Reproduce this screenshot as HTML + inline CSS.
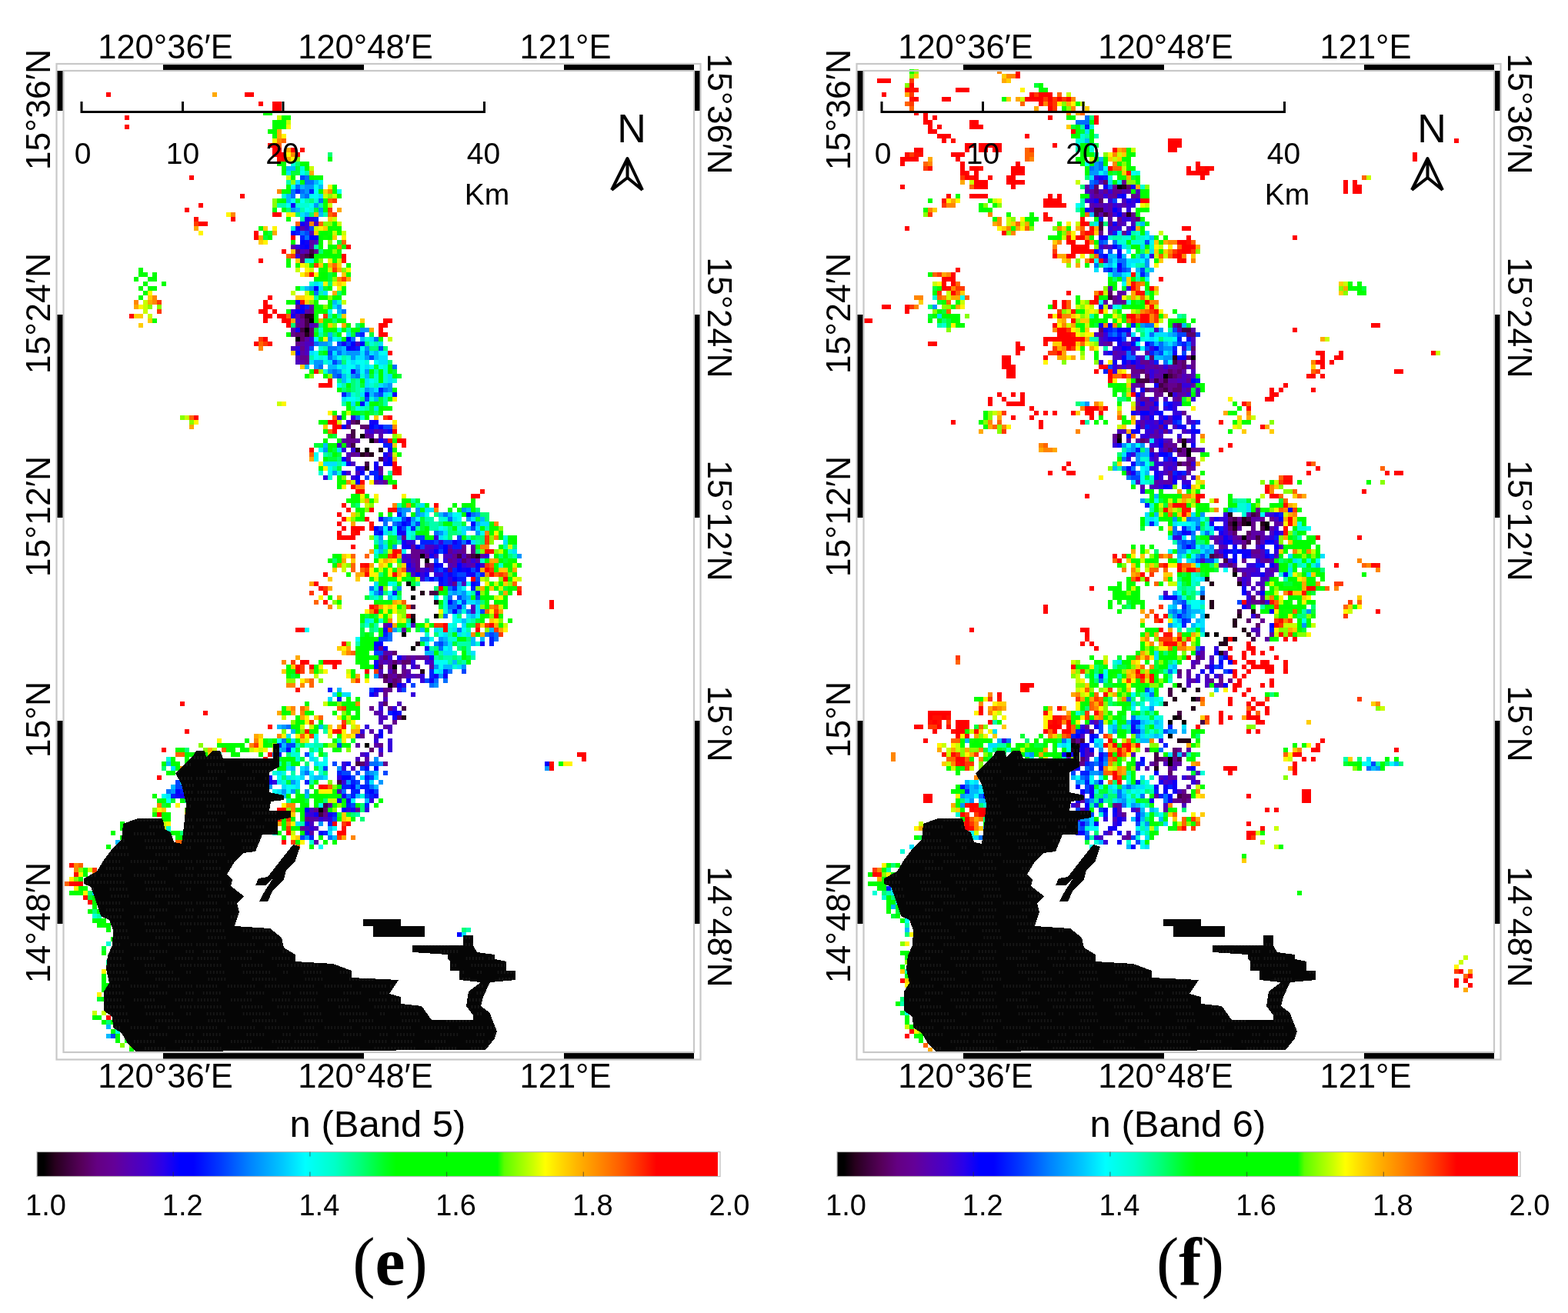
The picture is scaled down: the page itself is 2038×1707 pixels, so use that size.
<!DOCTYPE html>
<html><head><meta charset="utf-8"><title>n (Band 5) / n (Band 6)</title>
<style>html,body{margin:0;padding:0;background:#fff;} svg{display:block;} text{font-family:'Liberation Sans', Arial, sans-serif;fill:#000;} text.serif{font-family:'Liberation Serif',serif;font-weight:bold;}</style>
</head><body>
<svg width="2038" height="1707" viewBox="0 0 2038 1707">
<defs><linearGradient id="cb" x1="0" x2="1" y1="0" y2="0"><stop offset="0" stop-color="#000000"/><stop offset="0.01" stop-color="#000000"/><stop offset="0.027" stop-color="#28001e"/><stop offset="0.046" stop-color="#3e003e"/><stop offset="0.064" stop-color="#550058"/><stop offset="0.088" stop-color="#640082"/><stop offset="0.113" stop-color="#640098"/><stop offset="0.137" stop-color="#5500b4"/><stop offset="0.161" stop-color="#4600cb"/><stop offset="0.186" stop-color="#2800eb"/><stop offset="0.209" stop-color="#0000ff"/><stop offset="0.229" stop-color="#0000ff"/><stop offset="0.27" stop-color="#003cff"/><stop offset="0.31" stop-color="#0080ff"/><stop offset="0.36" stop-color="#00c8ff"/><stop offset="0.393" stop-color="#00ffff"/><stop offset="0.436" stop-color="#00ffc8"/><stop offset="0.474" stop-color="#00ff78"/><stop offset="0.51" stop-color="#00ff1e"/><stop offset="0.526" stop-color="#00ff00"/><stop offset="0.674" stop-color="#00ff00"/><stop offset="0.684" stop-color="#5aff00"/><stop offset="0.706" stop-color="#96ff00"/><stop offset="0.725" stop-color="#c8ff00"/><stop offset="0.744" stop-color="#ffff00"/><stop offset="0.768" stop-color="#ffd700"/><stop offset="0.791" stop-color="#ffb400"/><stop offset="0.828" stop-color="#ff8200"/><stop offset="0.856" stop-color="#ff5a00"/><stop offset="0.885" stop-color="#ff2800"/><stop offset="0.907" stop-color="#ff0000"/><stop offset="0.996" stop-color="#ff0000"/><stop offset="0.997" stop-color="#ffffff"/><stop offset="1" stop-color="#ffffff"/></linearGradient></defs>
<defs><pattern id="tex" width="126" height="54" patternUnits="userSpaceOnUse"><rect x="4.8" y="2" width="1.6" height="4" fill="#1c1c1c"/><rect x="9.0" y="2" width="1.6" height="4" fill="#1c1c1c"/><rect x="13.2" y="2" width="1.6" height="4" fill="#1c1c1c"/><rect x="17.4" y="2" width="1.6" height="4" fill="#1c1c1c"/><rect x="21.6" y="2" width="1.6" height="4" fill="#1c1c1c"/><rect x="25.8" y="2" width="1.6" height="4" fill="#1c1c1c"/><rect x="30.0" y="2" width="1.6" height="4" fill="#1c1c1c"/><rect x="48.1" y="2" width="1.6" height="4" fill="#1c1c1c"/><rect x="52.3" y="2" width="1.6" height="4" fill="#1c1c1c"/><rect x="56.5" y="2" width="1.6" height="4" fill="#1c1c1c"/><rect x="60.7" y="2" width="1.6" height="4" fill="#1c1c1c"/><rect x="64.9" y="2" width="1.6" height="4" fill="#1c1c1c"/><rect x="69.1" y="2" width="1.6" height="4" fill="#1c1c1c"/><rect x="73.3" y="2" width="1.6" height="4" fill="#1c1c1c"/><rect x="101.7" y="2" width="1.6" height="4" fill="#1c1c1c"/><rect x="105.9" y="2" width="1.6" height="4" fill="#1c1c1c"/><rect x="110.1" y="2" width="1.6" height="4" fill="#1c1c1c"/><rect x="114.3" y="2" width="1.6" height="4" fill="#1c1c1c"/><rect x="118.5" y="2" width="1.6" height="4" fill="#1c1c1c"/><rect x="122.7" y="2" width="1.6" height="4" fill="#1c1c1c"/><rect x="0.3" y="11" width="1.6" height="4" fill="#1c1c1c"/><rect x="4.5" y="11" width="1.6" height="4" fill="#1c1c1c"/><rect x="8.7" y="11" width="1.6" height="4" fill="#1c1c1c"/><rect x="12.9" y="11" width="1.6" height="4" fill="#1c1c1c"/><rect x="17.1" y="11" width="1.6" height="4" fill="#1c1c1c"/><rect x="21.3" y="11" width="1.6" height="4" fill="#1c1c1c"/><rect x="25.5" y="11" width="1.6" height="4" fill="#1c1c1c"/><rect x="29.7" y="11" width="1.6" height="4" fill="#1c1c1c"/><rect x="33.9" y="11" width="1.6" height="4" fill="#1c1c1c"/><rect x="62.1" y="11" width="1.6" height="4" fill="#1c1c1c"/><rect x="66.3" y="11" width="1.6" height="4" fill="#1c1c1c"/><rect x="70.5" y="11" width="1.6" height="4" fill="#1c1c1c"/><rect x="74.7" y="11" width="1.6" height="4" fill="#1c1c1c"/><rect x="78.9" y="11" width="1.6" height="4" fill="#1c1c1c"/><rect x="83.1" y="11" width="1.6" height="4" fill="#1c1c1c"/><rect x="87.3" y="11" width="1.6" height="4" fill="#1c1c1c"/><rect x="108.6" y="11" width="1.6" height="4" fill="#1c1c1c"/><rect x="112.8" y="11" width="1.6" height="4" fill="#1c1c1c"/><rect x="117.0" y="11" width="1.6" height="4" fill="#1c1c1c"/><rect x="121.2" y="11" width="1.6" height="4" fill="#1c1c1c"/><rect x="16.7" y="20" width="1.6" height="4" fill="#1c1c1c"/><rect x="20.9" y="20" width="1.6" height="4" fill="#1c1c1c"/><rect x="25.1" y="20" width="1.6" height="4" fill="#1c1c1c"/><rect x="29.3" y="20" width="1.6" height="4" fill="#1c1c1c"/><rect x="33.5" y="20" width="1.6" height="4" fill="#1c1c1c"/><rect x="37.7" y="20" width="1.6" height="4" fill="#1c1c1c"/><rect x="63.8" y="20" width="1.6" height="4" fill="#1c1c1c"/><rect x="68.0" y="20" width="1.6" height="4" fill="#1c1c1c"/><rect x="72.2" y="20" width="1.6" height="4" fill="#1c1c1c"/><rect x="76.4" y="20" width="1.6" height="4" fill="#1c1c1c"/><rect x="80.6" y="20" width="1.6" height="4" fill="#1c1c1c"/><rect x="84.8" y="20" width="1.6" height="4" fill="#1c1c1c"/><rect x="89.0" y="20" width="1.6" height="4" fill="#1c1c1c"/><rect x="93.2" y="20" width="1.6" height="4" fill="#1c1c1c"/><rect x="97.4" y="20" width="1.6" height="4" fill="#1c1c1c"/><rect x="116.2" y="20" width="1.6" height="4" fill="#1c1c1c"/><rect x="120.4" y="20" width="1.6" height="4" fill="#1c1c1c"/><rect x="18.5" y="29" width="1.6" height="4" fill="#1c1c1c"/><rect x="22.7" y="29" width="1.6" height="4" fill="#1c1c1c"/><rect x="26.9" y="29" width="1.6" height="4" fill="#1c1c1c"/><rect x="31.1" y="29" width="1.6" height="4" fill="#1c1c1c"/><rect x="35.3" y="29" width="1.6" height="4" fill="#1c1c1c"/><rect x="39.5" y="29" width="1.6" height="4" fill="#1c1c1c"/><rect x="76.0" y="29" width="1.6" height="4" fill="#1c1c1c"/><rect x="80.2" y="29" width="1.6" height="4" fill="#1c1c1c"/><rect x="84.4" y="29" width="1.6" height="4" fill="#1c1c1c"/><rect x="88.6" y="29" width="1.6" height="4" fill="#1c1c1c"/><rect x="92.8" y="29" width="1.6" height="4" fill="#1c1c1c"/><rect x="97.0" y="29" width="1.6" height="4" fill="#1c1c1c"/><rect x="101.2" y="29" width="1.6" height="4" fill="#1c1c1c"/><rect x="105.4" y="29" width="1.6" height="4" fill="#1c1c1c"/><rect x="3.2" y="38" width="1.6" height="4" fill="#1c1c1c"/><rect x="7.4" y="38" width="1.6" height="4" fill="#1c1c1c"/><rect x="11.6" y="38" width="1.6" height="4" fill="#1c1c1c"/><rect x="15.8" y="38" width="1.6" height="4" fill="#1c1c1c"/><rect x="20.0" y="38" width="1.6" height="4" fill="#1c1c1c"/><rect x="24.2" y="38" width="1.6" height="4" fill="#1c1c1c"/><rect x="28.4" y="38" width="1.6" height="4" fill="#1c1c1c"/><rect x="43.9" y="38" width="1.6" height="4" fill="#1c1c1c"/><rect x="48.1" y="38" width="1.6" height="4" fill="#1c1c1c"/><rect x="52.3" y="38" width="1.6" height="4" fill="#1c1c1c"/><rect x="56.5" y="38" width="1.6" height="4" fill="#1c1c1c"/><rect x="60.7" y="38" width="1.6" height="4" fill="#1c1c1c"/><rect x="64.9" y="38" width="1.6" height="4" fill="#1c1c1c"/><rect x="69.1" y="38" width="1.6" height="4" fill="#1c1c1c"/><rect x="73.3" y="38" width="1.6" height="4" fill="#1c1c1c"/><rect x="77.5" y="38" width="1.6" height="4" fill="#1c1c1c"/><rect x="92.6" y="38" width="1.6" height="4" fill="#1c1c1c"/><rect x="96.8" y="38" width="1.6" height="4" fill="#1c1c1c"/><rect x="101.0" y="38" width="1.6" height="4" fill="#1c1c1c"/><rect x="105.2" y="38" width="1.6" height="4" fill="#1c1c1c"/><rect x="109.4" y="38" width="1.6" height="4" fill="#1c1c1c"/><rect x="113.6" y="38" width="1.6" height="4" fill="#1c1c1c"/><rect x="117.8" y="38" width="1.6" height="4" fill="#1c1c1c"/><rect x="122.0" y="38" width="1.6" height="4" fill="#1c1c1c"/><rect x="11.9" y="47" width="1.6" height="4" fill="#1c1c1c"/><rect x="16.1" y="47" width="1.6" height="4" fill="#1c1c1c"/><rect x="20.3" y="47" width="1.6" height="4" fill="#1c1c1c"/><rect x="24.5" y="47" width="1.6" height="4" fill="#1c1c1c"/><rect x="28.7" y="47" width="1.6" height="4" fill="#1c1c1c"/><rect x="32.9" y="47" width="1.6" height="4" fill="#1c1c1c"/><rect x="68.5" y="47" width="1.6" height="4" fill="#1c1c1c"/><rect x="72.7" y="47" width="1.6" height="4" fill="#1c1c1c"/><rect x="76.9" y="47" width="1.6" height="4" fill="#1c1c1c"/><rect x="81.1" y="47" width="1.6" height="4" fill="#1c1c1c"/><rect x="85.3" y="47" width="1.6" height="4" fill="#1c1c1c"/><rect x="89.5" y="47" width="1.6" height="4" fill="#1c1c1c"/><rect x="115.6" y="47" width="1.6" height="4" fill="#1c1c1c"/><rect x="119.8" y="47" width="1.6" height="4" fill="#1c1c1c"/><rect x="124.0" y="47" width="1.6" height="4" fill="#1c1c1c"/></pattern></defs><g shape-rendering="crispEdges">
<path fill="#000000" d="M552 726h6v6h-6zM474 966h6v6h-6z"/>
<path fill="#000000" d="M402 414h6v6h-6zM396 426h6v6h-6zM384 438h6v6h-6zM468 564h6v6h-6zM480 570h6v6h-6zM474 582h6v6h-6zM546 720h6v6h-6zM528 756h6v6h-6zM534 762h6v6h-6zM534 774h6v6h-6zM564 798h6v6h-6zM534 804h6v6h-6zM522 822h6v6h-6zM534 840h6v6h-6zM510 864h6v6h-6zM504 888h6v6h-6zM414 1050h6v6h-6z"/>
<path fill="#23001a" d="M402 330h6v6h-6zM396 408h12v6h-12zM396 432h6v6h-6zM462 582h6v6h-6zM492 582h6v6h-6zM468 588h6v6h-6zM480 588h6v6h-6zM474 606h6v6h-6zM618 720h6v6h-6zM546 768h6v6h-6zM564 780h6v6h-6zM534 798h6v6h-6zM540 834h6v6h-6zM546 870h6v6h-6zM522 930h6v6h-6z"/>
<path fill="#430044" d="M402 324h6v6h-6zM396 330h6v6h-6zM396 414h6v6h-6zM396 420h6v6h-6zM390 426h6v6h-6zM462 546h6v6h-6zM456 558h6v6h-6zM456 564h6v6h-6zM456 576h6v6h-6zM474 588h6v6h-6zM492 594h6v6h-6zM474 600h6v6h-6zM594 720h6v6h-6zM612 720h6v6h-6zM558 768h12v6h-12zM534 786h6v6h-6zM498 876h6v6h-6zM522 918h6v6h-6zM462 990h6v6h-6zM438 1014h6v6h-6zM420 1044h6v6h-6zM414 1056h6v6h-6z"/>
<path fill="#5c006b" d="M384 324h6v6h-6zM390 330h6v6h-6zM390 336h6v6h-6zM390 408h6v6h-6zM402 426h6v6h-6zM384 432h12v6h-12zM402 432h6v6h-6zM390 438h6v6h-6zM456 546h6v6h-6zM468 552h12v6h-12zM486 570h6v6h-6zM606 720h6v6h-6zM600 726h6v6h-6zM552 732h6v6h-6zM510 846h6v6h-6zM498 852h6v6h-6zM510 858h6v6h-6zM522 858h12v6h-12zM492 864h6v6h-6zM510 870h6v6h-6zM516 876h6v6h-6zM498 882h6v6h-6zM510 882h6v6h-6zM510 888h6v6h-6zM498 912h6v6h-6zM516 930h6v6h-6zM480 972h6v6h-6zM468 990h6v6h-6zM420 1050h6v6h-6z"/>
<path fill="#64008d" d="M408 324h6v6h-6zM384 396h6v6h-6zM402 402h6v6h-6zM390 414h6v6h-6zM384 420h12v6h-12zM378 432h6v6h-6zM384 444h6v6h-6zM390 450h6v6h-6zM390 462h12v6h-12zM396 468h6v6h-6zM450 552h6v6h-6zM450 564h6v6h-6zM474 564h6v6h-6zM450 570h12v6h-12zM456 588h6v6h-6zM492 606h6v6h-6zM498 624h6v6h-6zM522 696h6v6h-6zM600 708h6v6h-6zM534 714h12v6h-12zM582 714h6v6h-6zM600 714h6v6h-6zM612 714h6v6h-6zM534 720h12v6h-12zM552 720h6v6h-6zM588 720h6v6h-6zM540 726h6v6h-6zM582 726h6v6h-6zM540 732h6v6h-6zM558 732h6v6h-6zM540 738h6v6h-6zM582 738h6v6h-6zM588 756h6v6h-6zM492 840h6v6h-6zM528 852h6v6h-6zM540 852h12v6h-12zM504 864h6v6h-6zM522 870h6v6h-6zM504 876h6v6h-6zM522 876h6v6h-6zM516 882h6v6h-6zM498 894h12v6h-12zM498 900h6v6h-6zM480 918h6v6h-6zM504 918h6v6h-6zM510 936h6v6h-6zM468 954h6v6h-6zM492 966h6v6h-6zM498 990h6v6h-6zM408 1050h6v6h-6zM462 1050h6v6h-6zM420 1056h6v6h-6zM396 1062h6v6h-6zM390 1074h6v6h-6z"/>
<path fill="#5c00a6" d="M390 294h6v6h-6zM402 312h6v6h-6zM378 318h6v6h-6zM402 318h6v6h-6zM396 324h6v6h-6zM402 396h6v6h-6zM396 402h6v6h-6zM384 408h6v6h-6zM408 420h6v6h-6zM378 426h6v6h-6zM396 438h6v6h-6zM390 444h6v6h-6zM390 456h6v6h-6zM384 462h6v6h-6zM390 468h6v6h-6zM486 558h6v6h-6zM480 564h6v6h-6zM492 564h6v6h-6zM444 570h6v6h-6zM462 570h6v6h-6zM450 576h6v6h-6zM462 588h6v6h-6zM450 594h6v6h-6zM492 612h6v6h-6zM486 624h6v6h-6zM534 708h6v6h-6zM612 708h6v6h-6zM546 714h6v6h-6zM594 714h6v6h-6zM624 720h6v6h-6zM534 726h6v6h-6zM588 726h6v6h-6zM606 726h6v6h-6zM618 726h6v6h-6zM588 732h6v6h-6zM612 732h6v6h-6zM558 738h6v6h-6zM498 810h6v6h-6zM522 816h6v6h-6zM498 846h12v6h-12zM534 852h6v6h-6zM552 852h6v6h-6zM492 858h6v6h-6zM504 858h6v6h-6zM516 858h6v6h-6zM522 864h6v6h-6zM540 864h6v6h-6zM558 864h6v6h-6zM528 870h6v6h-6zM492 876h6v6h-6zM510 876h6v6h-6zM540 876h6v6h-6zM504 882h6v6h-6zM486 924h6v6h-6zM498 942h6v6h-6zM480 948h6v6h-6zM462 966h6v6h-6zM486 966h6v6h-6zM492 978h6v6h-6zM474 984h6v6h-6zM426 1044h6v6h-6zM402 1062h12v6h-12zM402 1080h6v6h-6zM408 1092h6v6h-6z"/>
<path fill="#4d00c0" d="M408 288h6v6h-6zM402 300h6v6h-6zM408 312h6v6h-6zM390 324h6v6h-6zM384 414h6v6h-6zM402 420h6v6h-6zM396 444h12v6h-12zM462 444h6v6h-6zM378 450h6v6h-6zM396 450h6v6h-6zM396 456h6v6h-6zM384 468h6v6h-6zM474 558h6v6h-6zM492 558h6v6h-6zM498 570h6v6h-6zM438 576h6v6h-6zM450 588h6v6h-6zM504 588h6v6h-6zM456 600h6v6h-6zM450 612h6v6h-6zM462 612h6v6h-6zM492 624h6v6h-6zM552 708h12v6h-12zM582 708h6v6h-6zM552 714h6v6h-6zM588 714h6v6h-6zM528 720h6v6h-6zM564 720h6v6h-6zM576 720h12v6h-12zM600 720h6v6h-6zM522 726h6v6h-6zM534 732h6v6h-6zM582 732h6v6h-6zM606 732h6v6h-6zM624 732h6v6h-6zM546 738h6v6h-6zM534 744h6v6h-6zM600 756h6v6h-6zM612 786h6v6h-6zM612 792h6v6h-6zM534 810h6v6h-6zM492 852h6v6h-6zM522 852h6v6h-6zM498 858h6v6h-6zM558 858h6v6h-6zM492 870h6v6h-6zM504 870h6v6h-6zM528 876h12v6h-12zM498 906h6v6h-6zM492 912h6v6h-6zM516 912h6v6h-6zM492 924h6v6h-6zM492 930h12v6h-12zM492 936h6v6h-6zM504 942h6v6h-6zM504 948h6v6h-6zM486 954h6v6h-6zM468 978h6v6h-6zM462 984h6v6h-6zM474 990h6v6h-6zM456 996h6v6h-6zM438 1026h6v6h-6zM402 1050h6v6h-6zM420 1062h6v6h-6zM402 1068h6v6h-6zM396 1074h6v6h-6zM408 1074h6v6h-6z"/>
<path fill="#3500dd" d="M402 282h6v6h-6zM396 288h6v6h-6zM396 294h6v6h-6zM384 318h6v6h-6zM384 330h6v6h-6zM378 402h6v6h-6zM402 438h6v6h-6zM384 450h6v6h-6zM438 540h6v6h-6zM456 540h6v6h-6zM450 546h6v6h-6zM480 558h6v6h-6zM498 558h6v6h-6zM444 582h6v6h-6zM456 582h6v6h-6zM498 594h6v6h-6zM468 606h6v6h-6zM420 618h6v6h-6zM456 618h6v6h-6zM564 696h6v6h-6zM528 702h12v6h-12zM570 702h6v6h-6zM564 708h6v6h-6zM558 714h6v6h-6zM522 720h6v6h-6zM630 720h6v6h-6zM528 726h6v6h-6zM576 726h6v6h-6zM594 726h6v6h-6zM612 726h6v6h-6zM600 732h6v6h-6zM528 738h12v6h-12zM552 738h6v6h-6zM546 744h6v6h-6zM564 744h12v6h-12zM546 750h6v6h-6zM582 750h6v6h-6zM582 756h6v6h-6zM492 762h6v6h-6zM504 810h6v6h-6zM504 852h6v6h-6zM534 858h6v6h-6zM552 858h6v6h-6zM534 864h6v6h-6zM546 876h6v6h-6zM546 882h6v6h-6zM522 888h6v6h-6zM492 894h6v6h-6zM516 894h6v6h-6zM486 900h6v6h-6zM534 900h6v6h-6zM492 918h6v6h-6zM510 918h6v6h-6zM474 942h6v6h-6zM468 948h6v6h-6zM462 954h6v6h-6zM486 960h6v6h-6zM504 960h6v6h-6zM504 966h6v6h-6zM492 972h6v6h-6zM504 972h6v6h-6zM474 978h6v6h-6zM444 990h6v6h-6zM444 996h6v6h-6zM438 1008h6v6h-6zM354 1014h6v6h-6zM444 1014h6v6h-6zM480 1038h6v6h-6zM450 1050h6v6h-6zM474 1050h6v6h-6zM396 1056h12v6h-12zM414 1062h6v6h-6zM426 1062h6v6h-6zM402 1074h6v6h-6z"/>
<path fill="#1000f7" d="M378 264h6v6h-6zM396 282h6v6h-6zM390 288h6v6h-6zM384 294h6v6h-6zM396 312h6v6h-6zM390 318h6v6h-6zM384 390h6v6h-6zM390 396h6v6h-6zM378 408h6v6h-6zM384 426h6v6h-6zM444 444h6v6h-6zM456 450h6v6h-6zM456 480h6v6h-6zM510 510h6v6h-6zM480 546h12v6h-12zM504 558h6v6h-6zM492 570h6v6h-6zM504 582h6v6h-6zM498 588h6v6h-6zM450 600h6v6h-6zM486 600h6v6h-6zM498 600h6v6h-6zM462 606h6v6h-6zM486 606h6v6h-6zM462 618h6v6h-6zM492 672h6v6h-6zM528 672h6v6h-6zM516 690h12v6h-12zM522 702h6v6h-6zM588 702h6v6h-6zM522 708h12v6h-12zM558 720h6v6h-6zM528 732h6v6h-6zM570 732h6v6h-6zM576 738h6v6h-6zM600 738h6v6h-6zM618 738h6v6h-6zM552 744h6v6h-6zM582 744h6v6h-6zM606 744h12v6h-12zM570 756h6v6h-6zM594 786h6v6h-6zM498 816h6v6h-6zM624 834h6v6h-6zM486 840h6v6h-6zM552 840h6v6h-6zM516 852h6v6h-6zM558 852h6v6h-6zM486 858h6v6h-6zM564 876h6v6h-6zM576 876h6v6h-6zM528 882h6v6h-6zM558 882h6v6h-6zM486 894h6v6h-6zM516 924h6v6h-6zM510 930h6v6h-6zM492 948h6v6h-6zM450 990h6v6h-6zM474 996h6v6h-6zM348 1008h6v6h-6zM348 1014h6v6h-6zM240 1026h6v6h-6zM228 1032h12v6h-12zM444 1032h6v6h-6zM486 1032h6v6h-6zM438 1038h6v6h-6zM450 1038h6v6h-6zM456 1050h6v6h-6zM408 1056h6v6h-6zM426 1056h6v6h-6zM396 1068h6v6h-6zM396 1080h6v6h-6z"/>
<path fill="#0000ff" d="M378 300h6v6h-6zM402 306h12v6h-12zM390 312h6v6h-6zM396 318h6v6h-6zM408 372h6v6h-6zM384 402h12v6h-12zM450 438h6v6h-6zM456 444h6v6h-6zM468 444h6v6h-6zM450 450h6v6h-6zM384 456h6v6h-6zM474 510h6v6h-6zM468 522h6v6h-6zM444 552h6v6h-6zM480 552h6v6h-6zM492 552h6v6h-6zM444 594h6v6h-6zM504 594h6v6h-6zM504 600h6v6h-6zM444 612h6v6h-6zM468 612h6v6h-6zM492 618h6v6h-6zM462 624h6v6h-6zM606 666h6v6h-6zM522 678h6v6h-6zM612 678h6v6h-6zM486 684h6v6h-6zM516 684h6v6h-6zM492 690h6v6h-6zM606 702h6v6h-6zM540 708h6v6h-6zM576 708h6v6h-6zM564 714h6v6h-6zM576 714h6v6h-6zM564 732h6v6h-6zM594 732h6v6h-6zM618 732h6v6h-6zM594 738h6v6h-6zM606 738h6v6h-6zM540 744h6v6h-6zM558 750h6v6h-6zM570 750h6v6h-6zM588 750h6v6h-6zM612 756h6v6h-6zM618 768h6v6h-6zM582 780h6v6h-6zM588 792h6v6h-6zM486 834h12v6h-12zM498 840h6v6h-6zM486 864h6v6h-6zM516 888h6v6h-6zM480 900h6v6h-6zM510 924h6v6h-6zM492 954h6v6h-6zM372 972h6v6h-6zM708 990h6v6h-6zM486 996h6v6h-6zM444 1008h12v6h-12zM456 1020h6v6h-6zM228 1026h6v6h-6zM480 1026h6v6h-6zM240 1032h6v6h-6zM396 1050h6v6h-6zM444 1050h6v6h-6zM414 1080h6v6h-6zM198 1098h6v6h-6zM594 1212h6v6h-6z"/>
<path fill="#001fff" d="M384 246h6v6h-6zM402 246h6v6h-6zM408 282h6v6h-6zM384 300h6v6h-6zM390 306h6v6h-6zM396 396h6v6h-6zM468 432h6v6h-6zM462 450h6v6h-6zM492 504h6v6h-6zM444 510h6v6h-6zM486 552h6v6h-6zM498 576h12v6h-12zM480 612h12v6h-12zM486 618h6v6h-6zM516 666h6v6h-6zM528 678h6v6h-6zM504 684h6v6h-6zM534 684h6v6h-6zM486 690h6v6h-6zM546 702h18v6h-18zM594 702h6v6h-6zM570 708h6v6h-6zM588 708h12v6h-12zM564 738h6v6h-6zM588 738h6v6h-6zM576 744h6v6h-6zM588 744h6v6h-6zM624 744h6v6h-6zM576 750h6v6h-6zM594 750h12v6h-12zM576 756h6v6h-6zM618 756h6v6h-6zM588 762h6v6h-6zM612 762h6v6h-6zM510 768h6v6h-6zM498 822h6v6h-6zM636 828h6v6h-6zM636 834h6v6h-6zM558 870h6v6h-6zM576 870h6v6h-6zM558 876h6v6h-6zM426 894h6v6h-6zM438 906h6v6h-6zM504 924h6v6h-6zM360 966h6v6h-6zM360 978h6v6h-6zM438 1002h6v6h-6zM474 1008h6v6h-6zM396 1014h6v6h-6zM456 1014h6v6h-6zM444 1020h12v6h-12zM468 1020h12v6h-12zM234 1026h6v6h-6zM258 1026h6v6h-6zM456 1026h12v6h-12zM474 1026h6v6h-6zM222 1032h6v6h-6zM246 1032h6v6h-6zM456 1032h6v6h-6zM480 1032h6v6h-6zM450 1044h6v6h-6zM474 1044h6v6h-6zM432 1056h6v6h-6zM426 1068h6v6h-6zM420 1080h6v6h-6zM402 1086h6v6h-6z"/>
<path fill="#0045ff" d="M390 228h6v6h-6zM402 294h6v6h-6zM396 300h6v6h-6zM462 432h6v6h-6zM438 444h6v6h-6zM450 444h6v6h-6zM402 450h6v6h-6zM492 450h6v6h-6zM426 456h6v6h-6zM480 462h6v6h-6zM432 468h6v6h-6zM438 486h6v6h-6zM492 510h6v6h-6zM474 516h6v6h-6zM498 552h12v6h-12zM474 618h6v6h-6zM522 672h6v6h-6zM516 678h6v6h-6zM540 678h6v6h-6zM492 684h6v6h-6zM522 684h6v6h-6zM612 684h6v6h-6zM540 696h12v6h-12zM594 696h6v6h-6zM564 702h6v6h-6zM576 702h12v6h-12zM546 708h6v6h-6zM570 714h6v6h-6zM564 726h6v6h-6zM570 738h6v6h-6zM612 738h6v6h-6zM594 744h12v6h-12zM552 750h6v6h-6zM564 750h6v6h-6zM618 750h6v6h-6zM492 768h6v6h-6zM594 774h6v6h-6zM618 774h6v6h-6zM600 780h6v6h-6zM624 792h6v6h-6zM636 822h6v6h-6zM492 828h12v6h-12zM570 834h6v6h-6zM486 846h12v6h-12zM600 870h6v6h-6zM552 882h6v6h-6zM534 888h6v6h-6zM480 894h6v6h-6zM522 894h6v6h-6zM372 966h12v6h-12zM438 966h6v6h-6zM396 978h6v6h-6zM432 990h6v6h-6zM420 996h6v6h-6zM468 996h6v6h-6zM444 1002h12v6h-12zM462 1002h6v6h-6zM498 1002h6v6h-6zM456 1008h6v6h-6zM480 1008h6v6h-6zM228 1014h6v6h-6zM462 1014h6v6h-6zM474 1014h6v6h-6zM228 1020h12v6h-12zM486 1026h6v6h-6zM474 1032h6v6h-6zM456 1044h6v6h-6zM432 1062h6v6h-6zM240 1074h6v6h-6zM390 1086h6v6h-6zM192 1098h6v6h-6zM204 1098h6v6h-6zM144 1344h6v6h-6z"/>
<path fill="#006fff" d="M396 228h6v6h-6zM396 234h12v6h-12zM384 240h6v6h-6zM378 246h6v6h-6zM390 246h6v6h-6zM378 252h6v6h-6zM396 252h6v6h-6zM414 258h6v6h-6zM390 300h6v6h-6zM396 306h6v6h-6zM408 378h6v6h-6zM444 402h6v6h-6zM456 438h6v6h-6zM486 438h6v6h-6zM408 444h6v6h-6zM426 450h12v6h-12zM438 456h6v6h-6zM474 456h6v6h-6zM426 462h6v6h-6zM414 474h6v6h-6zM510 474h6v6h-6zM432 480h6v6h-6zM432 486h6v6h-6zM462 486h6v6h-6zM498 504h6v6h-6zM486 510h6v6h-6zM462 540h6v6h-6zM516 660h6v6h-6zM576 666h6v6h-6zM612 666h6v6h-6zM498 672h6v6h-6zM582 672h6v6h-6zM498 678h6v6h-6zM510 678h6v6h-6zM564 690h6v6h-6zM600 702h6v6h-6zM618 744h6v6h-6zM480 762h6v6h-6zM582 762h6v6h-6zM582 774h6v6h-6zM588 780h6v6h-6zM582 786h12v6h-12zM606 792h6v6h-6zM576 798h6v6h-6zM594 816h6v6h-6zM504 822h6v6h-6zM630 822h6v6h-6zM642 822h6v6h-6zM504 828h6v6h-6zM642 828h6v6h-6zM564 834h6v6h-6zM570 840h6v6h-6zM582 870h6v6h-6zM564 882h6v6h-6zM576 882h6v6h-6zM558 888h6v6h-6zM372 942h6v6h-6zM366 960h6v6h-6zM480 990h12v6h-12zM396 1002h6v6h-6zM474 1002h6v6h-6zM480 1020h6v6h-6zM216 1026h6v6h-6zM444 1026h6v6h-6zM252 1032h6v6h-6zM450 1032h6v6h-6zM426 1086h6v6h-6zM204 1104h6v6h-6z"/>
<path fill="#0096ff" d="M396 240h12v6h-12zM396 246h6v6h-6zM390 252h6v6h-6zM408 264h6v6h-6zM378 270h6v6h-6zM414 270h6v6h-6zM402 372h6v6h-6zM438 396h6v6h-6zM468 426h12v6h-12zM426 438h6v6h-6zM414 444h12v6h-12zM438 450h6v6h-6zM474 450h6v6h-6zM450 456h18v6h-18zM456 462h6v6h-6zM474 462h6v6h-6zM408 468h12v6h-12zM438 468h6v6h-6zM408 474h6v6h-6zM426 480h6v6h-6zM438 480h6v6h-6zM462 480h6v6h-6zM474 480h6v6h-6zM456 486h6v6h-6zM504 498h6v6h-6zM474 504h6v6h-6zM504 504h6v6h-6zM450 510h6v6h-6zM420 582h6v6h-6zM432 612h6v6h-6zM522 660h12v6h-12zM540 660h6v6h-6zM600 660h6v6h-6zM522 666h6v6h-6zM540 666h6v6h-6zM618 666h6v6h-6zM504 672h6v6h-6zM534 672h6v6h-6zM606 672h6v6h-6zM570 690h6v6h-6zM618 690h6v6h-6zM492 696h6v6h-6zM516 696h6v6h-6zM492 708h6v6h-6zM510 708h6v6h-6zM672 720h6v6h-6zM594 756h6v6h-6zM516 762h6v6h-6zM486 768h6v6h-6zM588 768h6v6h-6zM600 768h6v6h-6zM600 774h6v6h-6zM582 792h6v6h-6zM594 792h6v6h-6zM510 816h6v6h-6zM546 828h12v6h-12zM570 828h6v6h-6zM576 834h6v6h-6zM564 864h6v6h-6zM600 864h6v6h-6zM486 876h6v6h-6zM570 876h6v6h-6zM564 888h6v6h-6zM366 942h6v6h-6zM366 972h6v6h-6zM354 978h6v6h-6zM486 984h6v6h-6zM492 990h6v6h-6zM438 996h6v6h-6zM708 996h6v6h-6zM342 1002h6v6h-6zM480 1002h6v6h-6zM378 1014h6v6h-6zM450 1014h6v6h-6zM492 1014h6v6h-6zM252 1020h6v6h-6zM348 1020h6v6h-6zM462 1020h6v6h-6zM222 1026h6v6h-6zM366 1026h6v6h-6zM378 1026h6v6h-6zM396 1026h6v6h-6zM414 1068h6v6h-6zM252 1080h6v6h-6zM396 1086h6v6h-6zM120 1152h6v6h-6zM126 1158h6v6h-6z"/>
<path fill="#00baff" d="M372 216h12v6h-12zM408 234h6v6h-6zM390 240h6v6h-6zM414 240h6v6h-6zM372 252h6v6h-6zM372 258h6v6h-6zM384 270h6v6h-6zM396 276h6v6h-6zM414 276h6v6h-6zM396 372h6v6h-6zM432 390h6v6h-6zM438 402h6v6h-6zM426 432h6v6h-6zM468 438h6v6h-6zM426 444h6v6h-6zM444 450h6v6h-6zM444 456h6v6h-6zM486 456h6v6h-6zM432 462h6v6h-6zM486 462h6v6h-6zM396 474h6v6h-6zM426 474h12v6h-12zM462 474h6v6h-6zM444 486h6v6h-6zM474 486h6v6h-6zM444 492h6v6h-6zM498 498h6v6h-6zM480 504h6v6h-6zM480 510h6v6h-6zM486 516h6v6h-6zM420 576h6v6h-6zM606 660h6v6h-6zM546 666h6v6h-6zM570 666h6v6h-6zM582 666h6v6h-6zM624 672h6v6h-6zM534 678h6v6h-6zM618 678h6v6h-6zM606 684h6v6h-6zM492 702h6v6h-6zM492 714h6v6h-6zM594 762h6v6h-6zM582 768h6v6h-6zM594 768h6v6h-6zM504 774h6v6h-6zM606 774h6v6h-6zM618 780h6v6h-6zM600 786h6v6h-6zM612 798h6v6h-6zM600 804h6v6h-6zM546 816h6v6h-6zM636 816h6v6h-6zM576 828h6v6h-6zM612 828h6v6h-6zM624 828h6v6h-6zM612 834h6v6h-6zM552 846h12v6h-12zM588 858h6v6h-6zM576 864h12v6h-12zM438 894h6v6h-6zM360 942h6v6h-6zM414 942h6v6h-6zM378 948h6v6h-6zM366 966h6v6h-6zM360 972h6v6h-6zM216 990h6v6h-6zM378 996h6v6h-6zM396 996h6v6h-6zM390 1002h6v6h-6zM486 1002h6v6h-6zM408 1008h12v6h-12zM234 1014h6v6h-6zM222 1020h6v6h-6zM240 1020h6v6h-6zM486 1020h6v6h-6zM366 1032h6v6h-6zM396 1032h6v6h-6zM462 1032h6v6h-6zM474 1038h6v6h-6zM426 1074h6v6h-6zM432 1086h6v6h-6zM150 1092h6v6h-6zM198 1104h6v6h-6zM126 1152h6v6h-6zM120 1158h6v6h-6zM138 1332h6v6h-6zM138 1344h6v6h-6z"/>
<path fill="#00e1ff" d="M372 222h6v6h-6zM384 234h6v6h-6zM414 252h6v6h-6zM390 276h6v6h-6zM408 366h6v6h-6zM414 372h6v6h-6zM420 378h6v6h-6zM432 396h6v6h-6zM450 432h6v6h-6zM480 438h6v6h-6zM492 444h6v6h-6zM402 456h6v6h-6zM432 456h6v6h-6zM468 456h6v6h-6zM480 456h6v6h-6zM462 462h12v6h-12zM492 462h12v6h-12zM402 468h6v6h-6zM426 468h6v6h-6zM456 468h6v6h-6zM492 468h12v6h-12zM444 474h6v6h-6zM474 474h6v6h-6zM504 486h6v6h-6zM474 492h6v6h-6zM504 492h6v6h-6zM474 498h6v6h-6zM492 498h6v6h-6zM486 504h6v6h-6zM468 510h6v6h-6zM498 510h6v6h-6zM444 516h6v6h-6zM456 522h6v6h-6zM474 522h6v6h-6zM486 528h6v6h-6zM438 582h6v6h-6zM420 600h18v6h-18zM546 654h6v6h-6zM552 660h12v6h-12zM510 672h12v6h-12zM588 672h6v6h-6zM612 672h6v6h-6zM624 678h12v6h-12zM528 684h6v6h-6zM600 684h6v6h-6zM618 684h6v6h-6zM498 690h6v6h-6zM576 690h6v6h-6zM600 690h6v6h-6zM570 696h6v6h-6zM612 702h6v6h-6zM654 702h6v6h-6zM498 708h6v6h-6zM666 714h6v6h-6zM486 756h6v6h-6zM594 780h6v6h-6zM606 780h12v6h-12zM618 786h6v6h-6zM618 792h6v6h-6zM606 798h6v6h-6zM474 804h6v6h-6zM600 810h6v6h-6zM564 816h6v6h-6zM588 816h6v6h-6zM576 822h6v6h-6zM594 822h6v6h-6zM606 822h6v6h-6zM582 834h6v6h-6zM582 840h6v6h-6zM576 846h12v6h-12zM612 846h6v6h-6zM594 864h6v6h-6zM570 870h6v6h-6zM432 900h6v6h-6zM444 900h12v6h-12zM426 906h6v6h-6zM372 954h6v6h-6zM378 960h6v6h-6zM402 984h6v6h-6zM408 990h6v6h-6zM222 996h6v6h-6zM372 996h6v6h-6zM390 996h6v6h-6zM360 1002h6v6h-6zM342 1008h6v6h-6zM372 1008h6v6h-6zM390 1008h6v6h-6zM402 1008h6v6h-6zM420 1008h6v6h-6zM468 1008h6v6h-6zM486 1008h6v6h-6zM360 1014h6v6h-6zM384 1014h6v6h-6zM480 1014h6v6h-6zM366 1020h6v6h-6zM384 1020h6v6h-6zM246 1026h6v6h-6zM360 1026h6v6h-6zM216 1032h6v6h-6zM348 1032h6v6h-6zM384 1068h6v6h-6zM426 1080h6v6h-6zM246 1086h6v6h-6zM132 1146h6v6h-6zM600 1212h6v6h-6z"/>
<path fill="#00fff6" d="M390 222h6v6h-6zM414 234h6v6h-6zM378 240h6v6h-6zM408 240h6v6h-6zM408 246h6v6h-6zM438 246h6v6h-6zM402 252h12v6h-12zM378 258h6v6h-6zM390 258h6v6h-6zM372 264h6v6h-6zM402 264h6v6h-6zM396 270h6v6h-6zM414 366h6v6h-6zM426 402h6v6h-6zM408 438h6v6h-6zM432 438h6v6h-6zM468 450h6v6h-6zM408 456h6v6h-6zM492 456h12v6h-12zM408 462h6v6h-6zM420 462h6v6h-6zM438 462h6v6h-6zM450 468h6v6h-6zM462 468h12v6h-12zM486 468h6v6h-6zM438 474h6v6h-6zM450 474h12v6h-12zM468 474h6v6h-6zM480 474h6v6h-6zM492 474h6v6h-6zM450 480h6v6h-6zM468 480h6v6h-6zM450 492h6v6h-6zM480 492h6v6h-6zM438 498h6v6h-6zM450 516h12v6h-12zM462 528h6v6h-6zM414 582h6v6h-6zM408 588h6v6h-6zM408 594h6v6h-6zM444 600h6v6h-6zM426 606h6v6h-6zM426 612h6v6h-6zM552 666h6v6h-6zM588 666h12v6h-12zM540 672h6v6h-6zM594 672h6v6h-6zM498 684h6v6h-6zM510 684h6v6h-6zM570 684h6v6h-6zM510 690h6v6h-6zM528 690h6v6h-6zM624 690h6v6h-6zM528 696h6v6h-6zM486 714h6v6h-6zM522 714h6v6h-6zM504 756h6v6h-6zM606 756h6v6h-6zM600 762h6v6h-6zM480 768h6v6h-6zM504 768h6v6h-6zM606 768h6v6h-6zM510 774h6v6h-6zM564 774h6v6h-6zM588 798h6v6h-6zM618 798h6v6h-6zM588 804h12v6h-12zM582 810h6v6h-6zM396 816h6v6h-6zM600 816h6v6h-6zM570 822h6v6h-6zM462 828h6v6h-6zM558 828h6v6h-6zM552 834h6v6h-6zM576 840h6v6h-6zM564 858h18v6h-18zM570 864h6v6h-6zM564 870h6v6h-6zM408 954h6v6h-6zM360 960h6v6h-6zM378 972h6v6h-6zM402 978h6v6h-6zM420 984h6v6h-6zM354 990h6v6h-6zM414 990h12v6h-12zM402 1002h6v6h-6zM360 1008h6v6h-6zM384 1008h6v6h-6zM372 1020h12v6h-12zM354 1026h6v6h-6zM372 1026h6v6h-6zM210 1032h6v6h-6zM216 1038h6v6h-6zM456 1038h6v6h-6zM414 1044h6v6h-6zM432 1074h6v6h-6zM414 1098h6v6h-6z"/>
<path fill="#00ffd6" d="M378 210h6v6h-6zM390 216h6v6h-6zM366 252h6v6h-6zM408 258h6v6h-6zM384 264h18v6h-18zM402 270h6v6h-6zM378 294h6v6h-6zM396 336h12v6h-12zM402 366h6v6h-6zM390 372h6v6h-6zM438 390h6v6h-6zM414 426h6v6h-6zM438 426h6v6h-6zM438 438h6v6h-6zM474 438h6v6h-6zM480 444h6v6h-6zM414 450h6v6h-6zM414 462h6v6h-6zM450 462h6v6h-6zM420 468h6v6h-6zM474 468h6v6h-6zM498 474h6v6h-6zM420 480h6v6h-6zM444 480h6v6h-6zM498 480h6v6h-6zM450 486h6v6h-6zM468 486h6v6h-6zM486 486h6v6h-6zM498 486h6v6h-6zM486 492h6v6h-6zM498 492h6v6h-6zM510 492h6v6h-6zM480 498h6v6h-6zM468 504h6v6h-6zM456 510h6v6h-6zM504 510h6v6h-6zM462 516h6v6h-6zM480 516h6v6h-6zM468 528h6v6h-6zM468 540h6v6h-6zM414 612h6v6h-6zM438 612h6v6h-6zM426 618h6v6h-6zM570 672h12v6h-12zM576 684h6v6h-6zM594 684h6v6h-6zM534 690h6v6h-6zM486 696h6v6h-6zM576 696h6v6h-6zM654 696h6v6h-6zM660 714h6v6h-6zM624 726h6v6h-6zM648 732h6v6h-6zM510 756h6v6h-6zM486 762h6v6h-6zM486 774h6v6h-6zM576 780h6v6h-6zM576 786h6v6h-6zM576 792h6v6h-6zM600 792h6v6h-6zM480 804h6v6h-6zM492 804h6v6h-6zM606 804h6v6h-6zM474 810h6v6h-6zM528 810h6v6h-6zM588 810h6v6h-6zM570 816h6v6h-6zM582 816h6v6h-6zM552 822h6v6h-6zM600 822h6v6h-6zM582 828h12v6h-12zM618 834h6v6h-6zM588 846h6v6h-6zM588 864h6v6h-6zM408 960h6v6h-6zM396 966h12v6h-12zM408 972h6v6h-6zM378 978h12v6h-12zM216 984h6v6h-6zM384 984h6v6h-6zM408 984h6v6h-6zM414 996h6v6h-6zM354 1002h6v6h-6zM366 1002h6v6h-6zM414 1002h6v6h-6zM378 1008h6v6h-6zM366 1014h6v6h-6zM360 1032h6v6h-6zM468 1032h6v6h-6zM240 1068h6v6h-6zM216 1074h6v6h-6zM354 1080h6v6h-6zM402 1092h6v6h-6zM126 1146h6v6h-6zM132 1152h6v6h-6zM120 1188h6v6h-6zM138 1224h6v6h-6zM150 1338h6v6h-6z"/>
<path fill="#00ffab" d="M396 222h6v6h-6zM372 234h6v6h-6zM396 258h6v6h-6zM360 264h12v6h-12zM414 264h6v6h-6zM390 270h6v6h-6zM420 276h6v6h-6zM390 282h6v6h-6zM408 318h6v6h-6zM414 378h6v6h-6zM408 384h6v6h-6zM426 408h6v6h-6zM438 408h6v6h-6zM450 426h6v6h-6zM414 432h6v6h-6zM486 444h6v6h-6zM420 450h6v6h-6zM402 462h6v6h-6zM444 462h6v6h-6zM486 480h6v6h-6zM462 492h6v6h-6zM444 498h6v6h-6zM462 498h6v6h-6zM486 498h6v6h-6zM462 504h6v6h-6zM462 510h6v6h-6zM498 516h6v6h-6zM444 522h6v6h-6zM498 522h6v6h-6zM474 528h6v6h-6zM420 588h6v6h-6zM438 600h6v6h-6zM432 606h6v6h-6zM504 612h6v6h-6zM534 648h6v6h-6zM516 654h6v6h-6zM540 654h6v6h-6zM552 672h12v6h-12zM558 678h12v6h-12zM588 678h12v6h-12zM540 684h6v6h-6zM558 684h12v6h-12zM630 684h6v6h-6zM504 690h6v6h-6zM594 690h6v6h-6zM534 696h6v6h-6zM606 696h6v6h-6zM486 702h6v6h-6zM498 702h6v6h-6zM516 702h6v6h-6zM618 702h6v6h-6zM654 708h6v6h-6zM486 720h6v6h-6zM666 720h6v6h-6zM540 756h6v6h-6zM612 768h6v6h-6zM480 774h6v6h-6zM576 774h6v6h-6zM612 804h6v6h-6zM486 810h6v6h-6zM486 816h6v6h-6zM516 816h6v6h-6zM606 816h6v6h-6zM582 822h6v6h-6zM462 834h6v6h-6zM594 834h18v6h-18zM558 840h6v6h-6zM606 840h6v6h-6zM570 846h6v6h-6zM606 846h6v6h-6zM564 852h6v6h-6zM576 852h12v6h-12zM594 852h6v6h-6zM612 852h6v6h-6zM582 858h6v6h-6zM600 858h6v6h-6zM420 948h6v6h-6zM438 960h6v6h-6zM384 966h6v6h-6zM408 966h12v6h-12zM282 978h6v6h-6zM360 990h6v6h-6zM372 990h6v6h-6zM378 1002h6v6h-6zM402 1014h6v6h-6zM372 1038h6v6h-6zM462 1056h6v6h-6zM390 1068h6v6h-6zM216 1080h6v6h-6zM126 1188h6v6h-6zM606 1206h6v6h-6zM138 1248h6v6h-6z"/>
<path fill="#00ff76" d="M426 198h6v6h-6zM384 210h6v6h-6zM402 258h6v6h-6zM372 270h6v6h-6zM384 276h6v6h-6zM402 276h6v6h-6zM414 324h6v6h-6zM426 366h6v6h-6zM438 378h6v6h-6zM432 414h6v6h-6zM378 420h6v6h-6zM414 420h6v6h-6zM462 420h6v6h-6zM432 432h6v6h-6zM474 444h6v6h-6zM480 450h12v6h-12zM498 450h6v6h-6zM444 468h6v6h-6zM504 468h6v6h-6zM438 492h6v6h-6zM456 492h6v6h-6zM456 498h6v6h-6zM444 504h6v6h-6zM456 504h6v6h-6zM468 516h6v6h-6zM456 528h6v6h-6zM486 534h6v6h-6zM426 588h6v6h-6zM438 594h6v6h-6zM462 654h6v6h-6zM618 660h6v6h-6zM564 666h6v6h-6zM624 666h12v6h-12zM630 672h6v6h-6zM552 678h6v6h-6zM570 678h6v6h-6zM582 684h6v6h-6zM582 690h12v6h-12zM582 696h6v6h-6zM618 696h12v6h-12zM624 702h6v6h-6zM666 708h6v6h-6zM498 714h6v6h-6zM618 714h6v6h-6zM648 720h6v6h-6zM660 720h6v6h-6zM432 726h6v6h-6zM492 744h6v6h-6zM510 762h6v6h-6zM564 762h6v6h-6zM498 768h6v6h-6zM492 774h6v6h-6zM516 774h6v6h-6zM624 780h6v6h-6zM594 798h6v6h-6zM528 804h6v6h-6zM552 804h6v6h-6zM468 810h6v6h-6zM480 816h6v6h-6zM564 822h6v6h-6zM606 828h6v6h-6zM564 840h6v6h-6zM594 840h6v6h-6zM570 852h6v6h-6zM588 852h6v6h-6zM594 858h6v6h-6zM420 942h6v6h-6zM240 972h6v6h-6zM402 972h6v6h-6zM258 978h6v6h-6zM372 978h6v6h-6zM420 978h6v6h-6zM396 990h6v6h-6zM210 996h6v6h-6zM348 996h6v6h-6zM420 1002h6v6h-6zM366 1008h6v6h-6zM240 1038h6v6h-6zM420 1038h6v6h-6zM468 1044h6v6h-6zM468 1050h6v6h-6zM456 1056h6v6h-6zM468 1062h6v6h-6zM348 1068h6v6h-6zM234 1080h6v6h-6zM258 1080h6v6h-6zM114 1158h6v6h-6zM120 1182h6v6h-6zM600 1206h6v6h-6zM138 1326h6v6h-6z"/>
<path fill="#00ff37" d="M384 216h6v6h-6zM378 222h12v6h-12zM384 258h6v6h-6zM408 270h6v6h-6zM348 300h6v6h-6zM342 306h6v6h-6zM438 312h6v6h-6zM426 354h6v6h-6zM426 360h6v6h-6zM420 372h6v6h-6zM408 426h6v6h-6zM420 432h6v6h-6zM456 432h6v6h-6zM480 432h6v6h-6zM414 456h6v6h-6zM486 474h6v6h-6zM510 480h6v6h-6zM480 486h6v6h-6zM516 486h6v6h-6zM468 498h6v6h-6zM450 504h6v6h-6zM492 516h6v6h-6zM492 522h6v6h-6zM480 528h6v6h-6zM468 534h6v6h-6zM480 534h6v6h-6zM432 564h6v6h-6zM408 576h12v6h-12zM432 582h6v6h-6zM438 588h6v6h-6zM426 594h12v6h-12zM438 606h6v6h-6zM540 648h6v6h-6zM456 654h6v6h-6zM546 672h6v6h-6zM618 672h6v6h-6zM546 678h6v6h-6zM600 678h6v6h-6zM546 684h6v6h-6zM504 696h12v6h-12zM612 696h6v6h-6zM510 702h6v6h-6zM516 726h6v6h-6zM654 726h6v6h-6zM528 750h6v6h-6zM534 756h6v6h-6zM654 762h6v6h-6zM516 768h6v6h-6zM648 768h6v6h-6zM474 774h6v6h-6zM570 786h6v6h-6zM474 798h6v6h-6zM486 798h6v6h-6zM618 804h6v6h-6zM480 810h6v6h-6zM606 810h12v6h-12zM468 816h6v6h-6zM540 816h6v6h-6zM468 822h6v6h-6zM480 822h6v6h-6zM546 834h6v6h-6zM588 834h6v6h-6zM600 840h6v6h-6zM606 852h6v6h-6zM378 876h6v6h-6zM348 960h6v6h-6zM456 960h6v6h-6zM390 966h6v6h-6zM384 972h6v6h-6zM414 972h6v6h-6zM360 984h6v6h-6zM390 984h6v6h-6zM408 996h6v6h-6zM372 1014h6v6h-6zM384 1026h6v6h-6zM222 1038h6v6h-6zM396 1038h6v6h-6zM210 1044h6v6h-6zM438 1056h6v6h-6zM450 1056h6v6h-6zM246 1062h6v6h-6zM258 1074h6v6h-6zM240 1080h12v6h-12zM114 1164h6v6h-6zM132 1230h6v6h-6zM126 1296h6v6h-6z"/>
<path fill="#00ff02" d="M366 156h6v6h-6zM366 162h6v6h-6zM366 216h6v6h-6zM354 270h6v6h-6zM372 282h6v6h-6zM342 300h6v6h-6zM414 306h6v6h-6zM414 312h6v6h-6zM420 324h6v6h-6zM408 330h30v6h-30zM414 354h6v6h-6zM450 354h6v6h-6zM432 408h6v6h-6zM426 414h6v6h-6zM444 426h6v6h-6zM480 480h6v6h-6zM504 480h6v6h-6zM510 486h6v6h-6zM468 492h6v6h-6zM438 504h6v6h-6zM480 522h6v6h-6zM444 534h6v6h-6zM426 582h6v6h-6zM438 618h6v6h-6zM438 630h6v6h-6zM456 642h6v6h-6zM600 654h12v6h-12zM582 660h6v6h-6zM594 660h6v6h-6zM582 678h6v6h-6zM552 684h6v6h-6zM588 684h6v6h-6zM642 684h6v6h-6zM636 690h6v6h-6zM660 696h6v6h-6zM504 702h6v6h-6zM504 708h6v6h-6zM648 708h6v6h-6zM654 720h6v6h-6zM672 732h6v6h-6zM492 750h18v6h-18zM516 756h6v6h-6zM648 756h6v6h-6zM576 768h6v6h-6zM498 780h6v6h-6zM654 786h6v6h-6zM468 798h6v6h-6zM480 798h6v6h-6zM498 798h6v6h-6zM624 804h6v6h-6zM588 822h6v6h-6zM468 828h6v6h-6zM594 828h12v6h-12zM468 834h6v6h-6zM600 852h6v6h-6zM606 858h6v6h-6zM468 864h6v6h-6zM438 900h6v6h-6zM450 912h12v6h-12zM384 942h6v6h-6zM342 960h6v6h-6zM234 972h6v6h-6zM312 972h6v6h-6zM240 978h6v6h-6zM366 984h12v6h-12zM348 990h6v6h-6zM384 990h6v6h-6zM360 996h12v6h-12zM402 1020h6v6h-6zM372 1032h6v6h-6zM210 1038h6v6h-6zM234 1038h6v6h-6zM414 1038h6v6h-6zM384 1050h6v6h-6zM390 1056h6v6h-6zM210 1062h6v6h-6zM390 1062h6v6h-6zM342 1068h6v6h-6zM354 1074h6v6h-6zM222 1080h6v6h-6zM420 1092h6v6h-6zM90 1158h6v6h-6zM126 1182h6v6h-6zM126 1194h12v6h-12zM132 1278h6v6h-6zM144 1326h6v6h-6zM150 1350h6v6h-6z"/>
<path fill="#00ff00" d="M366 150h6v6h-6zM360 156h6v6h-6zM390 210h6v6h-6zM366 222h6v6h-6zM390 234h6v6h-6zM438 252h6v6h-6zM414 300h6v6h-6zM378 312h6v6h-6zM414 318h6v6h-6zM432 354h6v6h-6zM192 360h6v6h-6zM408 360h6v6h-6zM210 366h6v6h-6zM198 372h6v6h-6zM186 378h6v6h-6zM414 402h6v6h-6zM468 420h6v6h-6zM462 426h6v6h-6zM408 432h6v6h-6zM420 456h6v6h-6zM492 480h6v6h-6zM450 498h6v6h-6zM510 504h6v6h-6zM450 522h6v6h-6zM492 528h6v6h-6zM432 534h6v6h-6zM456 534h12v6h-12zM420 570h6v6h-6zM438 570h6v6h-6zM504 624h6v6h-6zM456 648h6v6h-6zM522 648h6v6h-6zM522 654h6v6h-6zM462 660h6v6h-6zM546 660h6v6h-6zM534 666h6v6h-6zM576 678h6v6h-6zM540 690h12v6h-12zM648 690h6v6h-6zM600 696h6v6h-6zM666 696h6v6h-6zM630 726h6v6h-6zM648 726h6v6h-6zM498 756h6v6h-6zM654 774h6v6h-6zM492 792h6v6h-6zM504 792h6v6h-6zM546 810h6v6h-6zM648 810h6v6h-6zM474 822h6v6h-6zM474 828h18v6h-18zM462 840h6v6h-6zM474 840h6v6h-6zM468 846h6v6h-6zM564 846h6v6h-6zM600 846h6v6h-6zM468 852h6v6h-6zM372 870h6v6h-6zM450 906h6v6h-6zM384 936h6v6h-6zM408 942h6v6h-6zM354 960h6v6h-6zM444 966h6v6h-6zM246 978h6v6h-6zM414 978h6v6h-6zM264 984h6v6h-6zM378 984h6v6h-6zM366 990h6v6h-6zM378 990h6v6h-6zM726 990h6v6h-6zM240 996h6v6h-6zM390 1032h6v6h-6zM390 1038h6v6h-6zM444 1038h6v6h-6zM216 1044h6v6h-6zM396 1044h6v6h-6zM210 1056h6v6h-6zM258 1062h6v6h-6zM366 1074h6v6h-6zM384 1074h6v6h-6zM360 1080h6v6h-6zM234 1086h6v6h-6zM102 1140h6v6h-6zM120 1176h6v6h-6zM132 1284h6v6h-6zM150 1344h6v6h-6zM168 1362h6v6h-6z"/>
<path fill="#00ff00" d="M342 144h6v6h-6zM354 156h6v6h-6zM360 162h6v6h-6zM426 204h6v6h-6zM378 228h6v6h-6zM432 246h6v6h-6zM366 258h6v6h-6zM366 270h6v6h-6zM438 294h6v6h-6zM426 306h6v6h-6zM426 318h6v6h-6zM426 324h6v6h-6zM402 342h6v6h-6zM180 348h6v6h-6zM198 354h6v6h-6zM174 360h6v6h-6zM402 378h6v6h-6zM444 378h6v6h-6zM420 384h6v6h-6zM438 384h6v6h-6zM372 390h6v6h-6zM432 426h6v6h-6zM456 426h6v6h-6zM438 432h6v6h-6zM504 474h6v6h-6zM402 480h6v6h-6zM492 486h6v6h-6zM492 492h6v6h-6zM414 546h6v6h-6zM426 564h6v6h-6zM444 576h6v6h-6zM432 588h6v6h-6zM462 648h6v6h-6zM612 648h6v6h-6zM492 666h6v6h-6zM600 666h6v6h-6zM558 696h6v6h-6zM648 696h6v6h-6zM486 708h6v6h-6zM654 714h6v6h-6zM432 720h6v6h-6zM426 726h6v6h-6zM666 726h6v6h-6zM432 732h6v6h-6zM498 738h6v6h-6zM510 738h6v6h-6zM666 744h6v6h-6zM510 750h6v6h-6zM576 762h6v6h-6zM660 768h6v6h-6zM636 774h6v6h-6zM438 780h6v6h-6zM504 780h6v6h-6zM648 780h6v6h-6zM468 804h6v6h-6zM468 840h6v6h-6zM462 852h6v6h-6zM480 852h12v6h-12zM474 864h6v6h-6zM384 876h6v6h-6zM366 918h6v6h-6zM396 924h6v6h-6zM384 948h6v6h-6zM408 948h6v6h-6zM318 960h6v6h-6zM300 966h6v6h-6zM342 966h6v6h-6zM300 978h6v6h-6zM336 978h6v6h-6zM258 984h6v6h-6zM240 1008h6v6h-6zM438 1020h6v6h-6zM408 1026h6v6h-6zM438 1032h6v6h-6zM408 1044h6v6h-6zM486 1044h6v6h-6zM156 1068h6v6h-6zM258 1068h6v6h-6zM156 1074h6v6h-6zM228 1080h6v6h-6zM228 1086h6v6h-6zM246 1092h12v6h-12zM138 1206h6v6h-6zM144 1218h6v6h-6zM138 1254h6v6h-6zM138 1278h6v6h-6zM144 1338h6v6h-6z"/>
<path fill="#00ff00" d="M354 162h6v6h-6zM396 216h6v6h-6zM432 240h6v6h-6zM420 270h6v6h-6zM432 288h6v6h-6zM420 300h6v6h-6zM408 336h6v6h-6zM180 354h6v6h-6zM420 354h6v6h-6zM198 360h6v6h-6zM414 360h12v6h-12zM186 366h6v6h-6zM180 372h6v6h-6zM192 372h6v6h-6zM408 396h6v6h-6zM420 402h6v6h-6zM420 414h6v6h-6zM444 414h6v6h-6zM420 426h6v6h-6zM372 432h6v6h-6zM462 522h6v6h-6zM486 522h6v6h-6zM420 546h6v6h-6zM420 558h6v6h-6zM510 570h6v6h-6zM426 576h12v6h-12zM420 594h6v6h-6zM504 618h6v6h-6zM528 648h6v6h-6zM552 654h6v6h-6zM612 660h6v6h-6zM468 666h6v6h-6zM468 672h6v6h-6zM624 684h6v6h-6zM552 696h6v6h-6zM666 702h6v6h-6zM486 726h6v6h-6zM486 738h6v6h-6zM480 750h6v6h-6zM642 762h6v6h-6zM570 768h6v6h-6zM570 780h6v6h-6zM630 786h6v6h-6zM492 816h6v6h-6zM528 816h6v6h-6zM492 822h6v6h-6zM474 834h6v6h-6zM462 846h6v6h-6zM474 846h6v6h-6zM468 858h12v6h-12zM408 864h6v6h-6zM378 870h6v6h-6zM444 912h6v6h-6zM456 918h6v6h-6zM366 924h6v6h-6zM432 924h6v6h-6zM450 924h6v6h-6zM384 930h6v6h-6zM456 930h6v6h-6zM378 942h6v6h-6zM372 960h6v6h-6zM312 966h6v6h-6zM420 966h6v6h-6zM294 972h12v6h-12zM432 972h6v6h-6zM264 978h6v6h-6zM276 978h6v6h-6zM210 990h6v6h-6zM246 990h6v6h-6zM420 1032h6v6h-6zM216 1056h6v6h-6zM378 1062h6v6h-6zM438 1062h6v6h-6zM366 1068h6v6h-6zM252 1074h6v6h-6zM144 1080h6v6h-6zM390 1080h6v6h-6zM156 1086h6v6h-6zM240 1086h6v6h-6zM402 1098h6v6h-6zM102 1152h6v6h-6zM120 1164h6v6h-6zM114 1182h6v6h-6zM120 1194h6v6h-6z"/>
<path fill="#00ff00" d="M354 168h6v6h-6zM360 210h6v6h-6zM396 210h6v6h-6zM366 246h6v6h-6zM414 246h6v6h-6zM420 258h6v6h-6zM426 294h6v6h-6zM348 306h6v6h-6zM432 318h6v6h-6zM372 342h6v6h-6zM186 354h6v6h-6zM444 372h6v6h-6zM414 384h6v6h-6zM426 396h6v6h-6zM408 408h6v6h-6zM408 414h6v6h-6zM420 420h6v6h-6zM444 438h6v6h-6zM396 486h6v6h-6zM420 486h6v6h-6zM414 606h6v6h-6zM504 666h6v6h-6zM636 678h6v6h-6zM552 690h6v6h-6zM642 738h6v6h-6zM492 756h6v6h-6zM660 762h6v6h-6zM426 774h6v6h-6zM612 774h6v6h-6zM624 774h12v6h-12zM642 780h6v6h-6zM654 780h6v6h-6zM516 810h6v6h-6zM558 810h6v6h-6zM618 822h6v6h-6zM480 834h6v6h-6zM474 852h6v6h-6zM414 858h6v6h-6zM462 858h6v6h-6zM480 864h6v6h-6zM456 870h6v6h-6zM396 912h6v6h-6zM432 912h6v6h-6zM462 918h6v6h-6zM402 924h6v6h-6zM414 936h6v6h-6zM402 948h6v6h-6zM294 966h6v6h-6zM306 966h6v6h-6zM450 966h6v6h-6zM318 972h6v6h-6zM252 978h6v6h-6zM240 984h6v6h-6zM222 990h12v6h-12zM228 996h6v6h-6zM216 1002h12v6h-12zM408 1014h6v6h-6zM198 1032h6v6h-6zM402 1032h6v6h-6zM204 1038h6v6h-6zM432 1044h6v6h-6zM462 1044h6v6h-6zM426 1050h6v6h-6zM252 1056h6v6h-6zM216 1062h6v6h-6zM240 1062h6v6h-6zM366 1086h6v6h-6zM414 1086h6v6h-6zM432 1092h6v6h-6zM138 1098h6v6h-6zM108 1128h6v6h-6zM120 1170h6v6h-6zM132 1266h6v6h-6zM126 1320h6v6h-6z"/>
<path fill="#00ff00" d="M348 168h6v6h-6zM402 228h6v6h-6zM372 246h6v6h-6zM444 318h6v6h-6zM384 372h6v6h-6zM426 372h6v6h-6zM180 384h6v6h-6zM432 384h6v6h-6zM426 390h6v6h-6zM414 396h6v6h-6zM372 402h6v6h-6zM438 414h6v6h-6zM450 420h6v6h-6zM426 426h6v6h-6zM450 528h6v6h-6zM444 540h6v6h-6zM474 540h6v6h-6zM444 624h6v6h-6zM462 642h6v6h-6zM474 642h6v6h-6zM588 654h6v6h-6zM462 672h6v6h-6zM636 684h6v6h-6zM438 720h6v6h-6zM492 720h6v6h-6zM642 720h6v6h-6zM438 726h6v6h-6zM654 732h12v6h-12zM498 744h6v6h-6zM522 750h6v6h-6zM660 750h6v6h-6zM630 762h6v6h-6zM630 768h6v6h-6zM516 786h6v6h-6zM486 804h6v6h-6zM540 810h6v6h-6zM480 840h6v6h-6zM372 864h6v6h-6zM456 876h6v6h-6zM450 918h6v6h-6zM462 924h6v6h-6zM462 930h6v6h-6zM288 966h6v6h-6zM306 978h6v6h-6zM222 984h6v6h-6zM240 990h6v6h-6zM384 1032h6v6h-6zM408 1032h12v6h-12zM378 1038h12v6h-12zM408 1038h6v6h-6zM492 1038h6v6h-6zM390 1044h6v6h-6zM390 1050h6v6h-6zM456 1062h6v6h-6zM204 1068h6v6h-6zM378 1074h6v6h-6zM384 1092h6v6h-6zM228 1098h6v6h-6zM240 1098h6v6h-6zM108 1134h6v6h-6zM96 1158h6v6h-6zM126 1200h6v6h-6zM138 1200h6v6h-6zM132 1272h6v6h-6zM120 1320h6v6h-6zM132 1326h6v6h-6zM162 1350h6v6h-6z"/>
<path fill="#09ff00" d="M348 144h6v6h-6zM372 150h6v6h-6zM354 174h6v6h-6zM366 210h6v6h-6zM408 228h12v6h-12zM372 240h6v6h-6zM360 258h6v6h-6zM420 264h6v6h-6zM336 294h6v6h-6zM432 294h6v6h-6zM426 300h6v6h-6zM438 300h6v6h-6zM420 306h6v6h-6zM438 324h6v6h-6zM438 330h6v6h-6zM372 336h6v6h-6zM432 336h6v6h-6zM384 342h6v6h-6zM420 342h6v6h-6zM450 342h6v6h-6zM414 348h12v6h-12zM378 390h6v6h-6zM408 390h6v6h-6zM408 402h6v6h-6zM198 414h6v6h-6zM414 438h6v6h-6zM492 438h6v6h-6zM504 516h6v6h-6zM498 528h12v6h-12zM474 534h6v6h-6zM492 534h6v6h-6zM510 582h6v6h-6zM516 588h6v6h-6zM498 618h6v6h-6zM438 624h6v6h-6zM510 624h6v6h-6zM450 648h6v6h-6zM480 648h6v6h-6zM534 654h6v6h-6zM612 654h6v6h-6zM468 660h6v6h-6zM660 702h6v6h-6zM618 708h6v6h-6zM498 720h6v6h-6zM660 726h6v6h-6zM504 732h6v6h-6zM642 732h6v6h-6zM660 738h6v6h-6zM450 744h6v6h-6zM528 744h6v6h-6zM534 750h6v6h-6zM636 756h6v6h-6zM666 762h6v6h-6zM486 780h12v6h-12zM630 780h6v6h-6zM624 798h12v6h-12zM648 798h6v6h-6zM498 804h6v6h-6zM660 804h6v6h-6zM522 810h6v6h-6zM552 816h6v6h-6zM408 870h6v6h-6zM372 876h6v6h-6zM474 876h6v6h-6zM462 906h6v6h-6zM426 912h6v6h-6zM372 924h6v6h-6zM444 930h6v6h-6zM390 936h6v6h-6zM438 954h6v6h-6zM384 960h6v6h-6zM432 960h6v6h-6zM282 966h6v6h-6zM348 966h6v6h-6zM228 972h6v6h-6zM438 972h6v6h-6zM432 1026h6v6h-6zM426 1032h12v6h-12zM444 1044h6v6h-6zM198 1056h6v6h-6zM246 1056h6v6h-6zM366 1062h6v6h-6zM252 1068h6v6h-6zM108 1152h6v6h-6zM102 1158h6v6h-6zM132 1200h6v6h-6zM132 1236h6v6h-6zM132 1296h6v6h-6z"/>
<path fill="#86ff00" d="M384 204h6v6h-6zM378 234h6v6h-6zM426 252h6v6h-6zM354 258h6v6h-6zM354 264h6v6h-6zM420 288h12v6h-12zM426 312h6v6h-6zM432 324h6v6h-6zM414 336h6v6h-6zM444 348h6v6h-6zM432 360h6v6h-6zM426 384h6v6h-6zM402 390h6v6h-6zM192 396h6v6h-6zM204 396h6v6h-6zM420 396h6v6h-6zM432 420h6v6h-6zM414 480h6v6h-6zM402 486h6v6h-6zM426 486h6v6h-6zM234 540h6v6h-6zM246 546h6v6h-6zM510 564h6v6h-6zM444 618h6v6h-6zM480 654h6v6h-6zM474 660h6v6h-6zM462 666h6v6h-6zM456 672h6v6h-6zM648 684h6v6h-6zM480 696h6v6h-6zM636 696h6v6h-6zM636 702h6v6h-6zM624 714h6v6h-6zM642 714h6v6h-6zM450 732h6v6h-6zM516 732h6v6h-6zM660 744h6v6h-6zM630 750h6v6h-6zM648 750h6v6h-6zM660 756h6v6h-6zM498 762h6v6h-6zM618 762h6v6h-6zM624 768h6v6h-6zM432 780h6v6h-6zM522 786h6v6h-6zM624 786h6v6h-6zM516 792h12v6h-12zM522 798h6v6h-6zM570 798h6v6h-6zM636 798h6v6h-6zM648 804h6v6h-6zM630 816h6v6h-6zM450 834h6v6h-6zM414 870h6v6h-6zM372 882h12v6h-12zM414 882h6v6h-6zM438 912h6v6h-6zM444 924h6v6h-6zM378 936h6v6h-6zM450 936h6v6h-6zM366 948h6v6h-6zM390 948h6v6h-6zM258 966h6v6h-6zM354 966h6v6h-6zM426 966h12v6h-12zM264 972h6v6h-6zM450 972h6v6h-6zM426 1014h6v6h-6zM432 1020h6v6h-6zM258 1044h6v6h-6zM438 1044h6v6h-6zM198 1050h6v6h-6zM240 1050h6v6h-6zM372 1050h6v6h-6zM432 1050h6v6h-6zM246 1068h6v6h-6zM354 1068h6v6h-6zM258 1092h6v6h-6zM102 1128h6v6h-6zM96 1140h6v6h-6zM156 1356h6v6h-6zM168 1356h6v6h-6z"/>
<path fill="#c8ff00" d="M360 150h6v6h-6zM372 156h6v6h-6zM402 216h6v6h-6zM372 228h6v6h-6zM420 252h6v6h-6zM432 252h6v6h-6zM426 264h6v6h-6zM432 282h6v6h-6zM438 288h6v6h-6zM408 294h6v6h-6zM432 300h6v6h-6zM444 300h6v6h-6zM438 336h6v6h-6zM396 342h6v6h-6zM384 348h6v6h-6zM402 348h6v6h-6zM426 348h6v6h-6zM378 378h6v6h-6zM396 378h6v6h-6zM186 390h6v6h-6zM444 390h6v6h-6zM186 396h6v6h-6zM186 402h6v6h-6zM192 408h6v6h-6zM504 438h6v6h-6zM360 522h6v6h-6zM450 534h6v6h-6zM240 540h6v6h-6zM438 546h6v6h-6zM516 564h6v6h-6zM510 588h6v6h-6zM456 624h6v6h-6zM468 648h6v6h-6zM486 648h6v6h-6zM474 654h6v6h-6zM660 708h6v6h-6zM504 714h6v6h-6zM648 714h6v6h-6zM444 732h6v6h-6zM666 732h6v6h-6zM444 738h6v6h-6zM492 738h6v6h-6zM486 750h6v6h-6zM540 750h6v6h-6zM624 750h6v6h-6zM672 750h6v6h-6zM642 756h6v6h-6zM648 762h6v6h-6zM642 774h6v6h-6zM438 786h6v6h-6zM648 786h6v6h-6zM504 798h6v6h-6zM516 798h6v6h-6zM516 804h6v6h-6zM654 810h6v6h-6zM450 870h6v6h-6zM408 876h6v6h-6zM420 912h6v6h-6zM366 930h6v6h-6zM450 930h6v6h-6zM390 942h6v6h-6zM402 942h6v6h-6zM456 942h6v6h-6zM426 954h6v6h-6zM396 960h6v6h-6zM276 972h6v6h-6zM324 972h6v6h-6zM336 972h6v6h-6zM246 1038h6v6h-6zM426 1038h12v6h-12zM210 1068h6v6h-6zM210 1074h6v6h-6zM378 1080h6v6h-6zM114 1128h6v6h-6zM120 1314h6v6h-6zM132 1314h6v6h-6z"/>
<path fill="#fff500" d="M372 162h6v6h-6zM366 174h6v6h-6zM354 180h6v6h-6zM372 198h6v6h-6zM378 204h6v6h-6zM426 240h6v6h-6zM294 276h6v6h-6zM372 276h12v6h-12zM354 294h6v6h-6zM414 294h6v6h-6zM258 300h6v6h-6zM444 306h6v6h-6zM342 312h6v6h-6zM426 336h6v6h-6zM390 342h6v6h-6zM396 348h6v6h-6zM450 348h6v6h-6zM390 354h6v6h-6zM408 354h6v6h-6zM420 366h6v6h-6zM432 366h6v6h-6zM444 366h6v6h-6zM438 372h6v6h-6zM192 378h6v6h-6zM396 384h12v6h-12zM180 396h6v6h-6zM420 438h6v6h-6zM510 516h6v6h-6zM366 522h6v6h-6zM426 534h6v6h-6zM252 546h6v6h-6zM510 546h6v6h-6zM414 600h6v6h-6zM420 606h6v6h-6zM480 624h6v6h-6zM444 630h6v6h-6zM468 642h6v6h-6zM486 642h6v6h-6zM522 642h6v6h-6zM450 672h6v6h-6zM642 690h6v6h-6zM450 720h6v6h-6zM492 726h6v6h-6zM510 726h6v6h-6zM498 732h6v6h-6zM480 738h6v6h-6zM504 738h6v6h-6zM480 744h12v6h-12zM504 744h6v6h-6zM522 744h6v6h-6zM516 750h6v6h-6zM666 750h6v6h-6zM630 756h6v6h-6zM414 774h6v6h-6zM648 774h6v6h-6zM498 786h6v6h-6zM510 786h6v6h-6zM474 792h6v6h-6zM498 792h6v6h-6zM510 792h6v6h-6zM570 792h6v6h-6zM636 792h6v6h-6zM492 798h6v6h-6zM522 804h6v6h-6zM642 804h6v6h-6zM552 810h6v6h-6zM654 816h6v6h-6zM444 840h6v6h-6zM414 864h6v6h-6zM420 870h6v6h-6zM450 876h6v6h-6zM390 882h6v6h-6zM474 882h6v6h-6zM396 930h6v6h-6zM438 930h6v6h-6zM396 936h6v6h-6zM456 936h6v6h-6zM426 948h6v6h-6zM444 948h6v6h-6zM366 954h6v6h-6zM384 954h6v6h-6zM396 954h6v6h-6zM444 954h6v6h-6zM456 954h6v6h-6zM282 960h6v6h-6zM336 960h6v6h-6zM444 960h6v6h-6zM336 966h6v6h-6zM330 972h6v6h-6zM342 972h6v6h-6zM354 972h6v6h-6zM732 990h12v6h-12zM414 1026h18v6h-18zM228 1044h6v6h-6zM366 1044h6v6h-6zM204 1050h6v6h-6zM252 1062h6v6h-6zM450 1062h6v6h-6zM216 1068h6v6h-6zM378 1068h6v6h-6zM210 1080h6v6h-6zM378 1086h6v6h-6zM390 1092h6v6h-6zM252 1098h6v6h-6zM102 1134h6v6h-6zM90 1140h6v6h-6zM120 1140h6v6h-6zM96 1152h6v6h-6zM108 1158h6v6h-6zM132 1260h6v6h-6zM126 1290h6v6h-6z"/>
<path fill="#ffcc00" d="M420 246h6v6h-6zM426 282h6v6h-6zM342 294h6v6h-6zM420 294h6v6h-6zM408 300h6v6h-6zM432 306h6v6h-6zM336 312h6v6h-6zM378 324h6v6h-6zM384 336h6v6h-6zM414 342h6v6h-6zM438 342h6v6h-6zM444 354h6v6h-6zM438 366h6v6h-6zM192 384h6v6h-6zM384 384h12v6h-12zM396 390h6v6h-6zM174 408h12v6h-12zM444 408h6v6h-6zM192 414h6v6h-6zM468 414h6v6h-6zM180 420h6v6h-6zM426 420h6v6h-6zM378 456h6v6h-6zM390 474h6v6h-6zM486 540h6v6h-6zM420 552h6v6h-6zM510 576h6v6h-6zM456 666h6v6h-6zM444 720h6v6h-6zM456 726h6v6h-6zM504 726h6v6h-6zM492 732h6v6h-6zM522 732h6v6h-6zM432 738h6v6h-6zM648 738h12v6h-12zM426 750h6v6h-6zM462 750h6v6h-6zM654 756h6v6h-6zM636 762h6v6h-6zM516 780h6v6h-6zM504 786h6v6h-6zM636 804h6v6h-6zM624 810h6v6h-6zM438 840h6v6h-6zM444 846h6v6h-6zM378 864h6v6h-6zM366 870h6v6h-6zM372 918h6v6h-6zM408 930h6v6h-6zM426 942h6v6h-6zM462 942h6v6h-6zM336 954h6v6h-6zM450 954h6v6h-6zM390 960h6v6h-6zM270 978h6v6h-6zM210 1050h6v6h-6zM378 1056h6v6h-6zM444 1056h6v6h-6zM444 1062h6v6h-6zM384 1086h6v6h-6z"/>
<path fill="#ffa800" d="M276 120h6v6h-6zM360 168h6v6h-6zM360 174h6v6h-6zM372 192h6v6h-6zM372 204h6v6h-6zM402 222h6v6h-6zM438 270h6v6h-6zM408 276h6v6h-6zM252 294h6v6h-6zM354 300h6v6h-6zM336 306h6v6h-6zM426 342h6v6h-6zM438 348h6v6h-6zM396 354h6v6h-6zM450 360h6v6h-6zM432 378h6v6h-6zM192 390h6v6h-6zM174 396h6v6h-6zM378 414h6v6h-6zM414 414h6v6h-6zM444 420h6v6h-6zM480 426h6v6h-6zM246 552h6v6h-6zM402 594h6v6h-6zM510 594h6v6h-6zM474 648h6v6h-6zM456 678h6v6h-6zM480 714h6v6h-6zM516 720h6v6h-6zM444 726h6v6h-6zM498 726h6v6h-6zM636 726h12v6h-12zM480 732h6v6h-6zM516 738h6v6h-6zM624 738h6v6h-6zM666 738h6v6h-6zM462 744h12v6h-12zM516 744h6v6h-6zM402 756h6v6h-6zM426 762h6v6h-6zM624 762h6v6h-6zM654 768h6v6h-6zM438 774h6v6h-6zM510 780h6v6h-6zM492 786h6v6h-6zM648 792h6v6h-6zM510 810h6v6h-6zM642 810h6v6h-6zM648 816h6v6h-6zM624 822h6v6h-6zM450 840h6v6h-6zM384 852h6v6h-6zM462 876h6v6h-6zM396 882h6v6h-6zM456 882h6v6h-6zM396 918h6v6h-6zM360 924h6v6h-6zM378 924h6v6h-6zM390 930h6v6h-6zM438 942h6v6h-6zM456 948h12v6h-12zM330 954h6v6h-6zM270 972h6v6h-6zM246 1044h6v6h-6zM240 1056h6v6h-6zM360 1056h6v6h-6zM360 1068h6v6h-6zM444 1086h6v6h-6z"/>
<path fill="#ff8600" d="M360 180h6v6h-6zM378 198h6v6h-6zM360 246h6v6h-6zM426 246h6v6h-6zM300 276h6v6h-6zM402 288h6v6h-6zM438 318h6v6h-6zM438 360h6v6h-6zM198 384h6v6h-6zM174 390h6v6h-6zM198 390h6v6h-6zM336 450h6v6h-6zM510 552h6v6h-6zM450 624h6v6h-6zM462 630h12v6h-12zM510 654h6v6h-6zM528 654h6v6h-6zM564 660h6v6h-6zM642 678h6v6h-6zM630 690h6v6h-6zM642 696h6v6h-6zM624 708h12v6h-12zM438 732h6v6h-6zM630 744h6v6h-6zM426 786h6v6h-6zM636 786h6v6h-6zM480 792h6v6h-6zM504 804h6v6h-6zM612 822h6v6h-6zM450 846h6v6h-6zM366 858h6v6h-6zM402 870h6v6h-6zM372 888h12v6h-12zM390 888h6v6h-6zM462 912h6v6h-6zM378 918h6v6h-6zM390 924h6v6h-6zM360 954h6v6h-6zM330 960h6v6h-6zM324 966h6v6h-6zM234 996h6v6h-6zM204 1044h6v6h-6zM372 1044h12v6h-12zM378 1050h6v6h-6zM372 1056h6v6h-6zM372 1068h6v6h-6zM456 1086h6v6h-6zM96 1122h6v6h-6zM96 1128h6v6h-6zM120 1134h6v6h-6z"/>
<path fill="#ff6300" d="M366 180h6v6h-6zM360 186h6v6h-6zM426 258h6v6h-6zM426 276h6v6h-6zM384 288h6v6h-6zM414 288h6v6h-6zM444 312h6v6h-6zM372 330h6v6h-6zM432 342h6v6h-6zM372 408h6v6h-6zM336 444h6v6h-6zM246 540h6v6h-6zM432 540h6v6h-6zM426 558h6v6h-6zM402 588h6v6h-6zM456 720h6v6h-6zM474 720h6v6h-6zM456 732h6v6h-6zM636 732h6v6h-6zM456 738h6v6h-6zM468 738h6v6h-6zM522 738h6v6h-6zM642 744h6v6h-6zM654 744h6v6h-6zM666 756h6v6h-6zM408 780h6v6h-6zM522 780h6v6h-6zM642 786h6v6h-6zM630 792h6v6h-6zM456 846h6v6h-6zM402 882h6v6h-6zM402 888h6v6h-6zM390 918h6v6h-6zM438 918h6v6h-6zM414 930h6v6h-6zM390 954h6v6h-6zM288 972h6v6h-6zM228 978h12v6h-12zM426 1020h6v6h-6zM228 1092h12v6h-12zM384 1098h6v6h-6zM102 1122h6v6h-6zM84 1146h6v6h-6z"/>
<path fill="#ff3900" d="M432 258h6v6h-6zM426 270h6v6h-6zM432 276h6v6h-6zM252 288h6v6h-6zM378 330h6v6h-6zM408 342h6v6h-6zM432 348h6v6h-6zM444 360h6v6h-6zM204 390h6v6h-6zM204 402h6v6h-6zM420 408h6v6h-6zM336 438h6v6h-6zM342 444h6v6h-6zM498 540h6v6h-6zM630 696h6v6h-6zM630 702h6v6h-6zM504 720h6v6h-6zM630 732h6v6h-6zM474 738h6v6h-6zM636 738h6v6h-6zM648 744h6v6h-6zM420 762h6v6h-6zM672 762h6v6h-6zM402 768h6v6h-6zM486 786h6v6h-6zM528 786h6v6h-6zM642 792h6v6h-6zM564 810h12v6h-12zM618 810h6v6h-6zM630 810h6v6h-6zM504 816h6v6h-6zM642 816h6v6h-6zM648 822h6v6h-6zM378 858h6v6h-6zM390 864h6v6h-6zM390 870h6v6h-6zM486 870h6v6h-6zM462 882h6v6h-6zM444 918h6v6h-6zM402 936h6v6h-6zM444 936h6v6h-6zM402 954h6v6h-6zM330 966h6v6h-6zM366 1056h6v6h-6zM372 1062h6v6h-6zM444 1068h6v6h-6zM372 1074h6v6h-6zM438 1086h6v6h-6zM378 1092h6v6h-6zM120 1128h6v6h-6z"/>
<path fill="#ff0d00" d="M162 162h6v6h-6zM348 186h6v6h-6zM390 192h6v6h-6zM360 204h6v6h-6zM252 282h6v6h-6zM444 336h6v6h-6zM390 390h6v6h-6zM348 444h6v6h-6zM408 480h6v6h-6zM504 570h6v6h-6zM522 576h6v6h-6zM510 612h6v6h-6zM624 636h6v6h-6zM444 654h6v6h-6zM450 660h6v6h-6zM504 660h12v6h-12zM480 678h6v6h-6zM456 690h6v6h-6zM438 696h6v6h-6zM516 714h6v6h-6zM636 714h6v6h-6zM468 732h6v6h-6zM414 762h6v6h-6zM420 768h6v6h-6zM672 768h6v6h-6zM420 780h6v6h-6zM528 798h6v6h-6zM384 894h6v6h-6zM348 942h6v6h-6zM444 942h6v6h-6zM396 948h6v6h-6zM432 948h6v6h-6zM348 978h6v6h-6zM342 984h6v6h-6zM714 990h6v6h-6zM234 1002h6v6h-6zM420 1020h6v6h-6zM444 1074h6v6h-6zM90 1122h6v6h-6zM96 1134h6v6h-6zM108 1164h6v6h-6zM114 1170h6v6h-6z"/>
<path fill="#ff0000" d="M354 192h6v6h-6zM354 198h6v6h-6zM246 228h6v6h-6zM258 264h6v6h-6zM300 282h6v6h-6zM264 288h6v6h-6zM444 330h6v6h-6zM354 402h6v6h-6zM168 408h6v6h-6zM342 438h6v6h-6zM330 444h6v6h-6zM252 540h6v6h-6zM510 606h12v6h-12zM516 612h6v6h-6zM468 624h6v6h-6zM456 630h6v6h-6zM462 636h12v6h-12zM612 642h6v6h-6zM444 672h6v6h-6zM444 684h6v6h-6zM480 684h6v6h-6zM444 696h12v6h-12zM630 714h6v6h-6zM474 732h6v6h-6zM630 738h6v6h-6zM474 744h6v6h-6zM654 750h6v6h-6zM408 756h6v6h-6zM714 780h6v6h-6zM486 792h6v6h-6zM618 816h6v6h-6zM396 858h6v6h-6zM420 858h12v6h-12zM384 864h6v6h-6zM402 864h6v6h-6zM432 864h6v6h-6zM384 870h6v6h-6zM240 948h6v6h-6zM438 948h6v6h-6zM756 978h6v6h-6zM252 1050h6v6h-6zM360 1050h12v6h-12zM204 1056h6v6h-6zM354 1062h6v6h-6zM432 1068h6v6h-6zM366 1092h6v6h-6zM138 1320h6v6h-6z"/>
<path fill="#ff0000" d="M162 150h6v6h-6zM378 192h6v6h-6zM384 198h6v6h-6zM240 270h6v6h-6zM354 276h6v6h-6zM258 288h6v6h-6zM330 306h6v6h-6zM450 318h6v6h-6zM342 390h6v6h-6zM348 396h6v6h-6zM366 408h6v6h-6zM372 420h6v6h-6zM426 492h6v6h-6zM420 498h6v6h-6zM504 540h6v6h-6zM426 546h6v6h-6zM432 558h6v6h-6zM510 558h6v6h-6zM516 570h6v6h-6zM402 582h6v6h-6zM618 642h6v6h-6zM564 654h6v6h-6zM480 660h6v6h-6zM438 666h6v6h-6zM474 672h6v6h-6zM456 684h12v6h-12zM438 690h6v6h-6zM462 690h6v6h-6zM570 762h6v6h-6zM714 786h6v6h-6zM444 834h6v6h-6zM474 870h6v6h-6zM234 912h6v6h-6zM756 984h6v6h-6zM360 1062h6v6h-6zM372 1080h6v6h-6zM96 1146h12v6h-12z"/>
<path fill="#ff0000" d="M354 132h12v6h-12zM354 138h12v6h-12zM354 186h6v6h-6zM360 276h6v6h-6zM336 336h6v6h-6zM402 354h6v6h-6zM348 384h6v6h-6zM336 402h6v6h-6zM342 408h12v6h-12zM366 414h12v6h-12zM498 420h6v6h-6zM504 456h6v6h-6zM432 552h6v6h-6zM522 570h6v6h-6zM510 630h6v6h-6zM438 678h6v6h-6zM468 684h6v6h-6zM456 696h6v6h-6zM510 714h6v6h-6zM510 720h6v6h-6zM420 744h6v6h-6zM510 744h6v6h-6zM636 744h6v6h-6zM612 750h6v6h-6zM480 786h6v6h-6zM642 798h6v6h-6zM576 810h6v6h-6zM576 816h6v6h-6zM432 858h12v6h-12zM210 972h6v6h-6zM750 978h6v6h-6zM714 996h6v6h-6zM204 1008h6v6h-6zM450 1068h6v6h-6zM438 1080h6v6h-6z"/>
<path fill="#ff0000" d="M138 120h6v6h-6zM318 120h6v6h-6zM360 192h6v6h-6zM360 198h12v6h-12zM366 204h6v6h-6zM312 252h6v6h-6zM378 306h6v6h-6zM366 324h6v6h-6zM342 396h6v6h-6zM342 402h6v6h-6zM360 408h6v6h-6zM342 414h6v6h-6zM492 420h6v6h-6zM492 426h6v6h-6zM492 432h6v6h-6zM414 498h6v6h-6zM426 498h6v6h-6zM432 546h6v6h-6zM510 600h6v6h-6zM456 708h6v6h-6zM636 810h6v6h-6zM384 816h12v6h-12zM390 858h6v6h-6zM414 1020h6v6h-6zM444 1080h6v6h-6z"/>
<path fill="#ff0000" d="M324 120h6v6h-6zM336 132h6v6h-6zM498 414h12v6h-12zM498 432h6v6h-6zM264 924h6v6h-6zM354 1056h6v6h-6zM90 1146h6v6h-6z"/>
<path fill="#ff0000" d="M330 300h6v6h-6z"/>
<path fill="#ff0000" d="M438 552h6v6h-6z"/>
<path fill="#000000" d="M1392 966h6v6h-6z"/>
<path fill="#000000" d="M1452 240h6v6h-6zM1452 570h6v6h-6zM1536 576h6v6h-6zM1536 936h6v6h-6z"/>
<path fill="#000000" d="M1548 462h6v6h-6zM1512 486h6v6h-6zM1542 582h6v6h-6zM1542 588h6v6h-6zM1602 678h6v6h-6zM1620 678h6v6h-6zM1644 678h6v6h-6zM1644 684h6v6h-6zM1614 696h6v6h-6zM1602 744h6v6h-6zM1566 798h6v6h-6zM1566 822h6v6h-6zM1578 822h6v6h-6zM1536 894h6v6h-6zM1548 906h6v6h-6zM1524 930h6v6h-6zM1518 936h6v6h-6zM1518 954h6v6h-6zM1386 978h6v6h-6zM1518 984h6v6h-6zM1518 990h6v6h-6z"/>
<path fill="#23001a" d="M1458 240h6v6h-6zM1464 276h6v6h-6zM1524 462h6v6h-6zM1518 510h6v6h-6zM1452 564h6v6h-6zM1536 570h6v6h-6zM1596 666h6v6h-6zM1614 672h6v6h-6zM1614 678h6v6h-6zM1638 678h6v6h-6zM1602 684h6v6h-6zM1566 750h6v6h-6zM1572 756h6v6h-6zM1608 756h6v6h-6zM1560 774h6v6h-6zM1572 780h6v6h-6zM1572 786h6v6h-6zM1626 792h6v6h-6zM1608 798h6v6h-6zM1602 804h6v6h-6zM1602 810h6v6h-6zM1614 816h6v6h-6zM1620 822h6v6h-6zM1590 828h6v6h-6zM1602 828h6v6h-6zM1584 834h12v6h-12zM1584 846h6v6h-6zM1530 888h6v6h-6zM1554 894h6v6h-6zM1524 906h6v6h-6zM1512 912h6v6h-6zM1548 918h6v6h-6zM1530 930h6v6h-6zM1530 960h18v6h-18zM1392 972h6v6h-6zM1500 996h6v6h-6z"/>
<path fill="#430044" d="M1422 270h12v6h-12zM1422 276h6v6h-6zM1434 276h6v6h-6zM1428 288h6v6h-6zM1428 294h6v6h-6zM1440 384h6v6h-6zM1536 426h12v6h-12zM1524 468h6v6h-6zM1518 486h6v6h-6zM1476 492h18v6h-18zM1500 492h6v6h-6zM1512 492h6v6h-6zM1506 498h6v6h-6zM1512 504h6v6h-6zM1530 582h6v6h-6zM1530 600h6v6h-6zM1626 666h6v6h-6zM1602 672h6v6h-6zM1620 672h6v6h-6zM1596 678h6v6h-6zM1638 684h6v6h-6zM1632 696h6v6h-6zM1620 702h6v6h-6zM1572 720h6v6h-6zM1590 726h6v6h-6zM1602 738h6v6h-6zM1608 792h6v6h-6zM1626 828h6v6h-6zM1518 894h6v6h-6zM1518 900h6v6h-6zM1554 906h6v6h-6zM1530 924h6v6h-6zM1560 936h6v6h-6zM1392 960h6v6h-6zM1404 960h6v6h-6zM1398 966h6v6h-6zM1500 978h6v6h-6zM1500 984h6v6h-6zM1530 984h6v6h-6zM1530 1032h6v6h-6z"/>
<path fill="#5c006b" d="M1434 234h6v6h-6zM1422 240h6v6h-6zM1464 240h6v6h-6zM1422 246h6v6h-6zM1428 258h6v6h-6zM1476 282h6v6h-6zM1440 378h6v6h-6zM1530 420h6v6h-6zM1428 426h6v6h-6zM1542 432h12v6h-12zM1548 450h6v6h-6zM1494 462h6v6h-6zM1542 462h6v6h-6zM1536 468h6v6h-6zM1536 474h6v6h-6zM1482 480h6v6h-6zM1518 480h6v6h-6zM1530 480h6v6h-6zM1488 486h6v6h-6zM1524 486h6v6h-6zM1512 498h6v6h-6zM1530 498h6v6h-6zM1488 504h6v6h-6zM1506 504h6v6h-6zM1524 504h12v6h-12zM1482 570h6v6h-6zM1518 582h6v6h-6zM1542 600h6v6h-6zM1632 666h6v6h-6zM1596 672h6v6h-6zM1608 678h6v6h-6zM1596 684h6v6h-6zM1602 690h6v6h-6zM1620 690h6v6h-6zM1632 702h6v6h-6zM1614 708h6v6h-6zM1578 720h6v6h-6zM1596 732h6v6h-6zM1626 774h6v6h-6zM1638 780h6v6h-6zM1632 798h6v6h-6zM1620 804h6v6h-6zM1632 810h6v6h-6zM1554 852h6v6h-6zM1530 870h6v6h-6zM1416 948h6v6h-6zM1524 972h6v6h-6zM1524 978h6v6h-6zM1404 984h6v6h-6zM1506 984h6v6h-6zM1398 990h6v6h-6zM1500 990h6v6h-6zM1518 1002h6v6h-6zM1536 1032h12v6h-12zM1536 1038h6v6h-6z"/>
<path fill="#64008d" d="M1458 234h6v6h-6zM1446 240h6v6h-6zM1434 246h6v6h-6zM1446 246h12v6h-12zM1422 252h6v6h-6zM1446 252h6v6h-6zM1470 252h6v6h-6zM1440 276h6v6h-6zM1470 276h6v6h-6zM1452 282h6v6h-6zM1440 288h6v6h-6zM1428 300h6v6h-6zM1458 300h6v6h-6zM1446 384h6v6h-6zM1446 390h6v6h-6zM1458 390h6v6h-6zM1428 432h6v6h-6zM1440 444h6v6h-6zM1482 468h12v6h-12zM1530 468h6v6h-6zM1548 468h6v6h-6zM1470 474h6v6h-6zM1500 474h6v6h-6zM1530 474h6v6h-6zM1548 474h6v6h-6zM1470 480h12v6h-12zM1524 480h6v6h-6zM1530 486h6v6h-6zM1506 492h6v6h-6zM1542 492h6v6h-6zM1482 498h6v6h-6zM1518 498h12v6h-12zM1500 504h6v6h-6zM1518 504h6v6h-6zM1542 504h6v6h-6zM1500 510h12v6h-12zM1482 516h12v6h-12zM1530 516h6v6h-6zM1476 528h6v6h-6zM1536 534h6v6h-6zM1506 552h6v6h-6zM1512 558h6v6h-6zM1446 564h6v6h-6zM1488 570h6v6h-6zM1530 570h6v6h-6zM1512 576h6v6h-6zM1524 576h6v6h-6zM1494 582h6v6h-6zM1536 582h6v6h-6zM1548 582h12v6h-12zM1530 588h12v6h-12zM1542 594h12v6h-12zM1536 600h6v6h-6zM1542 606h6v6h-6zM1518 612h6v6h-6zM1632 660h6v6h-6zM1608 672h6v6h-6zM1638 672h6v6h-6zM1650 672h6v6h-6zM1626 678h6v6h-6zM1626 684h6v6h-6zM1608 696h6v6h-6zM1620 696h6v6h-6zM1614 702h6v6h-6zM1626 714h12v6h-12zM1584 720h6v6h-6zM1614 726h6v6h-6zM1644 726h6v6h-6zM1614 744h6v6h-6zM1608 750h6v6h-6zM1626 780h12v6h-12zM1638 804h6v6h-6zM1530 876h6v6h-6zM1572 882h6v6h-6zM1584 882h6v6h-6zM1596 882h6v6h-6zM1410 942h6v6h-6zM1398 960h6v6h-6zM1488 972h6v6h-6zM1530 972h6v6h-6zM1512 984h6v6h-6zM1524 984h6v6h-6zM1404 990h6v6h-6zM1518 996h6v6h-6zM1536 1026h6v6h-6zM1524 1038h12v6h-12zM1542 1038h6v6h-6zM1446 1044h6v6h-6zM1458 1056h6v6h-6zM1464 1086h6v6h-6z"/>
<path fill="#5c00a6" d="M1410 240h6v6h-6zM1416 246h6v6h-6zM1464 246h6v6h-6zM1428 252h6v6h-6zM1440 252h6v6h-6zM1476 252h6v6h-6zM1416 264h6v6h-6zM1428 264h6v6h-6zM1440 264h6v6h-6zM1458 264h6v6h-6zM1440 270h6v6h-6zM1428 276h6v6h-6zM1458 276h6v6h-6zM1440 282h6v6h-6zM1470 282h6v6h-6zM1452 288h6v6h-6zM1434 318h6v6h-6zM1440 372h6v6h-6zM1452 378h12v6h-12zM1434 390h6v6h-6zM1452 390h6v6h-6zM1524 420h6v6h-6zM1530 426h6v6h-6zM1548 426h6v6h-6zM1434 444h6v6h-6zM1446 456h6v6h-6zM1488 456h6v6h-6zM1548 456h6v6h-6zM1452 474h6v6h-6zM1464 474h6v6h-6zM1488 474h12v6h-12zM1506 474h6v6h-6zM1518 474h12v6h-12zM1488 480h6v6h-6zM1506 480h12v6h-12zM1536 480h6v6h-6zM1470 486h12v6h-12zM1500 486h12v6h-12zM1542 486h6v6h-6zM1494 492h6v6h-6zM1518 492h12v6h-12zM1470 498h12v6h-12zM1548 498h6v6h-6zM1494 504h6v6h-6zM1482 510h6v6h-6zM1530 510h12v6h-12zM1500 516h6v6h-6zM1524 516h6v6h-6zM1476 522h6v6h-6zM1488 522h12v6h-12zM1482 528h12v6h-12zM1482 546h6v6h-6zM1512 546h12v6h-12zM1482 552h6v6h-6zM1500 558h6v6h-6zM1494 564h12v6h-12zM1446 570h6v6h-6zM1464 570h6v6h-6zM1476 570h6v6h-6zM1518 570h6v6h-6zM1518 576h6v6h-6zM1512 582h6v6h-6zM1548 606h6v6h-6zM1542 612h6v6h-6zM1518 618h6v6h-6zM1536 618h6v6h-6zM1500 624h6v6h-6zM1512 624h12v6h-12zM1482 630h6v6h-6zM1620 666h6v6h-6zM1626 672h12v6h-12zM1656 678h12v6h-12zM1608 684h6v6h-6zM1650 684h6v6h-6zM1596 690h6v6h-6zM1626 690h18v6h-18zM1578 696h6v6h-6zM1602 696h6v6h-6zM1626 696h6v6h-6zM1638 696h6v6h-6zM1578 702h6v6h-6zM1584 708h6v6h-6zM1578 714h6v6h-6zM1626 720h12v6h-12zM1638 726h6v6h-6zM1584 732h6v6h-6zM1602 732h6v6h-6zM1608 738h6v6h-6zM1650 738h6v6h-6zM1620 756h6v6h-6zM1638 762h6v6h-6zM1638 774h6v6h-6zM1632 822h6v6h-6zM1650 822h6v6h-6zM1644 828h6v6h-6zM1560 846h6v6h-6zM1590 846h6v6h-6zM1560 852h6v6h-6zM1554 858h6v6h-6zM1548 864h6v6h-6zM1566 864h6v6h-6zM1542 870h6v6h-6zM1542 876h6v6h-6zM1584 876h6v6h-6zM1548 882h6v6h-6zM1584 888h6v6h-6zM1422 936h6v6h-6zM1542 972h6v6h-6zM1416 978h6v6h-6zM1536 978h6v6h-6zM1386 984h6v6h-6zM1494 990h6v6h-6zM1524 990h12v6h-12zM1392 996h6v6h-6zM1488 996h6v6h-6zM1518 1008h12v6h-12zM1542 1008h6v6h-6zM1554 1014h6v6h-6zM1542 1020h6v6h-6zM1500 1032h6v6h-6zM1404 1038h6v6h-6zM1398 1044h6v6h-6zM1452 1044h6v6h-6zM1404 1050h6v6h-6zM1452 1050h6v6h-6zM1476 1050h6v6h-6zM1512 1050h6v6h-6zM1440 1080h6v6h-6zM1464 1080h6v6h-6zM1458 1086h6v6h-6z"/>
<path fill="#4d00c0" d="M1428 234h6v6h-6zM1410 246h6v6h-6zM1428 246h6v6h-6zM1458 246h6v6h-6zM1476 246h6v6h-6zM1416 252h6v6h-6zM1458 258h6v6h-6zM1422 264h6v6h-6zM1434 264h6v6h-6zM1452 264h6v6h-6zM1416 270h6v6h-6zM1434 270h6v6h-6zM1458 288h6v6h-6zM1470 288h6v6h-6zM1446 294h6v6h-6zM1464 294h6v6h-6zM1440 300h6v6h-6zM1440 318h6v6h-6zM1434 336h6v6h-6zM1452 384h6v6h-6zM1440 396h6v6h-6zM1500 426h6v6h-6zM1422 432h6v6h-6zM1464 432h6v6h-6zM1428 438h6v6h-6zM1470 438h6v6h-6zM1548 438h6v6h-6zM1428 444h6v6h-6zM1464 444h6v6h-6zM1548 444h6v6h-6zM1470 450h6v6h-6zM1452 456h12v6h-12zM1446 462h12v6h-12zM1482 462h6v6h-6zM1494 468h6v6h-6zM1542 474h6v6h-6zM1500 480h6v6h-6zM1548 480h6v6h-6zM1536 486h6v6h-6zM1548 486h6v6h-6zM1530 492h12v6h-12zM1470 504h6v6h-6zM1536 504h6v6h-6zM1554 504h6v6h-6zM1554 510h6v6h-6zM1476 516h6v6h-6zM1512 516h6v6h-6zM1500 528h6v6h-6zM1488 540h6v6h-6zM1518 540h6v6h-6zM1542 540h6v6h-6zM1500 546h6v6h-6zM1542 546h6v6h-6zM1524 552h6v6h-6zM1452 558h12v6h-12zM1536 558h6v6h-6zM1506 564h6v6h-6zM1512 570h6v6h-6zM1542 570h6v6h-6zM1524 582h6v6h-6zM1560 582h6v6h-6zM1500 588h6v6h-6zM1500 594h6v6h-6zM1512 600h12v6h-12zM1512 606h6v6h-6zM1524 606h6v6h-6zM1464 612h6v6h-6zM1512 612h6v6h-6zM1476 624h6v6h-6zM1506 624h6v6h-6zM1494 630h12v6h-12zM1644 666h6v6h-6zM1572 672h6v6h-6zM1656 672h6v6h-6zM1650 690h6v6h-6zM1572 696h6v6h-6zM1584 696h6v6h-6zM1644 696h6v6h-6zM1602 702h12v6h-12zM1638 702h6v6h-6zM1590 708h6v6h-6zM1632 708h6v6h-6zM1662 708h6v6h-6zM1638 714h6v6h-6zM1638 720h6v6h-6zM1656 720h6v6h-6zM1560 726h6v6h-6zM1650 726h6v6h-6zM1590 732h6v6h-6zM1656 732h6v6h-6zM1614 738h18v6h-18zM1644 738h6v6h-6zM1656 738h6v6h-6zM1620 744h6v6h-6zM1644 744h12v6h-12zM1620 750h6v6h-6zM1638 750h12v6h-12zM1632 756h12v6h-12zM1626 762h6v6h-6zM1512 768h6v6h-6zM1620 768h6v6h-6zM1632 768h6v6h-6zM1620 780h6v6h-6zM1620 786h6v6h-6zM1626 816h12v6h-12zM1572 852h6v6h-6zM1548 858h6v6h-6zM1566 876h6v6h-6zM1542 882h6v6h-6zM1566 882h6v6h-6zM1542 888h6v6h-6zM1566 888h6v6h-6zM1578 888h6v6h-6zM1404 954h6v6h-6zM1410 972h6v6h-6zM1410 978h6v6h-6zM1470 978h6v6h-6zM1410 984h6v6h-6zM1512 990h6v6h-6zM1524 996h6v6h-6zM1554 1002h6v6h-6zM1506 1008h6v6h-6zM1548 1008h6v6h-6zM1512 1014h6v6h-6zM1530 1026h6v6h-6zM1512 1044h6v6h-6zM1536 1044h6v6h-6zM1452 1056h6v6h-6zM1446 1062h6v6h-6zM1428 1086h6v6h-6z"/>
<path fill="#3500dd" d="M1422 228h6v6h-6zM1440 246h6v6h-6zM1434 252h6v6h-6zM1410 258h12v6h-12zM1440 258h6v6h-6zM1470 258h6v6h-6zM1446 264h6v6h-6zM1464 264h12v6h-12zM1452 270h6v6h-6zM1464 270h6v6h-6zM1446 276h6v6h-6zM1458 282h12v6h-12zM1440 294h6v6h-6zM1452 294h6v6h-6zM1428 318h6v6h-6zM1494 330h6v6h-6zM1464 372h6v6h-6zM1434 432h6v6h-6zM1434 438h6v6h-6zM1458 444h6v6h-6zM1446 450h12v6h-12zM1476 450h6v6h-6zM1494 450h6v6h-6zM1536 450h6v6h-6zM1434 456h6v6h-6zM1470 456h6v6h-6zM1476 462h6v6h-6zM1428 468h6v6h-6zM1464 468h6v6h-6zM1476 468h6v6h-6zM1446 474h6v6h-6zM1458 474h6v6h-6zM1476 474h12v6h-12zM1512 474h6v6h-6zM1446 480h6v6h-6zM1494 480h6v6h-6zM1494 486h6v6h-6zM1536 498h12v6h-12zM1524 510h6v6h-6zM1542 510h6v6h-6zM1494 516h6v6h-6zM1548 516h6v6h-6zM1524 522h12v6h-12zM1494 528h6v6h-6zM1512 528h6v6h-6zM1524 528h6v6h-6zM1476 534h6v6h-6zM1494 534h6v6h-6zM1524 534h12v6h-12zM1482 540h6v6h-6zM1506 540h6v6h-6zM1476 546h6v6h-6zM1488 546h12v6h-12zM1548 546h6v6h-6zM1494 552h12v6h-12zM1488 558h12v6h-12zM1506 558h6v6h-6zM1518 558h6v6h-6zM1542 558h6v6h-6zM1482 564h12v6h-12zM1530 564h6v6h-6zM1548 564h6v6h-6zM1500 570h6v6h-6zM1548 570h6v6h-6zM1446 576h6v6h-6zM1494 576h12v6h-12zM1506 582h6v6h-6zM1470 588h6v6h-6zM1464 594h6v6h-6zM1494 594h6v6h-6zM1518 594h6v6h-6zM1500 600h12v6h-12zM1524 600h6v6h-6zM1548 600h6v6h-6zM1494 606h12v6h-12zM1518 606h6v6h-6zM1506 612h6v6h-6zM1506 618h6v6h-6zM1530 618h6v6h-6zM1548 618h6v6h-6zM1536 624h12v6h-12zM1506 630h6v6h-6zM1482 636h6v6h-6zM1590 666h6v6h-6zM1650 666h6v6h-6zM1584 672h12v6h-12zM1590 678h6v6h-6zM1590 684h6v6h-6zM1656 684h6v6h-6zM1590 690h6v6h-6zM1662 690h6v6h-6zM1524 696h12v6h-12zM1596 696h6v6h-6zM1650 696h6v6h-6zM1584 702h6v6h-6zM1656 702h6v6h-6zM1584 714h6v6h-6zM1656 714h6v6h-6zM1596 726h6v6h-6zM1632 726h6v6h-6zM1620 732h12v6h-12zM1632 738h6v6h-6zM1626 744h12v6h-12zM1614 750h6v6h-6zM1614 756h6v6h-6zM1620 774h6v6h-6zM1644 780h6v6h-6zM1626 798h6v6h-6zM1560 840h6v6h-6zM1578 840h6v6h-6zM1554 846h6v6h-6zM1572 858h6v6h-6zM1554 876h6v6h-6zM1578 876h6v6h-6zM1554 882h6v6h-6zM1416 936h6v6h-6zM1404 942h6v6h-6zM1410 948h6v6h-6zM1302 960h6v6h-6zM1506 960h6v6h-6zM1398 972h6v6h-6zM1476 990h6v6h-6zM1476 996h6v6h-6zM1542 996h6v6h-6zM1512 1008h6v6h-6zM1536 1008h6v6h-6zM1284 1014h6v6h-6zM1518 1014h6v6h-6zM1548 1014h6v6h-6zM1404 1032h6v6h-6zM1392 1044h6v6h-6zM1470 1050h6v6h-6zM1392 1056h6v6h-6zM1398 1062h6v6h-6zM1434 1062h6v6h-6zM1458 1062h6v6h-6zM1446 1068h6v6h-6zM1434 1080h6v6h-6zM1422 1086h6v6h-6zM1434 1092h6v6h-6z"/>
<path fill="#1000f7" d="M1428 228h6v6h-6zM1434 240h6v6h-6zM1470 240h6v6h-6zM1452 252h6v6h-6zM1422 258h6v6h-6zM1464 258h6v6h-6zM1476 258h6v6h-6zM1446 288h6v6h-6zM1470 294h6v6h-6zM1428 306h12v6h-12zM1422 324h6v6h-6zM1452 324h6v6h-6zM1452 348h6v6h-6zM1428 396h6v6h-6zM1428 420h6v6h-6zM1434 426h6v6h-6zM1458 426h6v6h-6zM1440 438h12v6h-12zM1542 438h6v6h-6zM1452 444h6v6h-6zM1464 450h6v6h-6zM1440 456h6v6h-6zM1524 456h6v6h-6zM1446 468h6v6h-6zM1500 498h6v6h-6zM1482 504h6v6h-6zM1482 522h6v6h-6zM1518 522h6v6h-6zM1518 528h6v6h-6zM1470 534h6v6h-6zM1500 534h6v6h-6zM1494 540h6v6h-6zM1524 540h12v6h-12zM1506 546h6v6h-6zM1512 552h6v6h-6zM1530 552h12v6h-12zM1470 558h12v6h-12zM1548 558h6v6h-6zM1506 570h6v6h-6zM1452 576h6v6h-6zM1548 576h6v6h-6zM1494 588h6v6h-6zM1470 600h6v6h-6zM1470 612h6v6h-6zM1500 612h6v6h-6zM1530 612h6v6h-6zM1500 618h6v6h-6zM1524 618h6v6h-6zM1518 630h6v6h-6zM1542 630h6v6h-6zM1656 666h6v6h-6zM1578 672h6v6h-6zM1572 678h6v6h-6zM1542 690h6v6h-6zM1584 690h6v6h-6zM1656 690h6v6h-6zM1590 696h6v6h-6zM1590 702h6v6h-6zM1638 708h6v6h-6zM1596 714h6v6h-6zM1614 714h12v6h-12zM1590 720h6v6h-6zM1620 720h6v6h-6zM1644 720h6v6h-6zM1638 732h6v6h-6zM1638 744h6v6h-6zM1614 762h6v6h-6zM1512 774h18v6h-18zM1578 846h6v6h-6zM1590 852h6v6h-6zM1572 864h6v6h-6zM1560 870h6v6h-6zM1428 876h6v6h-6zM1422 942h6v6h-6zM1470 942h6v6h-6zM1404 948h6v6h-6zM1404 966h12v6h-12zM1404 972h6v6h-6zM1392 978h6v6h-6zM1404 978h6v6h-6zM1428 978h6v6h-6zM1506 1014h6v6h-6zM1524 1014h6v6h-6zM1416 1020h6v6h-6zM1500 1020h6v6h-6zM1512 1020h6v6h-6zM1524 1020h6v6h-6zM1404 1026h6v6h-6zM1416 1026h6v6h-6zM1524 1026h6v6h-6zM1398 1038h6v6h-6zM1494 1038h6v6h-6zM1518 1038h6v6h-6zM1410 1050h6v6h-6zM1446 1056h6v6h-6zM1452 1062h6v6h-6zM1476 1062h6v6h-6zM1404 1068h6v6h-6zM1452 1068h6v6h-6zM1440 1074h12v6h-12zM1398 1080h6v6h-6zM1452 1092h6v6h-6z"/>
<path fill="#0000ff" d="M1458 252h6v6h-6zM1410 270h6v6h-6zM1446 270h6v6h-6zM1452 276h6v6h-6zM1446 318h6v6h-6zM1434 330h6v6h-6zM1452 330h6v6h-6zM1452 342h6v6h-6zM1440 420h6v6h-6zM1452 426h6v6h-6zM1464 426h6v6h-6zM1452 438h6v6h-6zM1476 438h6v6h-6zM1470 444h6v6h-6zM1488 444h6v6h-6zM1458 450h6v6h-6zM1500 450h6v6h-6zM1458 462h6v6h-6zM1530 462h12v6h-12zM1458 468h6v6h-6zM1470 468h6v6h-6zM1548 492h6v6h-6zM1476 510h6v6h-6zM1500 522h6v6h-6zM1482 534h12v6h-12zM1506 534h6v6h-6zM1512 540h6v6h-6zM1476 552h6v6h-6zM1554 558h6v6h-6zM1464 564h6v6h-6zM1506 576h6v6h-6zM1506 588h12v6h-12zM1524 594h6v6h-6zM1464 606h6v6h-6zM1524 624h6v6h-6zM1512 630h6v6h-6zM1674 660h6v6h-6zM1662 672h6v6h-6zM1578 684h6v6h-6zM1536 690h6v6h-6zM1596 702h6v6h-6zM1644 702h12v6h-12zM1542 708h6v6h-6zM1602 708h6v6h-6zM1656 708h6v6h-6zM1590 714h6v6h-6zM1608 714h6v6h-6zM1602 720h6v6h-6zM1614 720h6v6h-6zM1602 726h6v6h-6zM1650 732h6v6h-6zM1668 744h6v6h-6zM1614 768h6v6h-6zM1638 768h6v6h-6zM1614 786h6v6h-6zM1650 792h6v6h-6zM1650 810h6v6h-6zM1584 858h6v6h-6zM1596 858h6v6h-6zM1572 870h6v6h-6zM1596 870h6v6h-6zM1590 888h6v6h-6zM1470 948h6v6h-6zM1398 954h6v6h-6zM1416 954h6v6h-6zM1416 960h6v6h-6zM1416 972h6v6h-6zM1380 978h6v6h-6zM1428 984h6v6h-6zM1482 984h6v6h-6zM1398 996h6v6h-6zM1428 996h6v6h-6zM1548 996h6v6h-6zM1500 1002h6v6h-6zM1248 1020h6v6h-6zM1398 1020h6v6h-6zM1512 1026h6v6h-6zM1278 1032h6v6h-6zM1416 1032h6v6h-6zM1518 1032h6v6h-6zM1410 1044h6v6h-6zM1434 1050h6v6h-6zM1446 1050h6v6h-6zM1398 1056h18v6h-18zM1422 1068h6v6h-6zM1404 1080h6v6h-6zM1452 1080h6v6h-6zM1470 1098h6v6h-6zM1164 1152h6v6h-6z"/>
<path fill="#001fff" d="M1410 162h6v6h-6zM1434 228h6v6h-6zM1428 282h6v6h-6zM1446 300h6v6h-6zM1464 300h6v6h-6zM1428 330h6v6h-6zM1440 348h6v6h-6zM1482 354h6v6h-6zM1470 420h6v6h-6zM1440 426h6v6h-6zM1452 432h6v6h-6zM1530 438h6v6h-6zM1536 444h6v6h-6zM1524 450h6v6h-6zM1494 456h6v6h-6zM1500 468h6v6h-6zM1434 480h6v6h-6zM1554 492h6v6h-6zM1512 522h6v6h-6zM1524 546h6v6h-6zM1554 546h6v6h-6zM1488 552h6v6h-6zM1548 552h6v6h-6zM1476 582h6v6h-6zM1464 588h6v6h-6zM1518 588h6v6h-6zM1512 594h6v6h-6zM1524 612h6v6h-6zM1536 612h6v6h-6zM1536 630h6v6h-6zM1488 654h6v6h-6zM1662 666h6v6h-6zM1494 678h6v6h-6zM1536 684h6v6h-6zM1584 684h6v6h-6zM1656 696h6v6h-6zM1602 714h6v6h-6zM1644 714h6v6h-6zM1650 720h6v6h-6zM1632 732h6v6h-6zM1536 786h6v6h-6zM1530 798h6v6h-6zM1536 804h6v6h-6zM1536 810h6v6h-6zM1650 816h6v6h-6zM1584 864h6v6h-6zM1470 936h12v6h-12zM1518 942h6v6h-6zM1398 948h6v6h-6zM1476 948h6v6h-6zM1392 954h6v6h-6zM1422 954h6v6h-6zM1512 966h6v6h-6zM1410 990h6v6h-6zM1428 990h6v6h-6zM1482 990h6v6h-6zM1404 1002h12v6h-12zM1410 1014h6v6h-6zM1428 1014h6v6h-6zM1476 1014h6v6h-6zM1518 1020h6v6h-6zM1254 1026h6v6h-6zM1500 1026h6v6h-6zM1506 1032h6v6h-6zM1434 1056h6v6h-6zM1476 1056h6v6h-6zM1164 1146h6v6h-6zM1152 1152h6v6h-6z"/>
<path fill="#0045ff" d="M1422 234h6v6h-6zM1416 240h6v6h-6zM1446 258h6v6h-6zM1428 312h6v6h-6zM1488 312h6v6h-6zM1452 318h6v6h-6zM1428 324h6v6h-6zM1440 324h6v6h-6zM1434 348h6v6h-6zM1458 348h6v6h-6zM1482 348h6v6h-6zM1446 426h6v6h-6zM1524 426h6v6h-6zM1440 432h6v6h-6zM1530 432h12v6h-12zM1554 432h6v6h-6zM1458 438h6v6h-6zM1494 444h6v6h-6zM1530 444h6v6h-6zM1488 450h6v6h-6zM1506 456h6v6h-6zM1536 456h6v6h-6zM1440 474h6v6h-6zM1530 546h6v6h-6zM1470 618h12v6h-12zM1554 684h6v6h-6zM1530 690h6v6h-6zM1536 702h6v6h-6zM1548 702h6v6h-6zM1536 708h6v6h-6zM1548 708h6v6h-6zM1560 720h6v6h-6zM1554 726h6v6h-6zM1566 726h12v6h-12zM1536 780h6v6h-6zM1608 780h6v6h-6zM1536 792h6v6h-6zM1542 804h6v6h-6zM1584 852h6v6h-6zM1578 864h6v6h-6zM1590 870h6v6h-6zM1488 894h6v6h-6zM1428 936h6v6h-6zM1428 942h6v6h-6zM1428 948h6v6h-6zM1512 948h6v6h-6zM1434 978h6v6h-6zM1392 990h6v6h-6zM1416 990h6v6h-6zM1782 990h6v6h-6zM1416 996h6v6h-6zM1392 1002h6v6h-6zM1410 1008h6v6h-6zM1278 1020h6v6h-6zM1410 1020h6v6h-6zM1410 1026h6v6h-6zM1410 1038h6v6h-6zM1428 1038h6v6h-6zM1422 1044h6v6h-6zM1398 1050h6v6h-6zM1428 1050h6v6h-6zM1416 1056h6v6h-6zM1476 1068h6v6h-6zM1284 1074h6v6h-6zM1404 1074h6v6h-6zM1410 1086h6v6h-6zM1470 1086h6v6h-6zM1476 1092h6v6h-6z"/>
<path fill="#006fff" d="M1410 150h6v6h-6zM1398 156h18v6h-18zM1428 210h6v6h-6zM1416 216h6v6h-6zM1428 216h6v6h-6zM1416 234h6v6h-6zM1440 240h6v6h-6zM1434 312h6v6h-6zM1446 312h6v6h-6zM1452 336h12v6h-12zM1422 342h6v6h-6zM1458 342h6v6h-6zM1464 348h6v6h-6zM1488 420h12v6h-12zM1446 432h6v6h-6zM1458 432h6v6h-6zM1494 432h6v6h-6zM1506 444h6v6h-6zM1542 444h6v6h-6zM1506 450h6v6h-6zM1464 456h6v6h-6zM1500 456h6v6h-6zM1464 462h12v6h-12zM1512 468h6v6h-6zM1458 594h6v6h-6zM1482 600h6v6h-6zM1458 606h6v6h-6zM1470 606h6v6h-6zM1476 612h6v6h-6zM1464 618h6v6h-6zM1542 672h6v6h-6zM1524 684h6v6h-6zM1524 690h6v6h-6zM1548 690h6v6h-6zM1566 690h6v6h-6zM1530 702h6v6h-6zM1542 702h6v6h-6zM1560 768h6v6h-6zM1530 780h6v6h-6zM1524 792h6v6h-6zM1536 798h6v6h-6zM1554 840h6v6h-6zM1518 870h6v6h-6zM1428 882h6v6h-6zM1494 900h6v6h-6zM1464 906h6v6h-6zM1470 930h6v6h-6zM1308 960h6v6h-6zM1380 960h6v6h-6zM1506 972h6v6h-6zM1434 984h6v6h-6zM1422 990h6v6h-6zM1410 996h6v6h-6zM1776 996h6v6h-6zM1428 1002h6v6h-6zM1404 1008h6v6h-6zM1254 1020h6v6h-6zM1464 1020h6v6h-6zM1452 1026h6v6h-6zM1272 1032h6v6h-6zM1452 1032h6v6h-6zM1482 1032h6v6h-6zM1512 1032h6v6h-6zM1512 1038h6v6h-6zM1458 1044h6v6h-6zM1398 1068h6v6h-6zM1410 1068h6v6h-6zM1278 1074h6v6h-6zM1398 1074h6v6h-6zM1410 1080h6v6h-6zM1476 1080h6v6h-6zM1272 1086h6v6h-6zM1242 1098h6v6h-6zM1170 1152h6v6h-6z"/>
<path fill="#0096ff" d="M1422 210h6v6h-6zM1422 216h6v6h-6zM1416 222h12v6h-12zM1482 330h6v6h-6zM1440 336h6v6h-6zM1488 336h6v6h-6zM1488 342h6v6h-6zM1446 348h6v6h-6zM1446 354h12v6h-12zM1488 354h6v6h-6zM1212 396h6v6h-6zM1482 420h6v6h-6zM1506 426h6v6h-6zM1524 432h6v6h-6zM1524 444h6v6h-6zM1512 450h12v6h-12zM1542 450h6v6h-6zM1512 462h12v6h-12zM1410 522h6v6h-6zM1458 576h6v6h-6zM1470 576h6v6h-6zM1482 576h6v6h-6zM1470 582h6v6h-6zM1476 588h6v6h-6zM1476 594h6v6h-6zM1476 600h6v6h-6zM1482 648h6v6h-6zM1560 666h6v6h-6zM1524 672h6v6h-6zM1548 672h12v6h-12zM1554 678h6v6h-6zM1542 684h6v6h-6zM1548 696h6v6h-6zM1530 708h6v6h-6zM1572 708h6v6h-6zM1530 714h12v6h-12zM1566 714h6v6h-6zM1554 720h6v6h-6zM1530 774h6v6h-6zM1524 780h6v6h-6zM1542 786h6v6h-6zM1518 792h6v6h-6zM1542 792h6v6h-6zM1698 792h6v6h-6zM1524 798h6v6h-6zM1542 798h6v6h-6zM1518 810h6v6h-6zM1692 810h6v6h-6zM1494 918h6v6h-6zM1476 942h6v6h-6zM1446 948h6v6h-6zM1518 948h12v6h-12zM1476 954h6v6h-6zM1428 972h6v6h-6zM1338 978h6v6h-6zM1434 990h6v6h-6zM1788 996h6v6h-6zM1416 1002h12v6h-12zM1398 1014h6v6h-6zM1422 1014h6v6h-6zM1266 1020h6v6h-6zM1248 1032h6v6h-6zM1260 1038h6v6h-6zM1284 1038h6v6h-6zM1416 1038h6v6h-6zM1458 1038h6v6h-6zM1248 1044h6v6h-6zM1470 1044h6v6h-6zM1482 1056h6v6h-6zM1404 1062h12v6h-12zM1488 1068h6v6h-6zM1290 1074h6v6h-6z"/>
<path fill="#00baff" d="M1410 180h6v6h-6zM1428 204h6v6h-6zM1434 222h6v6h-6zM1416 276h6v6h-6zM1482 288h6v6h-6zM1494 306h6v6h-6zM1440 330h12v6h-12zM1458 330h6v6h-6zM1440 342h6v6h-6zM1476 348h6v6h-6zM1494 348h6v6h-6zM1458 360h6v6h-6zM1536 420h6v6h-6zM1518 432h6v6h-6zM1500 444h6v6h-6zM1512 444h6v6h-6zM1518 456h6v6h-6zM1500 462h12v6h-12zM1464 582h6v6h-6zM1488 582h6v6h-6zM1482 588h12v6h-12zM1446 606h6v6h-6zM1488 612h6v6h-6zM1500 642h6v6h-6zM1596 660h6v6h-6zM1500 666h6v6h-6zM1560 708h6v6h-6zM1572 714h6v6h-6zM1530 720h6v6h-6zM1566 720h6v6h-6zM1548 726h6v6h-6zM1710 732h6v6h-6zM1560 762h6v6h-6zM1524 768h6v6h-6zM1506 774h6v6h-6zM1524 786h6v6h-6zM1530 792h6v6h-6zM1548 792h12v6h-12zM1560 798h6v6h-6zM1530 804h6v6h-6zM1554 804h6v6h-6zM1548 810h6v6h-6zM1560 816h6v6h-6zM1524 864h6v6h-6zM1578 894h6v6h-6zM1464 936h6v6h-6zM1482 936h6v6h-6zM1500 936h6v6h-6zM1446 942h6v6h-6zM1482 948h6v6h-6zM1536 948h6v6h-6zM1500 954h6v6h-6zM1254 960h6v6h-6zM1296 960h6v6h-6zM1482 960h12v6h-12zM1422 966h6v6h-6zM1332 978h6v6h-6zM1530 978h6v6h-6zM1422 984h6v6h-6zM1812 990h6v6h-6zM1782 996h6v6h-6zM1392 1008h6v6h-6zM1254 1014h6v6h-6zM1404 1014h6v6h-6zM1260 1020h6v6h-6zM1458 1020h6v6h-6zM1470 1020h6v6h-6zM1260 1026h12v6h-12zM1278 1026h6v6h-6zM1254 1032h12v6h-12zM1434 1032h6v6h-6zM1458 1032h6v6h-6zM1272 1038h12v6h-12zM1452 1038h6v6h-6zM1476 1044h6v6h-6zM1290 1050h6v6h-6zM1482 1050h6v6h-6zM1494 1050h6v6h-6zM1470 1062h6v6h-6zM1482 1062h6v6h-6zM1506 1062h6v6h-6zM1284 1068h6v6h-6zM1428 1092h6v6h-6zM1464 1098h6v6h-6zM1158 1176h6v6h-6zM1176 1206h6v6h-6z"/>
<path fill="#00e1ff" d="M1410 168h6v6h-6zM1416 228h6v6h-6zM1440 234h6v6h-6zM1422 288h6v6h-6zM1452 300h6v6h-6zM1488 300h6v6h-6zM1458 318h6v6h-6zM1482 318h6v6h-6zM1494 324h6v6h-6zM1446 336h6v6h-6zM1464 336h18v6h-18zM1434 342h6v6h-6zM1464 342h6v6h-6zM1422 348h6v6h-6zM1458 354h6v6h-6zM1218 408h6v6h-6zM1470 432h6v6h-6zM1500 432h18v6h-18zM1494 438h6v6h-6zM1518 444h6v6h-6zM1512 456h6v6h-6zM1488 462h6v6h-6zM1404 522h6v6h-6zM1494 570h6v6h-6zM1458 588h6v6h-6zM1488 606h6v6h-6zM1470 624h6v6h-6zM1620 654h6v6h-6zM1602 660h6v6h-6zM1620 660h6v6h-6zM1488 666h6v6h-6zM1548 666h6v6h-6zM1494 672h6v6h-6zM1500 678h6v6h-6zM1524 678h6v6h-6zM1548 678h6v6h-6zM1548 684h6v6h-6zM1572 684h6v6h-6zM1560 690h6v6h-6zM1536 696h6v6h-6zM1566 708h6v6h-6zM1560 714h6v6h-6zM1674 720h6v6h-6zM1716 720h6v6h-6zM1530 726h6v6h-6zM1542 726h6v6h-6zM1578 726h6v6h-6zM1680 726h6v6h-6zM1674 738h6v6h-6zM1698 744h6v6h-6zM1560 750h6v6h-6zM1560 780h6v6h-6zM1518 786h6v6h-6zM1560 792h6v6h-6zM1548 798h6v6h-6zM1560 804h6v6h-6zM1524 810h6v6h-6zM1560 810h6v6h-6zM1500 846h6v6h-6zM1500 852h6v6h-6zM1452 858h6v6h-6zM1518 864h6v6h-6zM1494 894h6v6h-6zM1488 900h6v6h-6zM1494 906h6v6h-6zM1470 912h6v6h-6zM1494 912h6v6h-6zM1476 930h6v6h-6zM1488 936h6v6h-6zM1506 936h6v6h-6zM1440 942h6v6h-6zM1458 942h6v6h-6zM1482 942h6v6h-6zM1500 942h12v6h-12zM1536 942h6v6h-6zM1290 948h6v6h-6zM1482 954h6v6h-6zM1494 954h6v6h-6zM1506 954h6v6h-6zM1386 960h6v6h-6zM1428 960h6v6h-6zM1284 966h12v6h-12zM1380 966h6v6h-6zM1428 966h6v6h-6zM1518 978h6v6h-6zM1776 984h6v6h-6zM1482 1008h6v6h-6zM1266 1014h6v6h-6zM1272 1020h6v6h-6zM1440 1020h6v6h-6zM1476 1020h12v6h-12zM1284 1026h6v6h-6zM1446 1026h6v6h-6zM1458 1026h6v6h-6zM1254 1038h6v6h-6zM1446 1038h6v6h-6zM1470 1038h6v6h-6zM1500 1050h6v6h-6zM1416 1062h6v6h-6zM1416 1068h6v6h-6zM1512 1068h6v6h-6zM1488 1074h6v6h-6zM1266 1086h6v6h-6zM1488 1086h6v6h-6zM1182 1098h6v6h-6zM1236 1098h6v6h-6zM1488 1098h6v6h-6zM1158 1158h6v6h-6z"/>
<path fill="#00fff6" d="M1398 186h6v6h-6zM1416 186h6v6h-6zM1410 210h6v6h-6zM1434 216h6v6h-6zM1428 222h6v6h-6zM1470 222h6v6h-6zM1398 264h6v6h-6zM1488 306h6v6h-6zM1494 312h6v6h-6zM1464 324h6v6h-6zM1488 330h6v6h-6zM1422 336h6v6h-6zM1482 336h6v6h-6zM1446 342h6v6h-6zM1470 342h6v6h-6zM1464 354h6v6h-6zM1488 360h6v6h-6zM1458 366h6v6h-6zM1248 384h6v6h-6zM1428 390h6v6h-6zM1464 390h6v6h-6zM1446 396h6v6h-6zM1488 426h6v6h-6zM1488 432h6v6h-6zM1488 438h6v6h-6zM1500 438h6v6h-6zM1524 438h6v6h-6zM1476 444h6v6h-6zM1482 450h6v6h-6zM1518 468h6v6h-6zM1464 576h6v6h-6zM1476 576h6v6h-6zM1488 600h6v6h-6zM1482 606h6v6h-6zM1482 612h6v6h-6zM1482 618h6v6h-6zM1482 624h6v6h-6zM1500 648h6v6h-6zM1638 666h6v6h-6zM1500 672h6v6h-6zM1560 672h6v6h-6zM1530 678h18v6h-18zM1686 678h6v6h-6zM1698 684h6v6h-6zM1518 696h6v6h-6zM1554 708h6v6h-6zM1518 714h6v6h-6zM1542 714h6v6h-6zM1548 720h6v6h-6zM1710 726h6v6h-6zM1554 732h6v6h-6zM1590 738h6v6h-6zM1554 750h6v6h-6zM1530 768h6v6h-6zM1548 780h12v6h-12zM1548 786h12v6h-12zM1524 804h6v6h-6zM1692 804h6v6h-6zM1530 810h6v6h-6zM1554 810h6v6h-6zM1434 870h6v6h-6zM1524 870h6v6h-6zM1434 876h6v6h-6zM1470 900h6v6h-6zM1506 906h6v6h-6zM1500 912h6v6h-6zM1470 918h6v6h-6zM1482 918h12v6h-12zM1500 930h6v6h-6zM1446 936h6v6h-6zM1422 960h6v6h-6zM1374 966h6v6h-6zM1386 966h6v6h-6zM1284 972h6v6h-6zM1386 972h6v6h-6zM1770 990h12v6h-12zM1806 990h6v6h-6zM1398 1008h6v6h-6zM1416 1008h6v6h-6zM1428 1008h6v6h-6zM1260 1014h6v6h-6zM1416 1014h6v6h-6zM1488 1014h6v6h-6zM1446 1020h6v6h-6zM1272 1026h6v6h-6zM1470 1026h6v6h-6zM1482 1026h6v6h-6zM1266 1032h6v6h-6zM1464 1032h6v6h-6zM1476 1032h6v6h-6zM1290 1044h6v6h-6zM1464 1044h6v6h-6zM1482 1044h6v6h-6zM1284 1050h6v6h-6zM1506 1056h6v6h-6zM1284 1062h12v6h-12zM1416 1074h12v6h-12zM1476 1074h6v6h-6zM1260 1080h6v6h-6zM1482 1080h6v6h-6zM1242 1092h6v6h-6zM1482 1092h6v6h-6zM1416 1098h6v6h-6zM1482 1098h6v6h-6zM1158 1152h6v6h-6zM1164 1170h6v6h-6zM1176 1194h6v6h-6z"/>
<path fill="#00ffd6" d="M1416 162h6v6h-6zM1404 174h6v6h-6zM1398 180h12v6h-12zM1416 192h6v6h-6zM1476 222h6v6h-6zM1440 228h6v6h-6zM1452 234h6v6h-6zM1482 240h6v6h-6zM1476 300h6v6h-6zM1440 306h6v6h-6zM1458 306h12v6h-12zM1482 306h6v6h-6zM1452 312h12v6h-12zM1470 312h18v6h-18zM1494 318h6v6h-6zM1440 354h6v6h-6zM1476 354h6v6h-6zM1212 384h6v6h-6zM1452 396h6v6h-6zM1224 420h6v6h-6zM1494 426h6v6h-6zM1482 438h6v6h-6zM1512 438h12v6h-12zM1482 594h12v6h-12zM1494 618h6v6h-6zM1488 624h6v6h-6zM1494 654h6v6h-6zM1608 654h12v6h-12zM1608 660h12v6h-12zM1614 666h6v6h-6zM1488 672h6v6h-6zM1488 678h6v6h-6zM1566 678h6v6h-6zM1566 684h6v6h-6zM1686 684h12v6h-12zM1572 690h6v6h-6zM1536 720h6v6h-6zM1686 726h6v6h-6zM1698 726h6v6h-6zM1692 732h6v6h-6zM1704 732h6v6h-6zM1548 744h6v6h-6zM1662 744h6v6h-6zM1674 744h6v6h-6zM1548 750h6v6h-6zM1530 756h6v6h-6zM1548 756h6v6h-6zM1554 768h6v6h-6zM1536 774h6v6h-6zM1542 780h6v6h-6zM1560 822h6v6h-6zM1446 858h6v6h-6zM1524 858h6v6h-6zM1422 876h6v6h-6zM1518 882h6v6h-6zM1488 906h6v6h-6zM1500 906h6v6h-6zM1482 912h6v6h-6zM1398 924h6v6h-6zM1482 930h12v6h-12zM1506 930h6v6h-6zM1494 936h6v6h-6zM1440 948h6v6h-6zM1494 948h6v6h-6zM1506 948h6v6h-6zM1488 954h6v6h-6zM1308 972h6v6h-6zM1338 984h6v6h-6zM1560 1002h6v6h-6zM1272 1008h6v6h-6zM1464 1008h6v6h-6zM1464 1014h6v6h-6zM1428 1020h6v6h-6zM1488 1020h12v6h-12zM1422 1026h6v6h-6zM1476 1026h6v6h-6zM1284 1032h6v6h-6zM1464 1038h6v6h-6zM1278 1044h12v6h-12zM1242 1056h6v6h-6zM1290 1056h6v6h-6zM1428 1056h6v6h-6zM1488 1056h6v6h-6zM1296 1062h6v6h-6zM1482 1068h6v6h-6zM1410 1074h6v6h-6zM1260 1086h6v6h-6zM1278 1086h6v6h-6zM1476 1086h6v6h-6zM1422 1092h6v6h-6zM1464 1092h6v6h-6zM1170 1104h6v6h-6zM1134 1158h6v6h-6zM1146 1164h6v6h-6zM1176 1314h6v6h-6z"/>
<path fill="#00ffab" d="M1404 162h6v6h-6zM1410 174h6v6h-6zM1422 174h6v6h-6zM1398 192h6v6h-6zM1422 198h6v6h-6zM1404 258h6v6h-6zM1404 264h6v6h-6zM1398 270h6v6h-6zM1416 288h6v6h-6zM1476 288h6v6h-6zM1470 300h6v6h-6zM1446 306h12v6h-12zM1476 306h6v6h-6zM1464 318h6v6h-6zM1476 330h6v6h-6zM1476 342h12v6h-12zM1488 348h6v6h-6zM1476 360h6v6h-6zM1416 408h6v6h-6zM1530 408h6v6h-6zM1218 420h6v6h-6zM1482 426h6v6h-6zM1518 426h6v6h-6zM1416 438h12v6h-12zM1434 450h6v6h-6zM1410 546h6v6h-6zM1458 582h6v6h-6zM1452 606h6v6h-6zM1494 624h6v6h-6zM1608 648h12v6h-12zM1494 660h6v6h-6zM1686 696h6v6h-6zM1524 702h6v6h-6zM1674 732h6v6h-6zM1686 732h6v6h-6zM1554 744h6v6h-6zM1668 750h6v6h-6zM1554 756h6v6h-6zM1530 762h6v6h-6zM1542 762h12v6h-12zM1542 768h6v6h-6zM1560 786h6v6h-6zM1638 786h6v6h-6zM1692 792h6v6h-6zM1518 798h6v6h-6zM1530 816h6v6h-6zM1542 816h12v6h-12zM1446 864h6v6h-6zM1512 870h6v6h-6zM1452 876h6v6h-6zM1518 876h6v6h-6zM1434 882h6v6h-6zM1482 900h6v6h-6zM1506 912h6v6h-6zM1482 924h6v6h-6zM1494 924h6v6h-6zM1290 936h6v6h-6zM1464 942h6v6h-6zM1476 960h6v6h-6zM1296 966h12v6h-12zM1542 978h6v6h-6zM1380 984h6v6h-6zM1746 984h6v6h-6zM1788 990h6v6h-6zM1464 1002h6v6h-6zM1494 1008h6v6h-6zM1482 1014h6v6h-6zM1440 1026h6v6h-6zM1464 1026h6v6h-6zM1494 1026h6v6h-6zM1422 1038h6v6h-6zM1434 1038h6v6h-6zM1416 1044h6v6h-6zM1488 1044h6v6h-6zM1500 1056h6v6h-6zM1482 1074h6v6h-6zM1500 1074h6v6h-6zM1488 1080h6v6h-6zM1416 1086h6v6h-6zM1152 1128h6v6h-6zM1152 1158h6v6h-6zM1176 1200h6v6h-6zM1176 1260h6v6h-6zM1170 1302h6v6h-6z"/>
<path fill="#00ff76" d="M1416 150h6v6h-6zM1410 228h6v6h-6zM1404 240h6v6h-6zM1434 288h6v6h-6zM1482 324h6v6h-6zM1428 342h6v6h-6zM1446 360h6v6h-6zM1488 378h6v6h-6zM1206 396h6v6h-6zM1536 408h6v6h-6zM1224 414h6v6h-6zM1476 426h6v6h-6zM1482 432h6v6h-6zM1506 438h6v6h-6zM1452 516h12v6h-12zM1398 522h6v6h-6zM1482 582h6v6h-6zM1452 588h6v6h-6zM1446 600h6v6h-6zM1494 600h6v6h-6zM1488 648h6v6h-6zM1602 648h6v6h-6zM1566 672h6v6h-6zM1560 684h6v6h-6zM1680 690h6v6h-6zM1554 702h12v6h-12zM1500 714h6v6h-6zM1548 714h12v6h-12zM1662 726h6v6h-6zM1572 732h6v6h-6zM1716 738h6v6h-6zM1530 750h6v6h-6zM1536 762h6v6h-6zM1548 768h6v6h-6zM1548 774h6v6h-6zM1464 786h6v6h-6zM1704 786h6v6h-6zM1686 798h12v6h-12zM1512 846h6v6h-6zM1518 858h6v6h-6zM1422 864h6v6h-6zM1422 870h6v6h-6zM1410 876h6v6h-6zM1422 882h6v6h-6zM1650 900h6v6h-6zM1440 906h6v6h-6zM1470 906h6v6h-6zM1482 906h6v6h-6zM1440 912h6v6h-6zM1476 912h6v6h-6zM1410 918h6v6h-6zM1404 924h6v6h-6zM1488 942h6v6h-6zM1464 948h6v6h-6zM1488 948h6v6h-6zM1500 948h6v6h-6zM1554 954h6v6h-6zM1332 960h6v6h-6zM1290 972h6v6h-6zM1296 978h12v6h-12zM1764 984h6v6h-6zM1800 990h6v6h-6zM1818 990h6v6h-6zM1284 996h6v6h-6zM1446 1014h6v6h-6zM1488 1026h6v6h-6zM1422 1032h12v6h-12zM1440 1032h12v6h-12zM1470 1032h6v6h-6zM1248 1038h6v6h-6zM1440 1038h6v6h-6zM1272 1044h6v6h-6zM1536 1050h6v6h-6zM1284 1056h6v6h-6zM1278 1062h6v6h-6zM1392 1062h6v6h-6zM1488 1062h6v6h-6zM1386 1068h6v6h-6zM1422 1080h6v6h-6zM1230 1098h6v6h-6zM1158 1122h6v6h-6zM1146 1158h6v6h-6zM1158 1164h6v6h-6zM1176 1212h6v6h-6zM1170 1296h6v6h-6z"/>
<path fill="#00ff37" d="M1344 108h6v6h-6zM1392 162h6v6h-6zM1404 168h6v6h-6zM1422 186h6v6h-6zM1446 222h6v6h-6zM1470 228h6v6h-6zM1470 306h6v6h-6zM1212 372h6v6h-6zM1458 372h6v6h-6zM1770 372h6v6h-6zM1218 390h6v6h-6zM1476 390h6v6h-6zM1224 402h6v6h-6zM1206 408h6v6h-6zM1230 414h6v6h-6zM1230 420h6v6h-6zM1422 420h6v6h-6zM1542 420h6v6h-6zM1548 504h6v6h-6zM1458 510h6v6h-6zM1536 516h6v6h-6zM1488 618h6v6h-6zM1506 648h6v6h-6zM1620 648h6v6h-6zM1662 648h6v6h-6zM1512 654h6v6h-6zM1560 678h6v6h-6zM1482 684h6v6h-6zM1554 696h6v6h-6zM1680 696h6v6h-6zM1668 726h6v6h-6zM1578 738h6v6h-6zM1692 738h12v6h-12zM1536 744h6v6h-6zM1560 744h6v6h-6zM1536 756h6v6h-6zM1668 756h12v6h-12zM1536 768h6v6h-6zM1704 768h6v6h-6zM1542 774h6v6h-6zM1464 780h6v6h-6zM1458 786h6v6h-6zM1704 792h6v6h-6zM1692 816h6v6h-6zM1452 852h6v6h-6zM1500 858h6v6h-6zM1428 864h6v6h-6zM1452 864h12v6h-12zM1500 864h6v6h-6zM1506 870h6v6h-6zM1452 882h6v6h-6zM1434 888h12v6h-12zM1476 900h6v6h-6zM1446 912h6v6h-6zM1464 918h6v6h-6zM1470 924h6v6h-6zM1488 924h6v6h-6zM1458 930h6v6h-6zM1494 930h6v6h-6zM1266 942h6v6h-6zM1452 942h6v6h-6zM1326 954h6v6h-6zM1374 960h6v6h-6zM1344 966h12v6h-12zM1278 972h6v6h-6zM1302 972h6v6h-6zM1554 978h6v6h-6zM1284 984h6v6h-6zM1746 990h6v6h-6zM1548 1002h6v6h-6zM1422 1020h6v6h-6zM1452 1020h6v6h-6zM1428 1026h12v6h-12zM1290 1032h6v6h-6zM1482 1038h12v6h-12zM1440 1044h6v6h-6zM1512 1056h6v6h-6zM1506 1068h6v6h-6zM1194 1086h6v6h-6zM1410 1092h6v6h-6zM1164 1182h6v6h-6zM1158 1188h6v6h-6zM1170 1314h6v6h-6z"/>
<path fill="#00ff02" d="M1386 150h6v6h-6zM1416 156h6v6h-6zM1416 180h6v6h-6zM1404 186h6v6h-6zM1404 192h6v6h-6zM1422 204h6v6h-6zM1458 204h6v6h-6zM1482 246h6v6h-6zM1284 258h6v6h-6zM1404 270h6v6h-6zM1488 288h6v6h-6zM1464 312h6v6h-6zM1476 324h6v6h-6zM1470 360h6v6h-6zM1764 372h6v6h-6zM1770 378h6v6h-6zM1428 384h6v6h-6zM1494 384h6v6h-6zM1464 396h6v6h-6zM1404 402h6v6h-6zM1218 414h6v6h-6zM1536 414h6v6h-6zM1548 414h6v6h-6zM1248 420h6v6h-6zM1404 420h6v6h-6zM1560 498h6v6h-6zM1464 546h6v6h-6zM1632 648h6v6h-6zM1482 672h6v6h-6zM1692 678h6v6h-6zM1560 696h6v6h-6zM1542 720h6v6h-6zM1698 732h6v6h-6zM1680 738h6v6h-6zM1716 744h6v6h-6zM1770 744h6v6h-6zM1674 750h12v6h-12zM1644 768h6v6h-6zM1476 780h6v6h-6zM1452 792h6v6h-6zM1668 798h6v6h-6zM1500 816h6v6h-6zM1650 828h12v6h-12zM1530 858h6v6h-6zM1410 864h6v6h-6zM1512 864h6v6h-6zM1512 876h6v6h-6zM1446 888h12v6h-12zM1488 888h6v6h-6zM1524 888h6v6h-6zM1410 906h6v6h-6zM1404 912h6v6h-6zM1464 912h6v6h-6zM1458 918h6v6h-6zM1440 924h6v6h-6zM1476 924h6v6h-6zM1446 930h6v6h-6zM1494 942h6v6h-6zM1548 948h6v6h-6zM1338 972h6v6h-6zM1368 972h6v6h-6zM1500 972h6v6h-6zM1374 978h6v6h-6zM1470 1008h6v6h-6zM1434 1020h6v6h-6zM1290 1026h6v6h-6zM1476 1038h6v6h-6zM1416 1050h6v6h-6zM1422 1062h6v6h-6zM1140 1152h6v6h-6zM1158 1170h6v6h-6zM1164 1176h6v6h-6zM1164 1188h6v6h-6zM1170 1236h12v6h-12zM1176 1242h6v6h-6z"/>
<path fill="#00ff00" d="M1434 204h6v6h-6zM1446 234h6v6h-6zM1488 246h6v6h-6zM1410 252h6v6h-6zM1206 258h6v6h-6zM1272 264h6v6h-6zM1338 282h6v6h-6zM1422 282h6v6h-6zM1470 318h12v6h-12zM1452 360h6v6h-6zM1446 366h6v6h-6zM1494 378h6v6h-6zM1242 390h6v6h-6zM1422 408h6v6h-6zM1242 420h6v6h-6zM1398 420h6v6h-6zM1452 420h6v6h-6zM1422 456h6v6h-6zM1422 462h6v6h-6zM1452 522h6v6h-6zM1272 546h6v6h-6zM1458 612h6v6h-6zM1470 630h6v6h-6zM1488 636h6v6h-6zM1506 636h6v6h-6zM1524 642h12v6h-12zM1494 648h6v6h-6zM1566 654h6v6h-6zM1500 660h6v6h-6zM1644 660h6v6h-6zM1518 672h6v6h-6zM1482 678h6v6h-6zM1506 684h6v6h-6zM1566 696h6v6h-6zM1566 702h6v6h-6zM1668 714h6v6h-6zM1710 720h6v6h-6zM1566 732h6v6h-6zM1710 744h6v6h-6zM1650 750h6v6h-6zM1698 750h6v6h-6zM1656 756h6v6h-6zM1680 756h6v6h-6zM1698 756h12v6h-12zM1680 774h6v6h-6zM1470 780h6v6h-6zM1482 780h6v6h-6zM1470 786h6v6h-6zM1482 786h6v6h-6zM1668 786h12v6h-12zM1638 792h6v6h-6zM1686 792h6v6h-6zM1686 810h6v6h-6zM1686 816h6v6h-6zM1554 834h6v6h-6zM1494 846h6v6h-6zM1524 846h6v6h-6zM1518 852h6v6h-6zM1422 858h6v6h-6zM1434 864h6v6h-6zM1428 870h6v6h-6zM1440 876h6v6h-6zM1452 900h6v6h-6zM1272 906h6v6h-6zM1404 918h6v6h-6zM1452 936h12v6h-12zM1554 948h12v6h-12zM1368 960h6v6h-6zM1260 966h12v6h-12zM1326 966h6v6h-6zM1548 966h6v6h-6zM1380 972h6v6h-6zM1344 978h6v6h-6zM1356 978h6v6h-6zM1260 984h6v6h-6zM1452 984h6v6h-6zM1800 984h6v6h-6zM1764 990h6v6h-6zM1794 990h6v6h-6zM1464 996h6v6h-6zM1794 996h6v6h-6zM1434 1008h6v6h-6zM1470 1014h6v6h-6zM1494 1032h6v6h-6zM1296 1038h6v6h-6zM1248 1050h6v6h-6zM1494 1056h6v6h-6zM1494 1068h6v6h-6zM1500 1080h6v6h-6zM1188 1086h6v6h-6zM1146 1146h6v6h-6zM1152 1176h6v6h-6zM1170 1194h6v6h-6z"/>
<path fill="#00ff00" d="M1410 192h6v6h-6zM1404 198h6v6h-6zM1398 204h6v6h-6zM1410 222h6v6h-6zM1452 222h6v6h-6zM1476 234h6v6h-6zM1290 264h6v6h-6zM1278 270h6v6h-6zM1482 270h12v6h-12zM1482 282h6v6h-6zM1470 330h6v6h-6zM1764 366h6v6h-6zM1752 372h6v6h-6zM1482 390h6v6h-6zM1458 396h6v6h-6zM1440 408h6v6h-6zM1236 414h6v6h-6zM1434 414h6v6h-6zM1524 414h6v6h-6zM1518 420h6v6h-6zM1554 486h6v6h-6zM1554 498h6v6h-6zM1446 510h6v6h-6zM1428 540h6v6h-6zM1560 588h6v6h-6zM1494 636h6v6h-6zM1542 636h6v6h-6zM1512 642h12v6h-12zM1596 654h6v6h-6zM1656 654h6v6h-6zM1560 660h6v6h-6zM1626 660h6v6h-6zM1506 672h6v6h-6zM1530 672h6v6h-6zM1686 672h6v6h-6zM1518 690h6v6h-6zM1692 690h6v6h-6zM1692 708h6v6h-6zM1686 720h6v6h-6zM1656 726h6v6h-6zM1674 726h6v6h-6zM1692 726h6v6h-6zM1560 732h6v6h-6zM1668 732h6v6h-6zM1566 738h6v6h-6zM1668 738h6v6h-6zM1542 750h6v6h-6zM1704 750h6v6h-6zM1452 756h6v6h-6zM1488 756h6v6h-6zM1662 756h6v6h-6zM1650 762h6v6h-6zM1476 774h6v6h-6zM1668 780h6v6h-6zM1686 780h6v6h-6zM1626 786h6v6h-6zM1554 828h6v6h-6zM1506 852h6v6h-6zM1428 858h6v6h-6zM1452 870h6v6h-6zM1494 870h6v6h-6zM1440 882h6v6h-6zM1458 888h6v6h-6zM1506 888h6v6h-6zM1500 894h6v6h-6zM1500 924h6v6h-6zM1434 930h6v6h-6zM1452 948h6v6h-6zM1458 954h6v6h-6zM1320 966h6v6h-6zM1344 972h6v6h-6zM1368 978h6v6h-6zM1758 990h6v6h-6zM1242 1020h6v6h-6zM1242 1044h6v6h-6zM1512 1062h6v6h-6zM1242 1068h6v6h-6zM1500 1068h6v6h-6zM1518 1074h6v6h-6zM1488 1092h6v6h-6zM1128 1146h6v6h-6zM1140 1146h6v6h-6zM1152 1170h6v6h-6zM1170 1254h6v6h-6zM1194 1350h6v6h-6z"/>
<path fill="#00ff00" d="M1398 162h6v6h-6zM1416 168h6v6h-6zM1398 174h6v6h-6zM1410 186h6v6h-6zM1464 192h6v6h-6zM1464 198h6v6h-6zM1470 216h6v6h-6zM1476 228h6v6h-6zM1488 252h6v6h-6zM1272 270h6v6h-6zM1332 282h6v6h-6zM1338 288h6v6h-6zM1482 294h6v6h-6zM1374 306h6v6h-6zM1506 324h6v6h-6zM1488 366h6v6h-6zM1758 372h6v6h-6zM1764 378h6v6h-6zM1470 396h18v6h-18zM1452 402h6v6h-6zM1230 408h6v6h-6zM1242 408h6v6h-6zM1458 408h6v6h-6zM1446 414h6v6h-6zM1518 414h6v6h-6zM1530 414h6v6h-6zM1404 426h6v6h-6zM1464 516h6v6h-6zM1278 534h6v6h-6zM1422 546h6v6h-6zM1434 546h6v6h-6zM1614 546h6v6h-6zM1512 648h6v6h-6zM1500 654h6v6h-6zM1542 654h6v6h-6zM1602 654h6v6h-6zM1650 654h6v6h-6zM1686 660h6v6h-6zM1494 666h6v6h-6zM1518 678h6v6h-6zM1698 696h6v6h-6zM1680 702h6v6h-6zM1692 702h6v6h-6zM1704 702h6v6h-6zM1698 708h6v6h-6zM1704 726h6v6h-6zM1476 732h6v6h-6zM1680 732h6v6h-6zM1710 738h6v6h-6zM1530 744h6v6h-6zM1536 750h6v6h-6zM1716 750h6v6h-6zM1542 756h6v6h-6zM1464 762h6v6h-6zM1716 762h6v6h-6zM1452 768h6v6h-6zM1698 780h6v6h-6zM1680 786h6v6h-6zM1686 804h6v6h-6zM1536 822h6v6h-6zM1494 840h6v6h-6zM1470 852h6v6h-6zM1512 852h6v6h-6zM1512 858h6v6h-6zM1398 864h6v6h-6zM1506 864h6v6h-6zM1446 870h6v6h-6zM1500 882h6v6h-6zM1512 882h6v6h-6zM1458 894h6v6h-6zM1644 900h6v6h-6zM1434 906h6v6h-6zM1416 930h6v6h-6zM1458 948h6v6h-6zM1350 954h6v6h-6zM1278 960h6v6h-6zM1344 960h6v6h-6zM1470 960h6v6h-6zM1356 966h6v6h-6zM1668 972h6v6h-6zM1278 984h6v6h-6zM1812 984h6v6h-6zM1470 990h6v6h-6zM1764 996h6v6h-6zM1560 1020h6v6h-6zM1236 1026h12v6h-12zM1494 1062h6v6h-6zM1638 1080h6v6h-6zM1164 1122h6v6h-6zM1146 1140h6v6h-6zM1152 1164h6v6h-6zM1176 1266h6v6h-6z"/>
<path fill="#00ff00" d="M1182 90h6v6h-6zM1350 108h6v6h-6zM1350 114h6v6h-6zM1398 168h6v6h-6zM1392 174h6v6h-6zM1416 174h6v6h-6zM1410 198h12v6h-12zM1404 204h6v6h-6zM1464 204h6v6h-6zM1404 210h6v6h-6zM1416 210h6v6h-6zM1476 270h6v6h-6zM1404 276h6v6h-6zM1476 276h6v6h-6zM1314 294h6v6h-6zM1374 300h6v6h-6zM1368 306h6v6h-6zM1488 318h6v6h-6zM1206 354h6v6h-6zM1440 366h6v6h-6zM1446 372h6v6h-6zM1488 372h6v6h-6zM1212 378h6v6h-6zM1434 384h6v6h-6zM1470 390h6v6h-6zM1218 402h6v6h-6zM1212 408h6v6h-6zM1236 408h6v6h-6zM1242 414h6v6h-6zM1416 414h6v6h-6zM1452 498h6v6h-6zM1548 510h6v6h-6zM1536 522h12v6h-12zM1596 558h6v6h-6zM1686 624h6v6h-6zM1776 624h6v6h-6zM1560 630h6v6h-6zM1524 648h6v6h-6zM1662 654h6v6h-6zM1566 660h6v6h-6zM1590 660h6v6h-6zM1554 666h6v6h-6zM1680 684h6v6h-6zM1698 702h6v6h-6zM1494 708h6v6h-6zM1674 708h12v6h-12zM1710 708h6v6h-6zM1662 720h6v6h-6zM1698 720h6v6h-6zM1470 726h6v6h-6zM1488 726h12v6h-12zM1662 738h6v6h-6zM1566 744h6v6h-6zM1692 744h6v6h-6zM1464 750h6v6h-6zM1464 756h6v6h-6zM1686 756h6v6h-6zM1440 762h6v6h-6zM1446 768h6v6h-6zM1470 768h6v6h-6zM1650 768h6v6h-6zM1698 768h6v6h-6zM1446 774h6v6h-6zM1464 774h6v6h-6zM1440 780h6v6h-6zM1452 780h6v6h-6zM1644 786h6v6h-6zM1686 786h12v6h-12zM1644 792h6v6h-6zM1698 804h6v6h-6zM1488 816h12v6h-12zM1554 816h6v6h-6zM1482 822h6v6h-6zM1524 852h6v6h-6zM1458 858h12v6h-12zM1488 858h6v6h-6zM1404 864h6v6h-6zM1440 870h6v6h-6zM1500 870h6v6h-6zM1416 876h6v6h-6zM1458 876h6v6h-6zM1416 882h6v6h-6zM1476 882h6v6h-6zM1476 888h6v6h-6zM1572 888h6v6h-6zM1464 900h6v6h-6zM1410 912h6v6h-6zM1452 912h12v6h-12zM1392 924h6v6h-6zM1452 924h12v6h-12zM1398 930h6v6h-6zM1452 930h6v6h-6zM1452 954h6v6h-6zM1548 954h6v6h-6zM1248 960h6v6h-6zM1284 960h6v6h-6zM1308 966h6v6h-6zM1368 966h6v6h-6zM1296 972h6v6h-6zM1332 972h6v6h-6zM1350 972h6v6h-6zM1314 978h6v6h-6zM1290 984h6v6h-6zM1470 984h6v6h-6zM1242 996h6v6h-6zM1248 1026h6v6h-6zM1548 1026h6v6h-6zM1242 1038h6v6h-6zM1428 1044h6v6h-6zM1518 1050h6v6h-6zM1248 1062h6v6h-6zM1524 1068h6v6h-6zM1158 1134h6v6h-6zM1176 1320h6v6h-6zM1188 1344h6v6h-6z"/>
<path fill="#00ff00" d="M1302 126h6v6h-6zM1398 132h6v6h-6zM1470 198h6v6h-6zM1434 210h6v6h-6zM1464 216h6v6h-6zM1470 246h6v6h-6zM1404 252h6v6h-6zM1482 252h6v6h-6zM1284 270h6v6h-6zM1290 282h6v6h-6zM1344 282h6v6h-6zM1482 300h6v6h-6zM1362 306h6v6h-6zM1416 306h6v6h-6zM1422 312h6v6h-6zM1500 336h6v6h-6zM1410 342h6v6h-6zM1398 390h6v6h-6zM1398 402h6v6h-6zM1524 402h6v6h-6zM1224 408h6v6h-6zM1506 408h6v6h-6zM1206 414h6v6h-6zM1416 420h6v6h-6zM1404 450h6v6h-6zM1470 492h6v6h-6zM1440 498h6v6h-6zM1446 504h18v6h-18zM1560 504h6v6h-6zM1608 528h6v6h-6zM1602 534h6v6h-6zM1278 540h6v6h-6zM1458 540h6v6h-6zM1602 546h6v6h-6zM1620 546h6v6h-6zM1278 552h6v6h-6zM1554 636h6v6h-6zM1506 642h6v6h-6zM1596 642h6v6h-6zM1626 654h6v6h-6zM1554 660h6v6h-6zM1512 666h6v6h-6zM1524 666h6v6h-6zM1512 672h6v6h-6zM1692 672h6v6h-6zM1686 690h6v6h-6zM1674 696h6v6h-6zM1704 696h6v6h-6zM1686 702h6v6h-6zM1470 708h6v6h-6zM1482 708h6v6h-6zM1668 708h6v6h-6zM1686 708h6v6h-6zM1524 714h6v6h-6zM1464 720h6v6h-6zM1500 720h6v6h-6zM1680 720h6v6h-6zM1476 726h6v6h-6zM1524 726h6v6h-6zM1662 732h6v6h-6zM1572 738h6v6h-6zM1704 738h6v6h-6zM1542 744h6v6h-6zM1470 756h6v6h-6zM1506 756h6v6h-6zM1446 762h12v6h-12zM1476 762h6v6h-6zM1662 762h6v6h-6zM1686 762h6v6h-6zM1458 768h6v6h-6zM1476 768h6v6h-6zM1452 774h12v6h-12zM1470 774h6v6h-6zM1656 774h6v6h-6zM1674 774h6v6h-6zM1686 774h6v6h-6zM1704 780h6v6h-6zM1440 786h6v6h-6zM1662 786h6v6h-6zM1662 792h6v6h-6zM1662 798h6v6h-6zM1698 810h6v6h-6zM1494 822h6v6h-6zM1542 822h6v6h-6zM1482 834h6v6h-6zM1482 840h6v6h-6zM1548 846h6v6h-6zM1416 852h6v6h-6zM1536 852h6v6h-6zM1416 870h6v6h-6zM1422 888h6v6h-6zM1482 888h6v6h-6zM1476 894h6v6h-6zM1296 936h6v6h-6zM1392 936h6v6h-6zM1410 936h6v6h-6zM1440 936h6v6h-6zM1398 942h6v6h-6zM1266 960h6v6h-6zM1248 966h6v6h-6zM1272 966h6v6h-6zM1338 966h6v6h-6zM1320 972h6v6h-6zM1326 978h6v6h-6zM1362 978h6v6h-6zM1512 978h6v6h-6zM1374 984h6v6h-6zM1548 984h6v6h-6zM1284 990h6v6h-6zM1380 990h6v6h-6zM1230 996h6v6h-6zM1242 1002h6v6h-6zM1470 1002h6v6h-6zM1458 1008h6v6h-6zM1542 1062h6v6h-6zM1278 1068h6v6h-6zM1494 1080h6v6h-6zM1662 1098h6v6h-6zM1146 1128h6v6h-6zM1128 1134h6v6h-6zM1134 1146h6v6h-6zM1146 1152h6v6h-6zM1686 1158h6v6h-6zM1164 1302h6v6h-6zM1176 1326h6v6h-6zM1182 1332h6v6h-6z"/>
<path fill="#09ff00" d="M1356 114h6v6h-6zM1380 138h6v6h-6zM1392 150h6v6h-6zM1452 210h6v6h-6zM1464 210h6v6h-6zM1410 216h6v6h-6zM1440 222h6v6h-6zM1452 228h12v6h-12zM1242 252h6v6h-6zM1200 270h6v6h-6zM1308 276h6v6h-6zM1338 276h6v6h-6zM1374 288h6v6h-6zM1386 294h6v6h-6zM1500 306h6v6h-6zM1512 306h6v6h-6zM1506 312h6v6h-6zM1440 360h6v6h-6zM1482 360h6v6h-6zM1752 366h6v6h-6zM1218 372h6v6h-6zM1398 384h6v6h-6zM1224 390h6v6h-6zM1236 396h6v6h-6zM1362 396h6v6h-6zM1434 408h6v6h-6zM1422 414h12v6h-12zM1458 414h6v6h-6zM1464 420h6v6h-6zM1476 420h6v6h-6zM1446 498h6v6h-6zM1458 498h6v6h-6zM1602 522h6v6h-6zM1596 534h6v6h-6zM1458 546h6v6h-6zM1566 588h6v6h-6zM1452 594h6v6h-6zM1560 612h6v6h-6zM1650 624h6v6h-6zM1494 642h6v6h-6zM1596 648h6v6h-6zM1554 654h12v6h-12zM1638 660h6v6h-6zM1482 714h6v6h-6zM1692 714h6v6h-6zM1710 714h6v6h-6zM1500 726h6v6h-6zM1518 726h6v6h-6zM1452 732h6v6h-6zM1560 738h6v6h-6zM1518 750h6v6h-6zM1656 750h6v6h-6zM1644 756h6v6h-6zM1668 762h18v6h-18zM1710 762h6v6h-6zM1674 780h6v6h-6zM1650 786h6v6h-6zM1758 786h6v6h-6zM1668 792h12v6h-12zM1680 798h6v6h-6zM1704 798h6v6h-6zM1482 810h6v6h-6zM1680 822h6v6h-6zM1524 840h6v6h-6zM1476 846h6v6h-6zM1506 846h6v6h-6zM1518 846h6v6h-6zM1464 852h6v6h-6zM1464 864h6v6h-6zM1446 876h6v6h-6zM1500 876h6v6h-6zM1416 888h6v6h-6zM1470 888h6v6h-6zM1482 894h6v6h-6zM1416 900h6v6h-6zM1500 900h6v6h-6zM1656 900h6v6h-6zM1266 906h6v6h-6zM1356 918h6v6h-6zM1392 930h6v6h-6zM1254 948h6v6h-6zM1260 960h6v6h-6zM1272 960h6v6h-6zM1356 960h12v6h-12zM1446 960h6v6h-6zM1554 960h6v6h-6zM1452 966h6v6h-6zM1680 966h6v6h-6zM1692 966h6v6h-6zM1314 972h6v6h-6zM1494 972h6v6h-6zM1284 978h6v6h-6zM1446 978h6v6h-6zM1548 978h6v6h-6zM1332 984h6v6h-6zM1350 984h6v6h-6zM1368 984h6v6h-6zM1542 984h6v6h-6zM1452 990h6v6h-6zM1464 990h6v6h-6zM1752 990h6v6h-6zM1248 996h6v6h-6zM1548 1032h6v6h-6zM1494 1044h6v6h-6zM1524 1050h6v6h-6zM1548 1068h6v6h-6zM1524 1074h6v6h-6zM1494 1086h6v6h-6zM1614 1110h6v6h-6zM1152 1122h6v6h-6zM1152 1182h6v6h-6zM1194 1344h6v6h-6z"/>
<path fill="#86ff00" d="M1188 90h6v6h-6zM1182 96h6v6h-6zM1176 108h6v6h-6zM1380 132h6v6h-6zM1386 138h6v6h-6zM1434 198h6v6h-6zM1458 210h6v6h-6zM1464 234h12v6h-12zM1488 240h6v6h-6zM1278 264h6v6h-6zM1296 264h6v6h-6zM1200 276h6v6h-6zM1314 282h6v6h-6zM1338 294h6v6h-6zM1368 294h6v6h-6zM1308 300h6v6h-6zM1380 300h6v6h-6zM1422 318h6v6h-6zM1488 324h6v6h-6zM1554 324h6v6h-6zM1416 330h6v6h-6zM1398 336h6v6h-6zM1386 342h6v6h-6zM1434 372h6v6h-6zM1740 372h6v6h-6zM1746 378h6v6h-6zM1464 384h6v6h-6zM1410 390h6v6h-6zM1224 396h12v6h-12zM1404 396h6v6h-6zM1212 402h6v6h-6zM1380 402h6v6h-6zM1446 402h6v6h-6zM1476 402h6v6h-6zM1254 408h6v6h-6zM1404 408h6v6h-6zM1452 408h6v6h-6zM1398 414h6v6h-6zM1230 426h6v6h-6zM1422 444h6v6h-6zM1404 456h6v6h-6zM1380 468h6v6h-6zM1422 468h6v6h-6zM1464 504h6v6h-6zM1542 516h6v6h-6zM1284 534h6v6h-6zM1284 540h6v6h-6zM1278 546h6v6h-6zM1650 546h6v6h-6zM1296 552h6v6h-6zM1296 558h6v6h-6zM1440 606h6v6h-6zM1638 624h6v6h-6zM1794 624h6v6h-6zM1524 630h6v6h-6zM1662 630h6v6h-6zM1668 636h12v6h-12zM1548 648h6v6h-6zM1632 654h6v6h-6zM1506 660h6v6h-6zM1530 660h6v6h-6zM1572 660h6v6h-6zM1650 660h6v6h-6zM1674 690h6v6h-6zM1662 696h6v6h-6zM1662 702h6v6h-6zM1494 720h6v6h-6zM1692 720h6v6h-6zM1704 720h6v6h-6zM1458 732h6v6h-6zM1488 732h6v6h-6zM1500 732h6v6h-6zM1578 732h6v6h-6zM1686 744h6v6h-6zM1482 750h6v6h-6zM1656 762h6v6h-6zM1464 768h6v6h-6zM1644 774h6v6h-6zM1656 798h6v6h-6zM1698 798h6v6h-6zM1662 816h12v6h-12zM1668 822h6v6h-6zM1686 822h12v6h-12zM1500 828h6v6h-6zM1536 828h6v6h-6zM1548 834h6v6h-6zM1488 840h6v6h-6zM1500 840h6v6h-6zM1536 846h6v6h-6zM1530 852h6v6h-6zM1398 858h6v6h-6zM1506 858h6v6h-6zM1470 864h6v6h-6zM1398 870h6v6h-6zM1410 870h6v6h-6zM1458 870h6v6h-6zM1482 870h6v6h-6zM1392 876h6v6h-6zM1506 882h6v6h-6zM1398 888h12v6h-12zM1494 888h12v6h-12zM1416 894h6v6h-6zM1428 894h6v6h-6zM1452 894h6v6h-6zM1458 900h6v6h-6zM1452 906h6v6h-6zM1434 912h6v6h-6zM1434 918h6v6h-6zM1788 918h6v6h-6zM1434 924h6v6h-6zM1440 930h6v6h-6zM1278 942h6v6h-6zM1620 942h12v6h-12zM1272 954h6v6h-6zM1374 954h6v6h-6zM1470 954h6v6h-6zM1332 966h6v6h-6zM1494 966h12v6h-12zM1554 966h6v6h-6zM1248 972h6v6h-6zM1260 972h12v6h-12zM1476 972h6v6h-6zM1248 978h6v6h-6zM1278 978h6v6h-6zM1392 984h6v6h-6zM1458 984h6v6h-6zM1272 990h6v6h-6zM1356 990h6v6h-6zM1446 990h6v6h-6zM1272 996h6v6h-6zM1470 996h6v6h-6zM1758 996h6v6h-6zM1668 1008h6v6h-6zM1392 1068h6v6h-6zM1542 1068h6v6h-6zM1146 1134h6v6h-6zM1170 1224h6v6h-6zM1176 1248h6v6h-6zM1194 1338h6v6h-6z"/>
<path fill="#c8ff00" d="M1386 120h6v6h-6zM1326 126h6v6h-6zM1404 132h6v6h-6zM1470 192h6v6h-6zM1452 198h6v6h-6zM1416 204h6v6h-6zM1446 204h6v6h-6zM1458 216h6v6h-6zM1776 228h6v6h-6zM1260 234h6v6h-6zM1398 234h6v6h-6zM1290 258h6v6h-6zM1488 264h6v6h-6zM1308 282h6v6h-6zM1308 288h6v6h-6zM1326 288h6v6h-6zM1398 288h6v6h-6zM1506 300h6v6h-6zM1380 306h6v6h-6zM1506 318h6v6h-6zM1500 330h6v6h-6zM1512 330h6v6h-6zM1212 366h6v6h-6zM1746 366h6v6h-6zM1230 378h6v6h-6zM1434 378h6v6h-6zM1500 378h6v6h-6zM1230 384h6v6h-6zM1476 384h6v6h-6zM1488 384h6v6h-6zM1248 390h6v6h-6zM1404 390h6v6h-6zM1398 396h6v6h-6zM1416 396h6v6h-6zM1434 396h6v6h-6zM1500 396h6v6h-6zM1386 402h6v6h-6zM1410 402h6v6h-6zM1422 402h6v6h-6zM1470 402h6v6h-6zM1410 408h6v6h-6zM1506 414h6v6h-6zM1386 420h6v6h-6zM1410 420h6v6h-6zM1398 426h6v6h-6zM1404 432h6v6h-6zM1722 438h6v6h-6zM1416 444h6v6h-6zM1866 456h6v6h-6zM1404 462h6v6h-6zM1464 492h6v6h-6zM1470 522h6v6h-6zM1452 528h6v6h-6zM1290 534h6v6h-6zM1626 540h6v6h-6zM1608 546h6v6h-6zM1452 552h6v6h-6zM1608 552h6v6h-6zM1560 570h6v6h-6zM1560 594h6v6h-6zM1554 624h6v6h-6zM1656 624h6v6h-6zM1548 636h6v6h-6zM1638 642h6v6h-6zM1518 648h6v6h-6zM1530 648h6v6h-6zM1542 648h6v6h-6zM1572 648h6v6h-6zM1506 654h6v6h-6zM1548 654h6v6h-6zM1524 660h6v6h-6zM1506 666h6v6h-6zM1668 666h6v6h-6zM1488 714h6v6h-6zM1686 714h6v6h-6zM1704 714h6v6h-6zM1482 726h6v6h-6zM1476 738h6v6h-6zM1488 738h6v6h-6zM1518 756h12v6h-12zM1650 756h6v6h-6zM1470 762h6v6h-6zM1656 768h6v6h-6zM1662 780h6v6h-6zM1752 792h6v6h-6zM1668 810h18v6h-18zM1704 810h6v6h-6zM1554 822h6v6h-6zM1656 822h6v6h-6zM1488 846h6v6h-6zM1434 852h6v6h-6zM1392 858h6v6h-6zM1398 876h6v6h-6zM1398 882h6v6h-6zM1488 882h6v6h-6zM1398 894h6v6h-6zM1434 894h6v6h-6zM1404 900h6v6h-6zM1440 900h6v6h-6zM1572 900h6v6h-6zM1794 918h6v6h-6zM1296 924h6v6h-6zM1290 930h6v6h-6zM1434 936h6v6h-6zM1260 948h6v6h-6zM1458 960h6v6h-6zM1224 966h6v6h-6zM1242 966h6v6h-6zM1230 972h6v6h-6zM1242 972h6v6h-6zM1326 972h6v6h-6zM1230 978h6v6h-6zM1320 978h6v6h-6zM1674 984h6v6h-6zM1230 990h6v6h-6zM1236 996h6v6h-6zM1260 996h6v6h-6zM1446 996h6v6h-6zM1554 1020h6v6h-6zM1236 1050h6v6h-6zM1194 1068h6v6h-6zM1530 1068h6v6h-6zM1494 1074h6v6h-6zM1656 1074h6v6h-6zM1266 1080h6v6h-6zM1632 1080h6v6h-6zM1638 1092h6v6h-6zM1656 1098h6v6h-6zM1902 1242h6v6h-6zM1896 1248h6v6h-6zM1176 1332h6v6h-6z"/>
<path fill="#fff500" d="M1326 114h6v6h-6zM1374 132h6v6h-6zM1392 132h6v6h-6zM1440 198h6v6h-6zM1230 258h6v6h-6zM1242 258h6v6h-6zM1296 258h6v6h-6zM1482 264h6v6h-6zM1326 282h6v6h-6zM1386 288h6v6h-6zM1296 294h6v6h-6zM1326 294h6v6h-6zM1392 300h6v6h-6zM1392 306h6v6h-6zM1500 318h6v6h-6zM1518 318h6v6h-6zM1404 330h6v6h-6zM1500 342h6v6h-6zM1218 366h6v6h-6zM1458 384h6v6h-6zM1248 396h6v6h-6zM1410 396h6v6h-6zM1416 402h6v6h-6zM1434 402h6v6h-6zM1506 402h6v6h-6zM1368 408h6v6h-6zM1398 408h6v6h-6zM1446 408h6v6h-6zM1452 414h6v6h-6zM1236 420h6v6h-6zM1374 420h6v6h-6zM1500 420h6v6h-6zM1392 426h6v6h-6zM1398 432h6v6h-6zM1410 432h12v6h-12zM1410 444h6v6h-6zM1398 450h6v6h-6zM1422 450h6v6h-6zM1386 462h6v6h-6zM1356 468h6v6h-6zM1440 468h6v6h-6zM1458 480h6v6h-6zM1446 492h6v6h-6zM1596 516h6v6h-6zM1548 528h6v6h-6zM1308 552h6v6h-6zM1602 552h6v6h-6zM1428 618h6v6h-6zM1554 630h6v6h-6zM1656 660h6v6h-6zM1536 672h6v6h-6zM1668 678h6v6h-6zM1470 720h6v6h-6zM1518 732h12v6h-12zM1680 744h6v6h-6zM1686 750h6v6h-6zM1662 774h6v6h-6zM1698 774h6v6h-6zM1692 780h6v6h-6zM1764 786h6v6h-6zM1656 792h6v6h-6zM1746 792h6v6h-6zM1674 798h6v6h-6zM1518 804h6v6h-6zM1656 816h6v6h-6zM1698 822h6v6h-6zM1548 828h6v6h-6zM1488 834h6v6h-6zM1506 840h12v6h-12zM1494 852h6v6h-6zM1476 858h6v6h-6zM1416 864h6v6h-6zM1404 882h6v6h-6zM1458 882h6v6h-6zM1470 882h6v6h-6zM1464 888h6v6h-6zM1404 894h6v6h-6zM1590 894h6v6h-6zM1410 900h6v6h-6zM1278 906h6v6h-6zM1290 912h6v6h-6zM1398 912h6v6h-6zM1398 918h6v6h-6zM1428 918h6v6h-6zM1266 924h6v6h-6zM1290 924h6v6h-6zM1362 924h6v6h-6zM1302 930h6v6h-6zM1356 930h12v6h-12zM1404 930h6v6h-6zM1356 936h6v6h-6zM1398 936h6v6h-6zM1356 942h6v6h-6zM1284 948h6v6h-6zM1248 954h6v6h-6zM1278 954h6v6h-6zM1218 966h6v6h-6zM1236 966h6v6h-6zM1698 966h6v6h-6zM1470 972h6v6h-6zM1254 978h6v6h-6zM1464 978h6v6h-6zM1674 978h6v6h-6zM1356 984h6v6h-6zM1668 984h6v6h-6zM1440 996h6v6h-6zM1242 1032h6v6h-6zM1554 1032h6v6h-6zM1548 1056h6v6h-6zM1188 1074h6v6h-6zM1146 1122h6v6h-6zM1152 1134h6v6h-6zM1182 1212h6v6h-6zM1176 1224h6v6h-6zM1890 1254h6v6h-6zM1176 1278h6v6h-6zM1188 1338h6v6h-6z"/>
<path fill="#ffcc00" d="M1188 96h6v6h-6zM1302 96h6v6h-6zM1308 102h6v6h-6zM1308 126h6v6h-6zM1410 138h6v6h-6zM1386 162h6v6h-6zM1458 198h6v6h-6zM1440 204h6v6h-6zM1452 204h6v6h-6zM1458 222h6v6h-6zM1212 270h6v6h-6zM1314 288h6v6h-6zM1302 294h6v6h-6zM1380 294h6v6h-6zM1422 300h6v6h-6zM1368 312h6v6h-6zM1500 312h6v6h-6zM1500 324h6v6h-6zM1512 324h6v6h-6zM1548 330h6v6h-6zM1380 336h6v6h-6zM1506 336h6v6h-6zM1464 360h6v6h-6zM1464 366h6v6h-6zM1740 366h6v6h-6zM1248 378h6v6h-6zM1740 378h6v6h-6zM1194 390h6v6h-6zM1488 396h6v6h-6zM1392 408h6v6h-6zM1512 408h6v6h-6zM1374 414h6v6h-6zM1404 414h12v6h-12zM1410 426h6v6h-6zM1368 444h12v6h-12zM1398 444h6v6h-6zM1704 474h6v6h-6zM1452 480h6v6h-6zM1464 498h6v6h-6zM1464 510h6v6h-6zM1428 522h6v6h-6zM1470 528h6v6h-6zM1296 534h6v6h-6zM1398 534h6v6h-6zM1608 540h6v6h-6zM1470 546h6v6h-6zM1458 552h6v6h-6zM1614 558h6v6h-6zM1650 558h6v6h-6zM1452 600h6v6h-6zM1560 624h6v6h-6zM1548 630h6v6h-6zM1656 630h6v6h-6zM1548 642h6v6h-6zM1680 642h6v6h-6zM1680 654h6v6h-6zM1530 666h6v6h-6zM1680 672h6v6h-6zM1680 678h6v6h-6zM1518 684h6v6h-6zM1674 702h6v6h-6zM1662 714h6v6h-6zM1482 720h6v6h-6zM1464 726h6v6h-6zM1470 732h6v6h-6zM1494 732h6v6h-6zM1548 732h6v6h-6zM1512 744h12v6h-12zM1704 744h6v6h-6zM1692 750h6v6h-6zM1680 768h12v6h-12zM1692 774h6v6h-6zM1764 774h6v6h-6zM1752 786h6v6h-6zM1482 804h6v6h-6zM1680 816h6v6h-6zM1482 828h6v6h-6zM1542 840h12v6h-12zM1482 852h6v6h-6zM1434 858h6v6h-6zM1470 858h6v6h-6zM1476 864h6v6h-6zM1392 870h6v6h-6zM1464 870h6v6h-6zM1488 870h6v6h-6zM1470 876h6v6h-6zM1410 888h6v6h-6zM1464 894h6v6h-6zM1296 912h12v6h-12zM1782 912h6v6h-6zM1560 930h6v6h-6zM1698 936h6v6h-6zM1302 942h6v6h-6zM1272 948h6v6h-6zM1290 954h6v6h-6zM1368 954h6v6h-6zM1680 972h6v6h-6zM1752 984h6v6h-6zM1224 990h6v6h-6zM1272 1002h6v6h-6zM1560 1032h6v6h-6zM1242 1050h6v6h-6zM1518 1056h6v6h-6zM1560 1056h6v6h-6zM1524 1062h6v6h-6zM1272 1074h6v6h-6zM1614 1116h6v6h-6zM1170 1260h6v6h-6zM1176 1272h6v6h-6z"/>
<path fill="#ffa800" d="M1302 102h6v6h-6zM1176 120h6v6h-6zM1320 126h6v6h-6zM1386 132h6v6h-6zM1344 138h6v6h-6zM1398 144h6v6h-6zM1452 192h6v6h-6zM1206 204h6v6h-6zM1464 228h6v6h-6zM1248 234h6v6h-6zM1476 240h6v6h-6zM1236 258h6v6h-6zM1290 288h6v6h-6zM1332 288h6v6h-6zM1320 294h6v6h-6zM1398 294h6v6h-6zM1422 294h6v6h-6zM1476 294h6v6h-6zM1512 312h6v6h-6zM1554 318h6v6h-6zM1374 330h12v6h-12zM1386 336h6v6h-6zM1398 342h6v6h-6zM1224 354h6v6h-6zM1500 372h6v6h-6zM1746 372h6v6h-6zM1470 378h6v6h-6zM1236 384h12v6h-12zM1470 384h6v6h-6zM1242 396h6v6h-6zM1380 414h6v6h-6zM1392 420h6v6h-6zM1410 438h6v6h-6zM1716 438h6v6h-6zM1374 450h6v6h-6zM1416 450h6v6h-6zM1380 456h6v6h-6zM1374 462h12v6h-12zM1392 462h6v6h-6zM1452 534h6v6h-6zM1590 534h6v6h-6zM1296 540h6v6h-6zM1470 540h6v6h-6zM1620 540h6v6h-6zM1284 552h6v6h-6zM1644 552h6v6h-6zM1272 558h6v6h-6zM1464 558h6v6h-6zM1350 582h6v6h-6zM1368 582h6v6h-6zM1554 600h6v6h-6zM1554 618h6v6h-6zM1530 636h6v6h-6zM1692 642h6v6h-6zM1536 648h6v6h-6zM1674 654h6v6h-6zM1518 660h6v6h-6zM1542 666h6v6h-6zM1674 666h6v6h-6zM1668 672h6v6h-6zM1668 696h6v6h-6zM1470 714h6v6h-6zM1512 720h6v6h-6zM1470 744h6v6h-6zM1512 750h6v6h-6zM1692 756h6v6h-6zM1692 762h6v6h-6zM1482 792h6v6h-6zM1518 816h6v6h-6zM1674 816h6v6h-6zM1488 822h6v6h-6zM1500 822h6v6h-6zM1548 822h6v6h-6zM1524 828h6v6h-6zM1506 834h6v6h-6zM1530 834h6v6h-6zM1482 846h6v6h-6zM1470 870h6v6h-6zM1464 876h6v6h-6zM1488 876h6v6h-6zM1392 900h6v6h-6zM1446 900h6v6h-6zM1404 906h6v6h-6zM1416 906h6v6h-6zM1422 912h6v6h-6zM1284 918h6v6h-6zM1302 918h6v6h-6zM1362 918h6v6h-6zM1380 918h6v6h-6zM1386 924h6v6h-6zM1422 930h6v6h-6zM1614 930h6v6h-6zM1266 954h6v6h-6zM1440 966h6v6h-6zM1470 966h6v6h-6zM1542 966h6v6h-6zM1218 972h6v6h-6zM1236 972h6v6h-6zM1254 972h6v6h-6zM1356 972h6v6h-6zM1440 972h12v6h-12zM1260 978h6v6h-6zM1350 978h6v6h-6zM1548 990h6v6h-6zM1458 996h6v6h-6zM1674 996h6v6h-6zM1458 1002h6v6h-6zM1236 1044h6v6h-6zM1266 1062h6v6h-6zM1554 1062h6v6h-6zM1194 1074h6v6h-6zM1140 1140h6v6h-6zM1908 1260h6v6h-6zM1902 1284h6v6h-6zM1206 1362h6v6h-6z"/>
<path fill="#ff8600" d="M1296 90h6v6h-6zM1308 96h12v6h-12zM1392 126h6v6h-6zM1356 132h6v6h-6zM1392 138h6v6h-6zM1386 144h6v6h-6zM1458 192h6v6h-6zM1446 198h6v6h-6zM1338 204h6v6h-6zM1206 210h6v6h-6zM1446 210h6v6h-6zM1230 264h12v6h-12zM1206 270h6v6h-6zM1284 276h6v6h-6zM1296 282h6v6h-6zM1296 288h6v6h-6zM1308 294h6v6h-6zM1374 294h6v6h-6zM1314 300h6v6h-6zM1386 300h6v6h-6zM1410 306h6v6h-6zM1374 312h6v6h-6zM1416 312h6v6h-6zM1518 312h12v6h-12zM1368 318h6v6h-6zM1518 324h6v6h-6zM1536 330h6v6h-6zM1410 336h6v6h-6zM1548 336h6v6h-6zM1230 354h6v6h-6zM1482 366h6v6h-6zM1236 372h6v6h-6zM1422 378h6v6h-6zM1188 384h12v6h-12zM1224 384h6v6h-6zM1494 390h12v6h-12zM1188 396h6v6h-6zM1482 402h6v6h-6zM1380 408h12v6h-12zM1494 408h6v6h-6zM1494 414h6v6h-6zM1380 420h6v6h-6zM1434 420h6v6h-6zM1446 420h6v6h-6zM1368 426h6v6h-6zM1380 450h6v6h-6zM1704 468h6v6h-6zM1422 522h6v6h-6zM1404 528h6v6h-6zM1620 534h6v6h-6zM1284 546h6v6h-6zM1302 552h6v6h-6zM1398 558h6v6h-6zM1560 564h6v6h-6zM1350 576h6v6h-6zM1356 582h12v6h-12zM1650 630h6v6h-6zM1650 636h6v6h-6zM1536 642h12v6h-12zM1518 654h6v6h-6zM1578 660h6v6h-6zM1668 660h6v6h-6zM1680 666h6v6h-6zM1680 714h6v6h-6zM1698 714h6v6h-6zM1764 726h6v6h-6zM1776 732h6v6h-6zM1458 738h6v6h-6zM1470 738h6v6h-6zM1536 738h6v6h-6zM1788 738h6v6h-6zM1476 744h6v6h-6zM1710 756h6v6h-6zM1734 762h6v6h-6zM1668 768h6v6h-6zM1650 774h6v6h-6zM1488 798h6v6h-6zM1668 804h6v6h-6zM1488 828h6v6h-6zM1494 834h6v6h-6zM1530 840h12v6h-12zM1494 864h6v6h-6zM1284 900h6v6h-6zM1398 900h6v6h-6zM1458 906h6v6h-6zM1272 912h6v6h-6zM1560 912h6v6h-6zM1788 912h6v6h-6zM1296 918h6v6h-6zM1422 918h6v6h-6zM1284 924h6v6h-6zM1428 924h6v6h-6zM1428 930h6v6h-6zM1380 936h6v6h-6zM1362 954h6v6h-6zM1440 954h6v6h-6zM1494 960h6v6h-6zM1272 972h6v6h-6zM1458 972h6v6h-6zM1686 972h6v6h-6zM1158 978h6v6h-6zM1158 984h6v6h-6zM1272 984h6v6h-6zM1236 990h6v6h-6zM1368 990h6v6h-6zM1440 990h6v6h-6zM1554 990h6v6h-6zM1434 996h6v6h-6zM1452 996h6v6h-6zM1452 1002h6v6h-6zM1266 1008h6v6h-6zM1554 1026h6v6h-6zM1518 1044h6v6h-6zM1272 1062h6v6h-6zM1266 1068h6v6h-6zM1266 1074h6v6h-6zM1140 1128h6v6h-6z"/>
<path fill="#ff6300" d="M1374 120h6v6h-6zM1176 132h6v6h-6zM1326 132h6v6h-6zM1182 138h6v6h-6zM1404 144h6v6h-6zM1332 192h6v6h-6zM1332 198h12v6h-12zM1332 204h6v6h-6zM1200 210h6v6h-6zM1446 216h12v6h-12zM1770 228h6v6h-6zM1260 240h6v6h-6zM1410 276h6v6h-6zM1320 288h6v6h-6zM1332 294h6v6h-6zM1404 294h6v6h-6zM1548 312h6v6h-6zM1530 318h6v6h-6zM1422 330h6v6h-6zM1506 330h6v6h-6zM1518 330h6v6h-6zM1212 354h6v6h-6zM1242 366h6v6h-6zM1476 366h6v6h-6zM1476 372h6v6h-6zM1242 378h6v6h-6zM1218 384h6v6h-6zM1254 384h6v6h-6zM1482 384h6v6h-6zM1230 390h6v6h-6zM1386 390h6v6h-6zM1386 396h6v6h-6zM1230 402h6v6h-6zM1488 402h6v6h-6zM1476 408h6v6h-6zM1464 414h6v6h-6zM1404 444h6v6h-6zM1704 480h6v6h-6zM1446 486h12v6h-12zM1464 486h6v6h-6zM1620 522h6v6h-6zM1428 528h6v6h-6zM1452 540h6v6h-6zM1296 546h6v6h-6zM1290 552h6v6h-6zM1470 564h6v6h-6zM1356 576h6v6h-6zM1704 600h6v6h-6zM1794 606h6v6h-6zM1662 618h6v6h-6zM1680 636h6v6h-6zM1662 642h6v6h-6zM1686 642h6v6h-6zM1668 648h6v6h-6zM1662 660h6v6h-6zM1518 666h6v6h-6zM1506 720h6v6h-6zM1518 720h6v6h-6zM1446 726h6v6h-6zM1536 732h12v6h-12zM1770 732h6v6h-6zM1494 738h12v6h-12zM1512 738h6v6h-6zM1554 738h6v6h-6zM1470 750h6v6h-6zM1500 756h6v6h-6zM1722 762h6v6h-6zM1656 780h6v6h-6zM1764 780h6v6h-6zM1746 786h6v6h-6zM1494 792h6v6h-6zM1680 792h6v6h-6zM1530 822h6v6h-6zM1518 840h6v6h-6zM1476 852h6v6h-6zM1488 852h6v6h-6zM1242 858h6v6h-6zM1482 864h6v6h-6zM1410 894h6v6h-6zM1422 900h6v6h-6zM1428 906h6v6h-6zM1560 906h6v6h-6zM1416 912h6v6h-6zM1290 918h6v6h-6zM1416 918h6v6h-6zM1620 918h6v6h-6zM1632 924h6v6h-6zM1386 930h6v6h-6zM1566 936h6v6h-6zM1272 942h6v6h-6zM1392 942h6v6h-6zM1362 948h6v6h-6zM1392 948h6v6h-6zM1380 954h6v6h-6zM1236 960h12v6h-12zM1464 960h6v6h-6zM1458 978h6v6h-6zM1668 978h6v6h-6zM1230 984h12v6h-12zM1254 984h6v6h-6zM1440 984h6v6h-6zM1434 1002h12v6h-12zM1440 1014h6v6h-6zM1524 1056h6v6h-6zM1260 1062h6v6h-6zM1536 1062h6v6h-6zM1536 1068h6v6h-6zM1554 1068h6v6h-6zM1530 1074h6v6h-6zM1902 1266h6v6h-6zM1200 1356h6v6h-6z"/>
<path fill="#ff3900" d="M1182 102h6v6h-6zM1182 120h6v6h-6zM1344 120h6v6h-6zM1356 126h6v6h-6zM1368 126h6v6h-6zM1380 126h6v6h-6zM1182 132h6v6h-6zM1368 132h6v6h-6zM1368 138h6v6h-6zM1338 192h6v6h-6zM1182 198h6v6h-6zM1200 216h6v6h-6zM1248 228h6v6h-6zM1224 264h6v6h-6zM1206 276h6v6h-6zM1404 300h6v6h-6zM1368 324h6v6h-6zM1524 324h6v6h-6zM1548 324h6v6h-6zM1218 354h6v6h-6zM1242 372h12v6h-12zM1218 378h6v6h-6zM1182 396h6v6h-6zM1374 402h6v6h-6zM1494 402h6v6h-6zM1500 408h6v6h-6zM1476 414h6v6h-6zM1500 414h6v6h-6zM1386 426h6v6h-6zM1368 450h6v6h-6zM1392 450h6v6h-6zM1362 456h12v6h-12zM1710 480h6v6h-6zM1302 534h6v6h-6zM1302 558h6v6h-6zM1662 624h6v6h-6zM1578 648h6v6h-6zM1680 660h6v6h-6zM1458 720h6v6h-6zM1506 732h6v6h-6zM1494 744h6v6h-6zM1734 756h12v6h-12zM1752 780h6v6h-6zM1506 786h6v6h-6zM1656 786h6v6h-6zM1746 798h6v6h-6zM1500 804h6v6h-6zM1656 804h6v6h-6zM1674 804h6v6h-6zM1662 810h6v6h-6zM1674 822h6v6h-6zM1506 828h18v6h-18zM1542 828h6v6h-6zM1536 834h6v6h-6zM1242 852h6v6h-6zM1404 870h6v6h-6zM1476 876h6v6h-6zM1464 882h6v6h-6zM1482 882h6v6h-6zM1440 894h6v6h-6zM1284 906h6v6h-6zM1398 906h6v6h-6zM1422 906h6v6h-6zM1644 906h6v6h-6zM1764 906h6v6h-6zM1428 912h6v6h-6zM1410 924h6v6h-6zM1380 930h6v6h-6zM1410 930h6v6h-6zM1566 930h6v6h-6zM1230 936h6v6h-6zM1206 942h12v6h-12zM1386 954h6v6h-6zM1434 954h6v6h-6zM1242 978h6v6h-6zM1266 978h6v6h-6zM1446 984h6v6h-6zM1254 990h12v6h-12zM1254 996h6v6h-6zM1452 1008h6v6h-6zM1296 1044h6v6h-6zM1254 1056h6v6h-6zM1266 1056h6v6h-6zM1548 1062h6v6h-6zM1248 1068h6v6h-6zM1260 1068h6v6h-6zM1548 1074h6v6h-6zM1626 1086h6v6h-6zM1134 1128h6v6h-6zM1890 1260h6v6h-6z"/>
<path fill="#ff0d00" d="M1320 90h6v6h-6zM1182 114h12v6h-12zM1182 126h6v6h-6zM1386 126h6v6h-6zM1362 132h6v6h-6zM1236 180h6v6h-6zM1176 198h6v6h-6zM1188 198h12v6h-12zM1206 216h6v6h-6zM1272 216h6v6h-6zM1560 216h6v6h-6zM1572 216h6v6h-6zM1464 222h6v6h-6zM1260 228h6v6h-6zM1284 228h6v6h-6zM1224 258h6v6h-6zM1380 264h6v6h-6zM1356 276h6v6h-6zM1356 282h12v6h-12zM1404 282h6v6h-6zM1416 300h6v6h-6zM1386 306h6v6h-6zM1542 312h6v6h-6zM1530 324h6v6h-6zM1524 330h6v6h-6zM1416 336h6v6h-6zM1530 336h6v6h-6zM1242 348h6v6h-6zM1470 354h6v6h-6zM1470 366h6v6h-6zM1230 372h6v6h-6zM1476 378h12v6h-12zM1416 390h6v6h-6zM1494 396h6v6h-6zM1392 402h6v6h-6zM1500 402h6v6h-6zM1362 408h6v6h-6zM1374 408h6v6h-6zM1464 408h6v6h-6zM1470 414h6v6h-6zM1392 432h6v6h-6zM1398 438h6v6h-6zM1206 444h6v6h-6zM1356 444h6v6h-6zM1458 486h6v6h-6zM1698 486h6v6h-6zM1440 492h6v6h-6zM1614 522h6v6h-6zM1584 546h6v6h-6zM1584 582h6v6h-6zM1668 618h12v6h-12zM1644 630h6v6h-6zM1536 654h6v6h-6zM1668 654h6v6h-6zM1536 660h12v6h-12zM1674 678h6v6h-6zM1668 684h6v6h-6zM1668 690h6v6h-6zM1452 726h6v6h-6zM1512 732h6v6h-6zM1530 732h6v6h-6zM1788 732h6v6h-6zM1488 750h6v6h-6zM1674 768h6v6h-6zM1692 768h6v6h-6zM1650 780h6v6h-6zM1500 798h6v6h-6zM1662 804h6v6h-6zM1512 822h12v6h-12zM1662 822h6v6h-6zM1410 828h6v6h-6zM1518 834h6v6h-6zM1668 858h6v6h-6zM1668 864h6v6h-6zM1494 876h6v6h-6zM1494 882h6v6h-6zM1434 900h6v6h-6zM1296 906h6v6h-6zM1626 906h6v6h-6zM1356 924h6v6h-6zM1422 924h6v6h-6zM1212 930h12v6h-12zM1230 930h6v6h-6zM1368 930h12v6h-12zM1206 936h6v6h-6zM1218 936h6v6h-6zM1362 936h6v6h-6zM1374 936h6v6h-6zM1194 942h6v6h-6zM1230 942h6v6h-6zM1236 948h6v6h-6zM1266 948h6v6h-6zM1254 954h6v6h-6zM1458 966h6v6h-6zM1710 966h6v6h-6zM1452 972h6v6h-6zM1224 978h6v6h-6zM1236 978h6v6h-6zM1440 978h6v6h-6zM1242 990h6v6h-6zM1254 1044h6v6h-6zM1266 1050h6v6h-6zM1260 1074h6v6h-6zM1638 1074h6v6h-6zM1278 1092h6v6h-6zM1140 1134h6v6h-6zM1212 1356h6v6h-6z"/>
<path fill="#ff0000" d="M1320 96h6v6h-6zM1356 120h6v6h-6zM1188 126h6v6h-6zM1362 126h6v6h-6zM1350 132h6v6h-6zM1200 144h6v6h-6zM1422 150h6v6h-6zM1200 156h6v6h-6zM1422 156h6v6h-6zM1230 174h6v6h-6zM1224 180h6v6h-6zM1524 180h6v6h-6zM1530 186h6v6h-6zM1188 192h12v6h-12zM1836 198h6v6h-6zM1176 204h12v6h-12zM1554 210h6v6h-6zM1440 216h6v6h-6zM1554 216h6v6h-6zM1248 222h6v6h-6zM1554 222h6v6h-6zM1254 228h6v6h-6zM1560 228h6v6h-6zM1326 234h6v6h-6zM1374 252h6v6h-6zM1362 258h18v6h-18zM1362 264h6v6h-6zM1374 264h6v6h-6zM1410 288h6v6h-6zM1386 312h6v6h-6zM1410 312h6v6h-6zM1386 330h6v6h-6zM1428 336h6v6h-6zM1224 360h12v6h-12zM1224 366h6v6h-6zM1494 372h6v6h-6zM1386 378h6v6h-6zM1488 390h6v6h-6zM1146 396h6v6h-6zM1368 396h6v6h-6zM1392 414h6v6h-6zM1368 420h6v6h-6zM1374 426h6v6h-6zM1212 444h6v6h-6zM1386 444h12v6h-12zM1374 456h6v6h-6zM1860 456h6v6h-6zM1308 480h6v6h-6zM1422 480h6v6h-6zM1314 486h6v6h-6zM1704 486h6v6h-6zM1314 510h6v6h-6zM1326 510h6v6h-6zM1470 510h6v6h-6zM1650 510h6v6h-6zM1284 522h6v6h-6zM1338 528h6v6h-6zM1356 534h6v6h-6zM1416 534h6v6h-6zM1428 534h6v6h-6zM1338 540h6v6h-6zM1416 540h6v6h-6zM1350 546h6v6h-6zM1404 546h6v6h-6zM1638 552h6v6h-6zM1596 576h6v6h-6zM1386 600h6v6h-6zM1554 642h12v6h-12zM1782 732h6v6h-6zM1698 762h12v6h-12zM1788 792h6v6h-6zM1506 804h6v6h-6zM1260 816h6v6h-6zM1404 834h6v6h-6zM1524 834h6v6h-6zM1542 852h6v6h-6zM1392 864h6v6h-6zM1620 870h6v6h-6zM1668 870h6v6h-6zM1482 876h6v6h-6zM1602 876h6v6h-6zM1608 882h6v6h-6zM1650 882h6v6h-6zM1332 888h6v6h-6zM1638 912h6v6h-6zM1206 924h6v6h-6zM1224 924h12v6h-12zM1584 924h6v6h-6zM1206 930h6v6h-6zM1224 930h6v6h-6zM1212 936h6v6h-6zM1284 936h6v6h-6zM1632 936h6v6h-6zM1218 942h6v6h-6zM1368 942h6v6h-6zM1554 942h6v6h-6zM1242 948h12v6h-12zM1356 948h6v6h-6zM1440 960h6v6h-6zM1464 966h6v6h-6zM1704 972h6v6h-6zM1452 978h6v6h-6zM1680 978h6v6h-6zM1242 984h12v6h-12zM1680 990h6v6h-6zM1596 1002h6v6h-6zM1260 1050h6v6h-6zM1248 1056h6v6h-6zM1620 1068h6v6h-6zM1200 1074h6v6h-6zM1254 1074h6v6h-6zM1170 1272h6v6h-6zM1182 1338h6v6h-6z"/>
<path fill="#ff0000" d="M1176 114h6v6h-6zM1350 120h6v6h-6zM1362 150h6v6h-6zM1206 156h6v6h-6zM1218 162h6v6h-6zM1266 162h6v6h-6zM1212 168h6v6h-6zM1518 180h6v6h-6zM1530 180h6v6h-6zM1254 186h6v6h-6zM1278 186h18v6h-18zM1368 186h6v6h-6zM1524 186h6v6h-6zM1254 192h6v6h-6zM1290 192h6v6h-6zM1524 192h6v6h-6zM1188 204h6v6h-6zM1266 216h6v6h-6zM1314 216h12v6h-12zM1566 216h6v6h-6zM1254 222h6v6h-6zM1314 222h6v6h-6zM1542 222h6v6h-6zM1566 222h6v6h-6zM1308 234h6v6h-6zM1746 234h6v6h-6zM1758 234h6v6h-6zM1314 240h6v6h-6zM1746 240h6v6h-6zM1764 240h6v6h-6zM1230 252h6v6h-6zM1260 252h24v6h-24zM1362 252h6v6h-6zM1488 258h6v6h-6zM1368 264h6v6h-6zM1416 294h6v6h-6zM1302 300h6v6h-6zM1530 312h6v6h-6zM1392 318h6v6h-6zM1542 318h12v6h-12zM1236 378h6v6h-6zM1422 384h6v6h-6zM1368 390h6v6h-6zM1380 390h6v6h-6zM1428 402h6v6h-6zM1470 408h6v6h-6zM1482 408h12v6h-12zM1128 414h6v6h-6zM1782 420h6v6h-6zM1680 426h6v6h-6zM1386 432h6v6h-6zM1356 438h6v6h-6zM1386 438h6v6h-6zM1326 450h6v6h-6zM1710 456h6v6h-6zM1308 462h6v6h-6zM1710 468h6v6h-6zM1716 474h6v6h-6zM1314 480h6v6h-6zM1668 498h6v6h-6zM1650 504h6v6h-6zM1662 504h6v6h-6zM1296 510h6v6h-6zM1656 510h6v6h-6zM1410 528h12v6h-12zM1434 528h6v6h-6zM1620 528h6v6h-6zM1344 534h6v6h-6zM1314 540h6v6h-6zM1698 612h6v6h-6zM1812 612h6v6h-6zM1674 624h6v6h-6zM1770 636h6v6h-6zM1410 642h6v6h-6zM1656 642h6v6h-6zM1524 654h6v6h-6zM1536 666h6v6h-6zM1674 672h6v6h-6zM1710 696h6v6h-6zM1446 720h6v6h-6zM1542 738h6v6h-6zM1482 744h6v6h-6zM1476 750h6v6h-6zM1614 780h6v6h-6zM1356 792h6v6h-6zM1512 798h6v6h-6zM1656 810h6v6h-6zM1410 816h6v6h-6zM1410 822h6v6h-6zM1596 828h6v6h-6zM1596 840h6v6h-6zM1620 840h6v6h-6zM1650 870h6v6h-6zM1614 876h6v6h-6zM1326 888h6v6h-6zM1602 888h12v6h-12zM1638 888h6v6h-6zM1650 888h6v6h-6zM1296 900h6v6h-6zM1272 918h6v6h-6zM1374 918h6v6h-6zM1626 918h6v6h-6zM1212 924h12v6h-12zM1644 924h6v6h-6zM1584 930h6v6h-6zM1596 930h6v6h-6zM1242 936h6v6h-6zM1638 936h6v6h-6zM1242 942h6v6h-6zM1254 942h6v6h-6zM1362 942h6v6h-6zM1212 948h6v6h-6zM1368 948h6v6h-6zM1380 948h6v6h-6zM1620 948h6v6h-6zM1242 954h6v6h-6zM1434 966h6v6h-6zM1590 996h6v6h-6zM1200 1038h6v6h-6zM1698 1038h6v6h-6zM1260 1044h6v6h-6zM1272 1050h6v6h-6zM1644 1050h6v6h-6zM1254 1062h6v6h-6zM1626 1080h6v6h-6zM1620 1086h6v6h-6zM1890 1278h6v6h-6zM1176 1344h6v6h-6z"/>
<path fill="#ff0000" d="M1140 102h18v6h-18zM1182 108h6v6h-6zM1146 120h6v6h-6zM1362 120h6v6h-6zM1332 126h6v6h-6zM1344 126h12v6h-12zM1374 126h6v6h-6zM1188 144h6v6h-6zM1200 150h6v6h-6zM1212 150h6v6h-6zM1266 156h6v6h-6zM1206 162h6v6h-6zM1260 162h6v6h-6zM1392 168h6v6h-6zM1218 174h12v6h-12zM1332 174h6v6h-6zM1260 186h6v6h-6zM1272 186h6v6h-6zM1296 186h6v6h-6zM1296 192h6v6h-6zM1446 192h6v6h-6zM1518 192h6v6h-6zM1236 198h6v6h-6zM1242 204h6v6h-6zM1170 210h6v6h-6zM1320 210h6v6h-6zM1248 216h6v6h-6zM1326 216h6v6h-6zM1548 222h6v6h-6zM1560 222h6v6h-6zM1278 234h6v6h-6zM1314 234h6v6h-6zM1266 240h12v6h-12zM1758 240h6v6h-6zM1764 246h6v6h-6zM1404 288h6v6h-6zM1176 294h6v6h-6zM1542 294h6v6h-6zM1398 306h6v6h-6zM1680 306h6v6h-6zM1536 312h6v6h-6zM1404 318h12v6h-12zM1404 324h6v6h-6zM1416 324h6v6h-6zM1368 330h6v6h-6zM1236 354h6v6h-6zM1506 360h6v6h-6zM1470 372h6v6h-6zM1428 378h6v6h-6zM1422 390h6v6h-6zM1152 396h6v6h-6zM1380 396h6v6h-6zM1176 402h6v6h-6zM1482 414h6v6h-6zM1788 420h6v6h-6zM1374 432h6v6h-6zM1362 438h12v6h-12zM1392 438h6v6h-6zM1404 438h6v6h-6zM1320 450h6v6h-6zM1386 450h6v6h-6zM1740 456h6v6h-6zM1302 468h6v6h-6zM1728 468h6v6h-6zM1308 474h6v6h-6zM1428 474h6v6h-6zM1308 486h6v6h-6zM1716 486h6v6h-6zM1284 516h6v6h-6zM1302 516h6v6h-6zM1326 516h6v6h-6zM1644 516h12v6h-12zM1314 522h6v6h-6zM1326 522h6v6h-6zM1422 528h6v6h-6zM1368 534h6v6h-6zM1392 534h6v6h-6zM1410 534h6v6h-6zM1236 546h6v6h-6zM1698 600h6v6h-6zM1800 612h6v6h-6zM1818 612h6v6h-6zM1644 636h6v6h-6zM1650 642h6v6h-6zM1530 654h6v6h-6zM1512 660h6v6h-6zM1764 696h6v6h-6zM1734 732h6v6h-6zM1530 738h6v6h-6zM1548 738h6v6h-6zM1416 762h6v6h-6zM1356 786h6v6h-6zM1506 816h6v6h-6zM1530 828h6v6h-6zM1416 834h6v6h-6zM1620 834h6v6h-6zM1626 840h6v6h-6zM1650 840h6v6h-6zM1614 846h6v6h-6zM1626 846h6v6h-6zM1596 852h6v6h-6zM1656 852h6v6h-6zM1632 864h6v6h-6zM1650 864h6v6h-6zM1476 870h6v6h-6zM1602 870h6v6h-6zM1644 870h6v6h-6zM1338 888h6v6h-6zM1326 894h6v6h-6zM1602 894h6v6h-6zM1596 906h6v6h-6zM1596 912h6v6h-6zM1620 912h6v6h-6zM1644 918h6v6h-6zM1626 930h6v6h-6zM1248 936h12v6h-12zM1368 936h6v6h-6zM1386 936h6v6h-6zM1632 948h6v6h-6zM1476 966h6v6h-6zM1686 978h6v6h-6zM1704 984h6v6h-6zM1596 996h12v6h-12zM1446 1008h6v6h-6zM1692 1032h6v6h-6zM1206 1038h6v6h-6zM1266 1044h6v6h-6zM1656 1050h6v6h-6zM1620 1080h6v6h-6zM1134 1134h6v6h-6zM1908 1278h6v6h-6z"/>
<path fill="#ff0000" d="M1242 114h6v6h-6zM1254 114h6v6h-6zM1338 120h6v6h-6zM1230 126h6v6h-6zM1362 138h6v6h-6zM1260 156h6v6h-6zM1272 162h6v6h-6zM1206 168h6v6h-6zM1890 180h6v6h-6zM1518 186h6v6h-6zM1272 192h12v6h-12zM1242 198h6v6h-6zM1170 204h6v6h-6zM1836 204h6v6h-6zM1248 210h6v6h-6zM1260 216h6v6h-6zM1266 222h6v6h-6zM1266 228h6v6h-6zM1308 228h12v6h-12zM1266 234h12v6h-12zM1320 234h6v6h-6zM1170 240h6v6h-6zM1278 240h6v6h-6zM1746 246h6v6h-6zM1758 246h6v6h-6zM1356 264h6v6h-6zM1392 312h6v6h-6zM1542 324h6v6h-6zM1530 330h6v6h-6zM1236 366h6v6h-6zM1224 372h6v6h-6zM1176 396h6v6h-6zM1488 414h6v6h-6zM1380 426h6v6h-6zM1374 438h6v6h-6zM1320 444h6v6h-6zM1380 444h6v6h-6zM1302 462h6v6h-6zM1356 462h6v6h-6zM1734 462h12v6h-12zM1716 468h6v6h-6zM1314 474h6v6h-6zM1434 474h6v6h-6zM1440 480h6v6h-6zM1440 486h6v6h-6zM1704 504h6v6h-6zM1350 552h6v6h-6zM1380 606h6v6h-6zM1386 612h6v6h-6zM1668 624h6v6h-6zM1554 648h6v6h-6zM1680 828h6v6h-6zM1422 840h6v6h-6zM1614 852h6v6h-6zM1602 858h6v6h-6zM1614 864h6v6h-6zM1626 864h6v6h-6zM1638 864h12v6h-12zM1332 894h6v6h-6zM1614 900h6v6h-6zM1632 912h6v6h-6zM1272 924h6v6h-6zM1620 924h6v6h-6zM1620 930h6v6h-6zM1584 936h6v6h-6zM1188 942h6v6h-6zM1374 942h6v6h-6zM1386 948h6v6h-6zM1446 966h6v6h-6zM1710 972h6v6h-6zM1812 972h6v6h-6zM1692 984h6v6h-6zM1248 990h6v6h-6zM1446 1002h6v6h-6zM1680 1002h6v6h-6zM1692 1026h6v6h-6zM1200 1032h12v6h-12zM1620 1032h6v6h-6zM1698 1032h6v6h-6zM1278 1050h6v6h-6zM1272 1056h12v6h-12zM1254 1068h6v6h-6zM1896 1260h6v6h-6zM1908 1266h6v6h-6z"/>
<path fill="#ff0000" d="M1248 114h6v6h-6zM1224 126h6v6h-6zM1338 126h6v6h-6zM1248 198h6v6h-6zM1542 216h6v6h-6zM1320 222h12v6h-12zM1356 258h6v6h-6zM1482 258h6v6h-6zM1536 294h6v6h-6zM1410 300h6v6h-6zM1398 318h6v6h-6zM1398 324h6v6h-6zM1410 324h6v6h-6zM1392 330h6v6h-6zM1380 432h6v6h-6zM1320 456h6v6h-6zM1716 456h6v6h-6zM1716 462h6v6h-6zM1308 468h6v6h-6zM1302 474h6v6h-6zM1812 480h6v6h-6zM1308 522h6v6h-6zM1320 522h6v6h-6zM1710 606h6v6h-6zM1362 612h6v6h-6zM1392 612h6v6h-6zM1404 816h6v6h-6zM1668 828h6v6h-6zM1638 846h6v6h-6zM1620 858h6v6h-6zM1638 858h6v6h-6zM1248 942h6v6h-6zM1200 960h6v6h-6zM1698 1026h6v6h-6zM1692 1038h6v6h-6zM1536 1074h6v6h-6zM1890 1272h6v6h-6z"/>
<path fill="#ff0000" d="M1542 306h6v6h-6zM1536 336h6v6h-6zM1122 414h6v6h-6zM1818 480h6v6h-6zM1512 834h6v6h-6zM1626 858h6v6h-6zM1644 858h6v6h-6zM1620 894h6v6h-6zM1632 930h6v6h-6zM1452 1014h6v6h-6zM1902 1272h6v6h-6z"/>
<path fill="#ff0000" d="M1404 306h6v6h-6zM1386 942h6v6h-6zM1464 972h6v6h-6zM1680 996h6v6h-6z"/>
<path fill="#ff0000" d="M1536 324h6v6h-6zM1236 360h6v6h-6z"/>
<path fill="#ff0000" d="M1392 324h6v6h-6z"/>
<path fill="#ff0000" d="M1380 438h6v6h-6zM1716 960h6v6h-6z"/>
<path fill="#ff0000" d="M1536 318h6v6h-6z"/>
<polygon points="179,1064 211,1064 213,1070 214,1078 222,1082 226,1095 236,1097 238,1083 242,1045 236,1020 228,1005 236,997 250,984 255,976 266,976 268,984 276,976 286,976 290,986 355,986 355,967 363,967 363,997 350,1004 350,1030 369,1034 369,1040 352,1042 350,1054 378,1054 378,1063 361,1066 361,1085 341,1085 332,1107 316,1109 304,1122 295,1137 302,1144 300,1152 317,1165 308,1174 311,1186 305,1204 351,1207 366,1219 369,1232 384,1241 384,1250 433,1253 457,1262 457,1271 518,1274 506,1292 521,1296 521,1305 548,1308 561,1326 615,1326 615,1320 606,1308 609,1289 625,1277 597,1274 597,1262 585,1262 585,1250 582,1247 582,1241 536,1238 536,1229 602,1229 602,1216 615,1216 615,1229 620,1238 643,1241 643,1247 658,1250 658,1262 670,1262 670,1274 637,1277 628,1296 625,1308 637,1317 640,1326 646,1341 643,1350 631,1365 176,1367 167,1358 158,1343 147,1336 146,1322 135,1314 135,1289 142,1278 138,1260 140,1242 146,1229 147,1209 142,1196 131,1191 124,1169 118,1153 109,1149 109,1142 126,1133 135,1118 147,1102 158,1091 160,1071" fill="#050505"/>
<polygon points="381,1098 390,1101 384,1119 372,1131 369,1143 354,1159 348,1172 337,1172 342,1162 354,1143 345,1151 332,1151 336,1142 348,1140 355,1131 369,1113" fill="#050505"/>
<polygon points="472,1195 521,1195 521,1204 552,1204 552,1218 485,1218 485,1204 472,1204" fill="#050505"/>
<polygon points="179,1064 211,1064 213,1070 214,1078 222,1082 226,1095 236,1097 238,1083 242,1045 236,1020 228,1005 236,997 250,984 255,976 266,976 268,984 276,976 286,976 290,986 355,986 355,967 363,967 363,997 350,1004 350,1030 369,1034 369,1040 352,1042 350,1054 378,1054 378,1063 361,1066 361,1085 341,1085 332,1107 316,1109 304,1122 295,1137 302,1144 300,1152 317,1165 308,1174 311,1186 305,1204 351,1207 366,1219 369,1232 384,1241 384,1250 433,1253 457,1262 457,1271 518,1274 506,1292 521,1296 521,1305 548,1308 561,1326 615,1326 615,1320 606,1308 609,1289 625,1277 597,1274 597,1262 585,1262 585,1250 582,1247 582,1241 536,1238 536,1229 602,1229 602,1216 615,1216 615,1229 620,1238 643,1241 643,1247 658,1250 658,1262 670,1262 670,1274 637,1277 628,1296 625,1308 637,1317 640,1326 646,1341 643,1350 631,1365 176,1367 167,1358 158,1343 147,1336 146,1322 135,1314 135,1289 142,1278 138,1260 140,1242 146,1229 147,1209 142,1196 131,1191 124,1169 118,1153 109,1149 109,1142 126,1133 135,1118 147,1102 158,1091 160,1071" fill="url(#tex)" opacity="0.8"/>
<polygon points="1219,1064 1251,1064 1253,1070 1254,1078 1262,1082 1266,1095 1276,1097 1278,1083 1282,1045 1276,1020 1268,1005 1276,997 1290,984 1295,976 1306,976 1308,984 1316,976 1326,976 1330,986 1395,986 1395,967 1403,967 1403,997 1390,1004 1390,1030 1409,1034 1409,1040 1392,1042 1390,1054 1418,1054 1418,1063 1401,1066 1401,1085 1381,1085 1372,1107 1356,1109 1344,1122 1335,1137 1342,1144 1340,1152 1357,1165 1348,1174 1351,1186 1345,1204 1391,1207 1406,1219 1409,1232 1424,1241 1424,1250 1473,1253 1497,1262 1497,1271 1558,1274 1546,1292 1561,1296 1561,1305 1588,1308 1601,1326 1655,1326 1655,1320 1646,1308 1649,1289 1665,1277 1637,1274 1637,1262 1625,1262 1625,1250 1622,1247 1622,1241 1576,1238 1576,1229 1642,1229 1642,1216 1655,1216 1655,1229 1660,1238 1683,1241 1683,1247 1698,1250 1698,1262 1710,1262 1710,1274 1677,1277 1668,1296 1665,1308 1677,1317 1680,1326 1686,1341 1683,1350 1671,1365 1216,1367 1207,1358 1198,1343 1187,1336 1186,1322 1175,1314 1175,1289 1182,1278 1178,1260 1180,1242 1186,1229 1187,1209 1182,1196 1171,1191 1164,1169 1158,1153 1149,1149 1149,1142 1166,1133 1175,1118 1187,1102 1198,1091 1200,1071" fill="#050505"/>
<polygon points="1421,1098 1430,1101 1424,1119 1412,1131 1409,1143 1394,1159 1388,1172 1377,1172 1382,1162 1394,1143 1385,1151 1372,1151 1376,1142 1388,1140 1395,1131 1409,1113" fill="#050505"/>
<polygon points="1512,1195 1561,1195 1561,1204 1592,1204 1592,1218 1525,1218 1525,1204 1512,1204" fill="#050505"/>
<polygon points="1219,1064 1251,1064 1253,1070 1254,1078 1262,1082 1266,1095 1276,1097 1278,1083 1282,1045 1276,1020 1268,1005 1276,997 1290,984 1295,976 1306,976 1308,984 1316,976 1326,976 1330,986 1395,986 1395,967 1403,967 1403,997 1390,1004 1390,1030 1409,1034 1409,1040 1392,1042 1390,1054 1418,1054 1418,1063 1401,1066 1401,1085 1381,1085 1372,1107 1356,1109 1344,1122 1335,1137 1342,1144 1340,1152 1357,1165 1348,1174 1351,1186 1345,1204 1391,1207 1406,1219 1409,1232 1424,1241 1424,1250 1473,1253 1497,1262 1497,1271 1558,1274 1546,1292 1561,1296 1561,1305 1588,1308 1601,1326 1655,1326 1655,1320 1646,1308 1649,1289 1665,1277 1637,1274 1637,1262 1625,1262 1625,1250 1622,1247 1622,1241 1576,1238 1576,1229 1642,1229 1642,1216 1655,1216 1655,1229 1660,1238 1683,1241 1683,1247 1698,1250 1698,1262 1710,1262 1710,1274 1677,1277 1668,1296 1665,1308 1677,1317 1680,1326 1686,1341 1683,1350 1671,1365 1216,1367 1207,1358 1198,1343 1187,1336 1186,1322 1175,1314 1175,1289 1182,1278 1178,1260 1180,1242 1186,1229 1187,1209 1182,1196 1171,1191 1164,1169 1158,1153 1149,1149 1149,1142 1166,1133 1175,1118 1187,1102 1198,1091 1200,1071" fill="url(#tex)" opacity="0.8"/>
</g>
<rect x="212.0" y="83.5" width="261.0" height="8.5" fill="#000"/>
<rect x="212.0" y="1368.5" width="261.0" height="9.0" fill="#000"/>
<rect x="733.0" y="83.5" width="169.0" height="8.5" fill="#000"/>
<rect x="733.0" y="1368.5" width="169.0" height="9.0" fill="#000"/>
<rect x="74.0" y="92.0" width="8.5" height="52.0" fill="#000"/>
<rect x="902.5" y="92.0" width="8.0" height="52.0" fill="#000"/>
<rect x="74.0" y="409.0" width="8.5" height="264.0" fill="#000"/>
<rect x="902.5" y="409.0" width="8.0" height="264.0" fill="#000"/>
<rect x="74.0" y="937.0" width="8.5" height="264.0" fill="#000"/>
<rect x="902.5" y="937.0" width="8.0" height="264.0" fill="#000"/>
<rect x="73.5" y="83" width="837.0" height="1294.5" fill="none" stroke="#c8c8c8" stroke-width="2.2"/>
<rect x="82.5" y="92" width="819.5" height="1276" fill="none" stroke="#c8c8c8" stroke-width="2.2"/>
<text x="215" y="76" font-size="43.5" text-anchor="middle">120°36′E</text>
<text x="215" y="1414" font-size="43.5" text-anchor="middle">120°36′E</text>
<text x="475" y="76" font-size="43.5" text-anchor="middle">120°48′E</text>
<text x="475" y="1414" font-size="43.5" text-anchor="middle">120°48′E</text>
<text x="735" y="76" font-size="43.5" text-anchor="middle">121°E</text>
<text x="735" y="1414" font-size="43.5" text-anchor="middle">121°E</text>
<text transform="translate(64.5,142.5) rotate(-90)" font-size="44.5" text-anchor="middle">15°36′N</text>
<text transform="translate(920,148) rotate(90)" font-size="44.5" text-anchor="middle">15°36′N</text>
<text transform="translate(64.5,407.5) rotate(-90)" font-size="44.5" text-anchor="middle">15°24′N</text>
<text transform="translate(920,413) rotate(90)" font-size="44.5" text-anchor="middle">15°24′N</text>
<text transform="translate(64.5,671.5) rotate(-90)" font-size="44.5" text-anchor="middle">15°12′N</text>
<text transform="translate(920,677) rotate(90)" font-size="44.5" text-anchor="middle">15°12′N</text>
<text transform="translate(64.5,935.5) rotate(-90)" font-size="44.5" text-anchor="middle">15°N</text>
<text transform="translate(920,941) rotate(90)" font-size="44.5" text-anchor="middle">15°N</text>
<text transform="translate(64.5,1199.5) rotate(-90)" font-size="44.5" text-anchor="middle">14°48′N</text>
<text transform="translate(920,1205) rotate(90)" font-size="44.5" text-anchor="middle">14°48′N</text>
<path d="M106,132 V145.5 H629.5 V132 M237.5,132 V145 M368,132 V145" fill="none" stroke="#000" stroke-width="3"/>
<text x="107.5" y="212.5" font-size="39" text-anchor="middle">0</text>
<text x="237.5" y="212.5" font-size="39" text-anchor="middle">10</text>
<text x="367" y="212.5" font-size="39" text-anchor="middle">20</text>
<text x="628.5" y="212.5" font-size="39" text-anchor="middle">40</text>
<text x="633" y="265.5" font-size="39" text-anchor="middle">Km</text>
<text x="821" y="184.5" font-size="52" text-anchor="middle">N</text>
<path d="M795,247 L815.5,206 L835,247 M795,247 L815.5,231 L835,247 M815.5,206 V231" fill="none" stroke="#000" stroke-width="4" stroke-linejoin="round"/>
<rect x="48" y="1497.5" width="888" height="32" fill="url(#cb)" stroke="#bbb" stroke-width="1.2"/>
<path d="M225.2,1497.5 v6 M225.2,1529.5 v-6" stroke="#333" stroke-width="1.2" opacity="0.6"/>
<path d="M402.9,1497.5 v6 M402.9,1529.5 v-6" stroke="#333" stroke-width="1.2" opacity="0.6"/>
<path d="M580.6,1497.5 v6 M580.6,1529.5 v-6" stroke="#333" stroke-width="1.2" opacity="0.6"/>
<path d="M758.3,1497.5 v6 M758.3,1529.5 v-6" stroke="#333" stroke-width="1.2" opacity="0.6"/>
<text x="59.5" y="1580" font-size="38" text-anchor="middle">1.0</text>
<text x="237.2" y="1580" font-size="38" text-anchor="middle">1.2</text>
<text x="414.9" y="1580" font-size="38" text-anchor="middle">1.4</text>
<text x="592.6" y="1580" font-size="38" text-anchor="middle">1.6</text>
<text x="770.3" y="1580" font-size="38" text-anchor="middle">1.8</text>
<text x="948.0" y="1580" font-size="38" text-anchor="middle">2.0</text>
<text x="491" y="1478" font-size="49" text-anchor="middle">n (Band 5)</text>
<text x="507" y="1670" font-size="88" class="serif" text-anchor="middle"><tspan font-weight="normal">(</tspan>e<tspan font-weight="normal">)</tspan></text>
<rect x="1252.0" y="83.5" width="261.0" height="8.5" fill="#000"/>
<rect x="1252.0" y="1368.5" width="261.0" height="9.0" fill="#000"/>
<rect x="1773.0" y="83.5" width="169.0" height="8.5" fill="#000"/>
<rect x="1773.0" y="1368.5" width="169.0" height="9.0" fill="#000"/>
<rect x="1114.0" y="92.0" width="8.5" height="52.0" fill="#000"/>
<rect x="1942.5" y="92.0" width="8.0" height="52.0" fill="#000"/>
<rect x="1114.0" y="409.0" width="8.5" height="264.0" fill="#000"/>
<rect x="1942.5" y="409.0" width="8.0" height="264.0" fill="#000"/>
<rect x="1114.0" y="937.0" width="8.5" height="264.0" fill="#000"/>
<rect x="1942.5" y="937.0" width="8.0" height="264.0" fill="#000"/>
<rect x="1113.5" y="83" width="837.0" height="1294.5" fill="none" stroke="#c8c8c8" stroke-width="2.2"/>
<rect x="1122.5" y="92" width="819.5" height="1276" fill="none" stroke="#c8c8c8" stroke-width="2.2"/>
<text x="1255" y="76" font-size="43.5" text-anchor="middle">120°36′E</text>
<text x="1255" y="1414" font-size="43.5" text-anchor="middle">120°36′E</text>
<text x="1515" y="76" font-size="43.5" text-anchor="middle">120°48′E</text>
<text x="1515" y="1414" font-size="43.5" text-anchor="middle">120°48′E</text>
<text x="1775" y="76" font-size="43.5" text-anchor="middle">121°E</text>
<text x="1775" y="1414" font-size="43.5" text-anchor="middle">121°E</text>
<text transform="translate(1104.5,142.5) rotate(-90)" font-size="44.5" text-anchor="middle">15°36′N</text>
<text transform="translate(1960,148) rotate(90)" font-size="44.5" text-anchor="middle">15°36′N</text>
<text transform="translate(1104.5,407.5) rotate(-90)" font-size="44.5" text-anchor="middle">15°24′N</text>
<text transform="translate(1960,413) rotate(90)" font-size="44.5" text-anchor="middle">15°24′N</text>
<text transform="translate(1104.5,671.5) rotate(-90)" font-size="44.5" text-anchor="middle">15°12′N</text>
<text transform="translate(1960,677) rotate(90)" font-size="44.5" text-anchor="middle">15°12′N</text>
<text transform="translate(1104.5,935.5) rotate(-90)" font-size="44.5" text-anchor="middle">15°N</text>
<text transform="translate(1960,941) rotate(90)" font-size="44.5" text-anchor="middle">15°N</text>
<text transform="translate(1104.5,1199.5) rotate(-90)" font-size="44.5" text-anchor="middle">14°48′N</text>
<text transform="translate(1960,1205) rotate(90)" font-size="44.5" text-anchor="middle">14°48′N</text>
<path d="M1146,132 V145.5 H1669.5 V132 M1277.5,132 V145 M1408,132 V145" fill="none" stroke="#000" stroke-width="3"/>
<text x="1147.5" y="212.5" font-size="39" text-anchor="middle">0</text>
<text x="1277.5" y="212.5" font-size="39" text-anchor="middle">10</text>
<text x="1407" y="212.5" font-size="39" text-anchor="middle">20</text>
<text x="1668.5" y="212.5" font-size="39" text-anchor="middle">40</text>
<text x="1673" y="265.5" font-size="39" text-anchor="middle">Km</text>
<text x="1861" y="184.5" font-size="52" text-anchor="middle">N</text>
<path d="M1835,247 L1855.5,206 L1875,247 M1835,247 L1855.5,231 L1875,247 M1855.5,206 V231" fill="none" stroke="#000" stroke-width="4" stroke-linejoin="round"/>
<rect x="1088" y="1497.5" width="888" height="32" fill="url(#cb)" stroke="#bbb" stroke-width="1.2"/>
<path d="M1265.2,1497.5 v6 M1265.2,1529.5 v-6" stroke="#333" stroke-width="1.2" opacity="0.6"/>
<path d="M1442.9,1497.5 v6 M1442.9,1529.5 v-6" stroke="#333" stroke-width="1.2" opacity="0.6"/>
<path d="M1620.6,1497.5 v6 M1620.6,1529.5 v-6" stroke="#333" stroke-width="1.2" opacity="0.6"/>
<path d="M1798.3,1497.5 v6 M1798.3,1529.5 v-6" stroke="#333" stroke-width="1.2" opacity="0.6"/>
<text x="1099.5" y="1580" font-size="38" text-anchor="middle">1.0</text>
<text x="1277.2" y="1580" font-size="38" text-anchor="middle">1.2</text>
<text x="1454.9" y="1580" font-size="38" text-anchor="middle">1.4</text>
<text x="1632.6" y="1580" font-size="38" text-anchor="middle">1.6</text>
<text x="1810.3" y="1580" font-size="38" text-anchor="middle">1.8</text>
<text x="1988.0" y="1580" font-size="38" text-anchor="middle">2.0</text>
<text x="1531" y="1478" font-size="49" text-anchor="middle">n (Band 6)</text>
<text x="1547" y="1670" font-size="88" class="serif" text-anchor="middle"><tspan font-weight="normal">(</tspan>f<tspan font-weight="normal">)</tspan></text>
</svg>
</body></html>
